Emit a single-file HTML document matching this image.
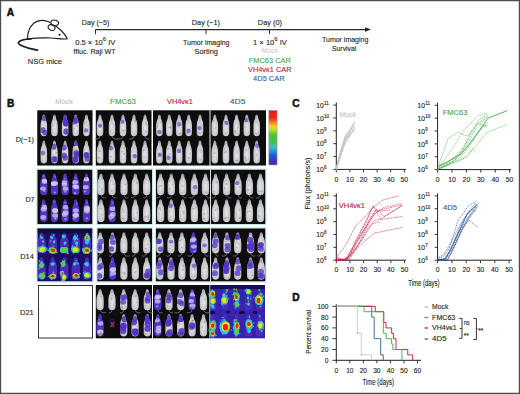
<!DOCTYPE html>
<html><head><meta charset="utf-8"><style>html,body{margin:0;padding:0;background:#fff;width:520px;height:394px;overflow:hidden}svg{display:block}</style></head>
<body><svg width="520" height="394" viewBox="0 0 520 394" font-family='"Liberation Sans", sans-serif'><path d="M0.55,0 V394 M0,0.55 H520 M519.4,0 V394 M0,393.4 H520" fill="none" stroke="#4c4c4c" stroke-width="1.2"/>
<text x="6.8" y="16.1" font-size="10.2" fill="#111" font-weight="bold" stroke="#111" stroke-width="0.5">A</text>
<g fill="none" stroke="#1e1e1e" stroke-width="1.1" stroke-linecap="round"><path d="M27.4,38.9 C27.5,33 30,26.5 34,23 C37.5,20.2 43,19.8 48,21.6 C52.5,23.3 56.5,26.5 60.5,30 C63.5,32.8 66,35.8 67.2,38.8 C64,39.6 58,38.4 51,38 C44,37.7 36,37.9 27.4,38.9 Z"/><ellipse cx="54.7" cy="22.8" rx="3.9" ry="2.6" transform="rotate(12 54.7 22.8)" fill="#fff"/><ellipse cx="51.6" cy="27.6" rx="3.6" ry="2.6" transform="rotate(25 51.6 27.6)" fill="#fff"/><path d="M31,38.8 C25,39 19.5,40.5 18.4,42.4 C18,44.8 24,47.4 37.4,50.2" stroke-width="1.8"/></g><circle cx="59.5" cy="34.7" r="1.05" fill="#111"/>
<text x="27.8" y="64.1" font-size="8" fill="#231f20" textLength="34.2" lengthAdjust="spacingAndGlyphs" stroke="#231f20" stroke-width="0.12">NSG mice</text>
<line x1="95.5" y1="29.6" x2="366" y2="29.6" stroke="#2a2a2a" stroke-width="1.25"/>
<path d="M365,27.3 L371,29.5 L365,31.7 Z" fill="#222"/>
<line x1="95.5" y1="29.5" x2="95.5" y2="34.2" stroke="#333" stroke-width="1"/>
<line x1="206" y1="29.5" x2="206" y2="34.2" stroke="#333" stroke-width="1"/>
<line x1="269.5" y1="29.5" x2="269.5" y2="34.2" stroke="#333" stroke-width="1"/>
<text x="81.8" y="24.7" font-size="7.7" fill="#231f20" textLength="27.6" lengthAdjust="spacingAndGlyphs" stroke="#231f20" stroke-width="0.12">Day (−5)</text>
<text x="191.8" y="24.7" font-size="7.7" fill="#231f20" textLength="28.2" lengthAdjust="spacingAndGlyphs" stroke="#231f20" stroke-width="0.12">Day (−1)</text>
<text x="257.8" y="24.7" font-size="7.7" fill="#231f20" textLength="24.2" lengthAdjust="spacingAndGlyphs" stroke="#231f20" stroke-width="0.12">Day (0)</text>
<text x="75.2" y="44.6" font-size="7.6" fill="#231f20" stroke="#231f20" stroke-width="0.12">0.5 × 10<tspan font-size="5.8" dy="-3.2">6</tspan><tspan dy="3.2"> IV</tspan></text>
<text x="73.6" y="53.6" font-size="7.6" fill="#231f20" textLength="42" lengthAdjust="spacingAndGlyphs" stroke="#231f20" stroke-width="0.12">ffluc. Raji WT</text>
<text x="253" y="44.6" font-size="7.6" fill="#231f20" stroke="#231f20" stroke-width="0.12">1 × 10<tspan font-size="5.8" dy="-3.2">6</tspan><tspan dy="3.2"> IV</tspan></text>
<text x="183" y="44.5" font-size="7.6" fill="#231f20" textLength="46.5" lengthAdjust="spacingAndGlyphs" stroke="#231f20" stroke-width="0.12">Tumor imaging</text>
<text x="194.5" y="53.8" font-size="7.6" fill="#231f20" textLength="23.5" lengthAdjust="spacingAndGlyphs" stroke="#231f20" stroke-width="0.12">Sorting</text>
<text x="261.6" y="53.4" font-size="7.4" fill="#d4ccd4" textLength="16.5" lengthAdjust="spacingAndGlyphs" stroke="#d4ccd4" stroke-width="0.12">Mock</text>
<text x="248.8" y="63.4" font-size="7.4" fill="#4aa84a" textLength="42" lengthAdjust="spacingAndGlyphs" stroke="#4aa84a" stroke-width="0.12">FMC63 CAR</text>
<text x="248" y="72.1" font-size="7.4" fill="#c0163c" textLength="43.5" lengthAdjust="spacingAndGlyphs" stroke="#c0163c" stroke-width="0.12">VH4vκ1 CAR</text>
<text x="253.1" y="80.7" font-size="7.4" fill="#2f5f9a" textLength="31.5" lengthAdjust="spacingAndGlyphs" stroke="#2f5f9a" stroke-width="0.12">4D5 CAR</text>
<text x="322" y="42.1" font-size="7.6" fill="#231f20" textLength="46.3" lengthAdjust="spacingAndGlyphs" stroke="#231f20" stroke-width="0.12">Tumor imaging</text>
<text x="332" y="50.7" font-size="7.6" fill="#231f20" textLength="24.3" lengthAdjust="spacingAndGlyphs" stroke="#231f20" stroke-width="0.12">Survival</text>
<text x="6.9" y="107" font-size="10.2" fill="#111" font-weight="bold" stroke="#111" stroke-width="0.5">B</text>
<text x="55.3" y="104.2" font-size="7" fill="#c4c4c4" textLength="17.6" lengthAdjust="spacingAndGlyphs" stroke="#c4c4c4" stroke-width="0.12">Mock</text>
<text x="110.1" y="104.2" font-size="7" fill="#4aa84a" textLength="25.8" lengthAdjust="spacingAndGlyphs" stroke="#4aa84a" stroke-width="0.12">FMC63</text>
<text x="167" y="104.2" font-size="7" fill="#c0163c" textLength="25.8" lengthAdjust="spacingAndGlyphs" stroke="#c0163c" stroke-width="0.12">VH4vκ1</text>
<text x="229.8" y="104.2" font-size="7" fill="#2f5f9a" textLength="15.6" lengthAdjust="spacingAndGlyphs" stroke="#2f5f9a" stroke-width="0.12">4D5</text>
<text x="15.7" y="141.5" font-size="7.3" fill="#231f20" textLength="18.1" lengthAdjust="spacingAndGlyphs" stroke="#231f20" stroke-width="0.12">D(−1)</text>
<text x="25.4" y="201.8" font-size="7.3" fill="#231f20" textLength="9.2" lengthAdjust="spacingAndGlyphs" stroke="#231f20" stroke-width="0.12">D7</text>
<text x="20.3" y="258.6" font-size="7.3" fill="#231f20" textLength="13.5" lengthAdjust="spacingAndGlyphs" stroke="#231f20" stroke-width="0.12">D14</text>
<text x="20" y="314.5" font-size="7.3" fill="#231f20" textLength="13.8" lengthAdjust="spacingAndGlyphs" stroke="#231f20" stroke-width="0.12">D21</text>
<defs><radialGradient id="mg" cx="0.5" cy="0.6" r="0.6"><stop offset="0" stop-color="#e6e6e8"/><stop offset="0.7" stop-color="#c6c6ca"/><stop offset="1" stop-color="#8a8a90"/></radialGradient><path id="ms" d="M0.5,0 C0.66,0 0.73,0.07 0.74,0.16 C0.75,0.22 0.84,0.25 0.9,0.3 C0.97,0.36 0.99,0.45 1,0.55 L1,0.84 C1,0.96 0.8,1 0.5,1 C0.2,1 0,0.96 0,0.84 L0,0.55 C0.01,0.45 0.03,0.36 0.1,0.3 C0.16,0.25 0.25,0.22 0.26,0.16 C0.27,0.07 0.34,0 0.5,0 Z"/><clipPath id="mc" clipPathUnits="userSpaceOnUse"><use href="#ms"/></clipPath><filter id="bl" x="-5%" y="-5%" width="110%" height="110%"><feGaussianBlur stdDeviation="0.55"/></filter><filter id="bl2" x="-5%" y="-5%" width="110%" height="110%"><feGaussianBlur stdDeviation="0.75"/></filter><linearGradient id="cbar" x1="0" y1="0" x2="0" y2="1"><stop offset="0" stop-color="#e01818"/><stop offset="0.15" stop-color="#e83020"/><stop offset="0.22" stop-color="#f08020"/><stop offset="0.3" stop-color="#f0d820"/><stop offset="0.36" stop-color="#b8e020"/><stop offset="0.45" stop-color="#50c030"/><stop offset="0.6" stop-color="#40c060"/><stop offset="0.66" stop-color="#40c0b8"/><stop offset="0.72" stop-color="#30a0e0"/><stop offset="0.82" stop-color="#2060d0"/><stop offset="0.92" stop-color="#4030c0"/><stop offset="1" stop-color="#502890"/></linearGradient></defs>
<g filter="url(#bl)"><rect x="37.3" y="110.3" width="55.20" height="55.20" fill="#070709"/><g transform="translate(40.46,114.44) scale(6.70,21.80)"><use href="#ms" fill="url(#mg)"/><g clip-path="url(#mc)"><ellipse cx="0.48" cy="0.59" rx="0.17" ry="0.03" fill="#707078" opacity="0.35"/><ellipse cx="0.50" cy="0.61" rx="0.10" ry="0.04" fill="#707078" opacity="0.35"/><ellipse cx="0.56" cy="0.76" rx="0.09" ry="0.03" fill="#707078" opacity="0.35"/><ellipse cx="0.34" cy="0.72" rx="0.40" ry="0.13" fill="#5232c4" opacity="0.75"/><ellipse cx="0.58" cy="0.18" rx="0.40" ry="0.13" fill="#5232c4" opacity="0.75"/><ellipse cx="0.69" cy="0.83" rx="0.40" ry="0.13" fill="#5232c4" opacity="0.75"/></g></g><g transform="translate(51.12,114.44) scale(6.70,21.80)"><use href="#ms" fill="url(#mg)"/><g clip-path="url(#mc)"><ellipse cx="0.58" cy="0.63" rx="0.10" ry="0.02" fill="#707078" opacity="0.35"/><ellipse cx="0.51" cy="0.24" rx="0.10" ry="0.03" fill="#707078" opacity="0.35"/><ellipse cx="0.27" cy="0.52" rx="0.12" ry="0.05" fill="#707078" opacity="0.35"/></g></g><g transform="translate(61.77,114.44) scale(6.70,21.80)"><use href="#ms" fill="url(#mg)"/><g clip-path="url(#mc)"><ellipse cx="0.51" cy="0.65" rx="0.13" ry="0.04" fill="#707078" opacity="0.35"/><ellipse cx="0.48" cy="0.39" rx="0.18" ry="0.05" fill="#707078" opacity="0.35"/><ellipse cx="0.67" cy="0.70" rx="0.11" ry="0.03" fill="#707078" opacity="0.35"/><ellipse cx="0.42" cy="0.14" rx="0.45" ry="0.14" fill="#5232c4" opacity="0.85"/><ellipse cx="0.61" cy="0.42" rx="0.45" ry="0.14" fill="#5232c4" opacity="0.85"/><ellipse cx="0.64" cy="0.40" rx="0.45" ry="0.14" fill="#5232c4" opacity="0.85"/><ellipse cx="0.68" cy="0.79" rx="0.45" ry="0.14" fill="#5232c4" opacity="0.85"/><ellipse cx="0.30" cy="0.26" rx="0.45" ry="0.14" fill="#5232c4" opacity="0.85"/></g></g><g transform="translate(72.42,114.44) scale(6.70,21.80)"><use href="#ms" fill="url(#mg)"/><g clip-path="url(#mc)"><ellipse cx="0.71" cy="0.53" rx="0.18" ry="0.03" fill="#707078" opacity="0.35"/><ellipse cx="0.29" cy="0.64" rx="0.16" ry="0.03" fill="#707078" opacity="0.35"/><ellipse cx="0.29" cy="0.43" rx="0.18" ry="0.04" fill="#707078" opacity="0.35"/><ellipse cx="0.35" cy="0.32" rx="0.40" ry="0.13" fill="#5232c4" opacity="0.75"/><ellipse cx="0.34" cy="0.19" rx="0.40" ry="0.13" fill="#5232c4" opacity="0.75"/><ellipse cx="0.62" cy="0.27" rx="0.40" ry="0.13" fill="#5232c4" opacity="0.75"/></g></g><g transform="translate(83.08,114.44) scale(6.70,21.80)"><use href="#ms" fill="url(#mg)"/><g clip-path="url(#mc)"><ellipse cx="0.53" cy="0.51" rx="0.10" ry="0.04" fill="#707078" opacity="0.35"/><ellipse cx="0.32" cy="0.65" rx="0.09" ry="0.03" fill="#707078" opacity="0.35"/><ellipse cx="0.36" cy="0.39" rx="0.18" ry="0.04" fill="#707078" opacity="0.35"/><ellipse cx="0.44" cy="0.73" rx="0.32" ry="0.10" fill="#5232c4" opacity="0.6"/></g></g><g transform="translate(40.46,140.38) scale(6.70,23.18)"><use href="#ms" fill="url(#mg)"/><g clip-path="url(#mc)"><ellipse cx="0.36" cy="0.48" rx="0.17" ry="0.04" fill="#707078" opacity="0.35"/><ellipse cx="0.30" cy="0.89" rx="0.10" ry="0.03" fill="#707078" opacity="0.35"/><ellipse cx="0.64" cy="0.43" rx="0.11" ry="0.02" fill="#707078" opacity="0.35"/><ellipse cx="0.38" cy="0.55" rx="0.32" ry="0.10" fill="#5232c4" opacity="0.6"/></g></g><g transform="translate(51.12,140.38) scale(6.70,23.18)"><use href="#ms" fill="url(#mg)"/><g clip-path="url(#mc)"><ellipse cx="0.37" cy="0.62" rx="0.12" ry="0.03" fill="#707078" opacity="0.35"/><ellipse cx="0.73" cy="0.54" rx="0.14" ry="0.05" fill="#707078" opacity="0.35"/><ellipse cx="0.34" cy="0.31" rx="0.17" ry="0.04" fill="#707078" opacity="0.35"/><ellipse cx="0.40" cy="0.28" rx="0.40" ry="0.13" fill="#5232c4" opacity="0.75"/><ellipse cx="0.60" cy="0.81" rx="0.40" ry="0.13" fill="#5232c4" opacity="0.75"/><ellipse cx="0.38" cy="0.82" rx="0.40" ry="0.13" fill="#5232c4" opacity="0.75"/></g></g><g transform="translate(61.77,140.38) scale(6.70,23.18)"><use href="#ms" fill="url(#mg)"/><g clip-path="url(#mc)"><ellipse cx="0.69" cy="0.62" rx="0.12" ry="0.02" fill="#707078" opacity="0.35"/><ellipse cx="0.27" cy="0.87" rx="0.10" ry="0.04" fill="#707078" opacity="0.35"/><ellipse cx="0.38" cy="0.78" rx="0.14" ry="0.03" fill="#707078" opacity="0.35"/><ellipse cx="0.37" cy="0.65" rx="0.40" ry="0.13" fill="#5232c4" opacity="0.75"/><ellipse cx="0.33" cy="0.31" rx="0.40" ry="0.13" fill="#5232c4" opacity="0.75"/><ellipse cx="0.52" cy="0.75" rx="0.40" ry="0.13" fill="#5232c4" opacity="0.75"/></g></g><g transform="translate(72.42,140.38) scale(6.70,23.18)"><use href="#ms" fill="url(#mg)"/><g clip-path="url(#mc)"><ellipse cx="0.56" cy="0.40" rx="0.17" ry="0.03" fill="#707078" opacity="0.35"/><ellipse cx="0.26" cy="0.39" rx="0.12" ry="0.02" fill="#707078" opacity="0.35"/><ellipse cx="0.34" cy="0.46" rx="0.14" ry="0.02" fill="#707078" opacity="0.35"/><ellipse cx="0.44" cy="0.83" rx="0.45" ry="0.14" fill="#5232c4" opacity="0.85"/><ellipse cx="0.69" cy="0.63" rx="0.45" ry="0.14" fill="#5232c4" opacity="0.85"/><ellipse cx="0.58" cy="0.57" rx="0.45" ry="0.14" fill="#5232c4" opacity="0.85"/><ellipse cx="0.36" cy="0.11" rx="0.45" ry="0.14" fill="#5232c4" opacity="0.85"/><ellipse cx="0.31" cy="0.84" rx="0.45" ry="0.14" fill="#5232c4" opacity="0.85"/></g></g><g transform="translate(83.08,140.38) scale(6.70,23.18)"><use href="#ms" fill="url(#mg)"/><g clip-path="url(#mc)"><ellipse cx="0.60" cy="0.87" rx="0.08" ry="0.04" fill="#707078" opacity="0.35"/><ellipse cx="0.49" cy="0.71" rx="0.11" ry="0.05" fill="#707078" opacity="0.35"/><ellipse cx="0.29" cy="0.58" rx="0.15" ry="0.05" fill="#707078" opacity="0.35"/><ellipse cx="0.59" cy="0.64" rx="0.40" ry="0.13" fill="#5232c4" opacity="0.75"/><ellipse cx="0.62" cy="0.79" rx="0.40" ry="0.13" fill="#5232c4" opacity="0.75"/><ellipse cx="0.44" cy="0.63" rx="0.40" ry="0.13" fill="#5232c4" opacity="0.75"/></g></g></g>
<g filter="url(#bl)"><rect x="95.8" y="110.3" width="55.70" height="55.20" fill="#070709"/><path d="M100.00,135.24 C100.00,138.24 97.19,139.74 94.39,138.74" fill="none" stroke="#8c8c90" stroke-width="0.8"/><path d="M112.00,135.24 C112.00,138.24 114.92,139.74 117.83,138.74" fill="none" stroke="#8c8c90" stroke-width="0.8"/><path d="M123.00,135.24 C123.00,138.24 120.20,139.74 117.41,138.74" fill="none" stroke="#8c8c90" stroke-width="0.8"/><path d="M134.00,135.24 C134.00,138.24 131.56,139.74 129.13,138.74" fill="none" stroke="#8c8c90" stroke-width="0.8"/><path d="M145.00,135.24 C145.00,138.24 147.07,139.74 149.14,138.74" fill="none" stroke="#8c8c90" stroke-width="0.8"/><g transform="translate(96.65,114.44) scale(6.70,21.80)"><use href="#ms" fill="url(#mg)"/><g clip-path="url(#mc)"><ellipse cx="0.26" cy="0.25" rx="0.09" ry="0.02" fill="#707078" opacity="0.35"/><ellipse cx="0.38" cy="0.49" rx="0.11" ry="0.05" fill="#707078" opacity="0.35"/><ellipse cx="0.60" cy="0.52" rx="0.13" ry="0.04" fill="#707078" opacity="0.35"/><ellipse cx="0.51" cy="0.51" rx="0.32" ry="0.10" fill="#5232c4" opacity="0.6"/></g></g><g transform="translate(108.65,114.44) scale(6.70,21.80)"><use href="#ms" fill="url(#mg)"/><g clip-path="url(#mc)"><ellipse cx="0.41" cy="0.26" rx="0.08" ry="0.05" fill="#707078" opacity="0.35"/><ellipse cx="0.31" cy="0.75" rx="0.15" ry="0.03" fill="#707078" opacity="0.35"/><ellipse cx="0.70" cy="0.46" rx="0.09" ry="0.04" fill="#707078" opacity="0.35"/></g></g><g transform="translate(119.65,114.44) scale(6.70,21.80)"><use href="#ms" fill="url(#mg)"/><g clip-path="url(#mc)"><ellipse cx="0.51" cy="0.73" rx="0.11" ry="0.05" fill="#707078" opacity="0.35"/><ellipse cx="0.50" cy="0.37" rx="0.12" ry="0.03" fill="#707078" opacity="0.35"/><ellipse cx="0.57" cy="0.76" rx="0.16" ry="0.03" fill="#707078" opacity="0.35"/><ellipse cx="0.41" cy="0.33" rx="0.32" ry="0.10" fill="#5232c4" opacity="0.6"/></g></g><g transform="translate(130.65,114.44) scale(6.70,21.80)"><use href="#ms" fill="url(#mg)"/><g clip-path="url(#mc)"><ellipse cx="0.71" cy="0.35" rx="0.09" ry="0.03" fill="#707078" opacity="0.35"/><ellipse cx="0.70" cy="0.23" rx="0.09" ry="0.05" fill="#707078" opacity="0.35"/><ellipse cx="0.66" cy="0.28" rx="0.13" ry="0.05" fill="#707078" opacity="0.35"/></g></g><g transform="translate(141.65,114.44) scale(6.70,21.80)"><use href="#ms" fill="url(#mg)"/><g clip-path="url(#mc)"><ellipse cx="0.67" cy="0.47" rx="0.13" ry="0.04" fill="#707078" opacity="0.35"/><ellipse cx="0.61" cy="0.79" rx="0.14" ry="0.03" fill="#707078" opacity="0.35"/><ellipse cx="0.66" cy="0.39" rx="0.14" ry="0.04" fill="#707078" opacity="0.35"/></g></g><g transform="translate(96.65,140.38) scale(6.70,23.18)"><use href="#ms" fill="url(#mg)"/><g clip-path="url(#mc)"><ellipse cx="0.39" cy="0.45" rx="0.14" ry="0.04" fill="#707078" opacity="0.35"/><ellipse cx="0.57" cy="0.48" rx="0.10" ry="0.04" fill="#707078" opacity="0.35"/><ellipse cx="0.38" cy="0.75" rx="0.16" ry="0.05" fill="#707078" opacity="0.35"/></g></g><g transform="translate(108.65,140.38) scale(6.70,23.18)"><use href="#ms" fill="url(#mg)"/><g clip-path="url(#mc)"><ellipse cx="0.31" cy="0.28" rx="0.13" ry="0.04" fill="#707078" opacity="0.35"/><ellipse cx="0.43" cy="0.25" rx="0.10" ry="0.04" fill="#707078" opacity="0.35"/><ellipse cx="0.38" cy="0.70" rx="0.16" ry="0.04" fill="#707078" opacity="0.35"/><ellipse cx="0.36" cy="0.34" rx="0.32" ry="0.10" fill="#5232c4" opacity="0.6"/></g></g><g transform="translate(119.65,140.38) scale(6.70,23.18)"><use href="#ms" fill="url(#mg)"/><g clip-path="url(#mc)"><ellipse cx="0.64" cy="0.58" rx="0.17" ry="0.04" fill="#707078" opacity="0.35"/><ellipse cx="0.75" cy="0.31" rx="0.16" ry="0.04" fill="#707078" opacity="0.35"/><ellipse cx="0.36" cy="0.49" rx="0.17" ry="0.03" fill="#707078" opacity="0.35"/></g></g><g transform="translate(130.65,140.38) scale(6.70,23.18)"><use href="#ms" fill="url(#mg)"/><g clip-path="url(#mc)"><ellipse cx="0.48" cy="0.34" rx="0.17" ry="0.02" fill="#707078" opacity="0.35"/><ellipse cx="0.53" cy="0.66" rx="0.13" ry="0.04" fill="#707078" opacity="0.35"/><ellipse cx="0.42" cy="0.43" rx="0.18" ry="0.02" fill="#707078" opacity="0.35"/><ellipse cx="0.61" cy="0.68" rx="0.32" ry="0.10" fill="#5232c4" opacity="0.6"/></g></g><g transform="translate(141.65,140.38) scale(6.70,23.18)"><use href="#ms" fill="url(#mg)"/><g clip-path="url(#mc)"><ellipse cx="0.71" cy="0.29" rx="0.10" ry="0.03" fill="#707078" opacity="0.35"/><ellipse cx="0.29" cy="0.42" rx="0.18" ry="0.05" fill="#707078" opacity="0.35"/><ellipse cx="0.38" cy="0.70" rx="0.08" ry="0.04" fill="#707078" opacity="0.35"/></g></g></g>
<g filter="url(#bl)"><rect x="153" y="110.3" width="56.50" height="55.20" fill="#070709"/><g transform="translate(156.05,114.44) scale(6.70,21.80)"><use href="#ms" fill="url(#mg)"/><g clip-path="url(#mc)"><ellipse cx="0.27" cy="0.44" rx="0.12" ry="0.03" fill="#707078" opacity="0.35"/><ellipse cx="0.71" cy="0.35" rx="0.17" ry="0.03" fill="#707078" opacity="0.35"/><ellipse cx="0.27" cy="0.57" rx="0.15" ry="0.05" fill="#707078" opacity="0.35"/><ellipse cx="0.49" cy="0.80" rx="0.32" ry="0.10" fill="#5232c4" opacity="0.6"/></g></g><g transform="translate(165.95,114.44) scale(6.70,21.80)"><use href="#ms" fill="url(#mg)"/><g clip-path="url(#mc)"><ellipse cx="0.70" cy="0.56" rx="0.15" ry="0.03" fill="#707078" opacity="0.35"/><ellipse cx="0.69" cy="0.61" rx="0.15" ry="0.04" fill="#707078" opacity="0.35"/><ellipse cx="0.47" cy="0.59" rx="0.16" ry="0.04" fill="#707078" opacity="0.35"/></g></g><g transform="translate(175.85,114.44) scale(6.70,21.80)"><use href="#ms" fill="url(#mg)"/><g clip-path="url(#mc)"><ellipse cx="0.33" cy="0.56" rx="0.17" ry="0.03" fill="#707078" opacity="0.35"/><ellipse cx="0.59" cy="0.87" rx="0.17" ry="0.04" fill="#707078" opacity="0.35"/><ellipse cx="0.40" cy="0.30" rx="0.13" ry="0.03" fill="#707078" opacity="0.35"/><ellipse cx="0.50" cy="0.45" rx="0.32" ry="0.10" fill="#5232c4" opacity="0.6"/></g></g><g transform="translate(185.35,114.44) scale(6.70,21.80)"><use href="#ms" fill="url(#mg)"/><g clip-path="url(#mc)"><ellipse cx="0.31" cy="0.20" rx="0.12" ry="0.04" fill="#707078" opacity="0.35"/><ellipse cx="0.27" cy="0.84" rx="0.13" ry="0.05" fill="#707078" opacity="0.35"/><ellipse cx="0.31" cy="0.27" rx="0.10" ry="0.05" fill="#707078" opacity="0.35"/><ellipse cx="0.49" cy="0.75" rx="0.32" ry="0.10" fill="#5232c4" opacity="0.6"/></g></g><g transform="translate(196.65,114.44) scale(6.70,21.80)"><use href="#ms" fill="url(#mg)"/><g clip-path="url(#mc)"><ellipse cx="0.65" cy="0.48" rx="0.10" ry="0.03" fill="#707078" opacity="0.35"/><ellipse cx="0.42" cy="0.83" rx="0.17" ry="0.05" fill="#707078" opacity="0.35"/><ellipse cx="0.51" cy="0.28" rx="0.12" ry="0.02" fill="#707078" opacity="0.35"/><ellipse cx="0.43" cy="0.62" rx="0.32" ry="0.10" fill="#5232c4" opacity="0.6"/></g></g><g transform="translate(156.05,140.38) scale(6.70,23.18)"><use href="#ms" fill="url(#mg)"/><g clip-path="url(#mc)"><ellipse cx="0.74" cy="0.22" rx="0.10" ry="0.02" fill="#707078" opacity="0.35"/><ellipse cx="0.39" cy="0.71" rx="0.10" ry="0.03" fill="#707078" opacity="0.35"/><ellipse cx="0.50" cy="0.61" rx="0.17" ry="0.04" fill="#707078" opacity="0.35"/><ellipse cx="0.57" cy="0.62" rx="0.32" ry="0.10" fill="#5232c4" opacity="0.6"/></g></g><g transform="translate(165.95,140.38) scale(6.70,23.18)"><use href="#ms" fill="url(#mg)"/><g clip-path="url(#mc)"><ellipse cx="0.69" cy="0.22" rx="0.14" ry="0.04" fill="#707078" opacity="0.35"/><ellipse cx="0.56" cy="0.58" rx="0.17" ry="0.04" fill="#707078" opacity="0.35"/><ellipse cx="0.36" cy="0.35" rx="0.13" ry="0.04" fill="#707078" opacity="0.35"/><ellipse cx="0.39" cy="0.75" rx="0.32" ry="0.10" fill="#5232c4" opacity="0.6"/></g></g><g transform="translate(175.85,140.38) scale(6.70,23.18)"><use href="#ms" fill="url(#mg)"/><g clip-path="url(#mc)"><ellipse cx="0.56" cy="0.44" rx="0.10" ry="0.04" fill="#707078" opacity="0.35"/><ellipse cx="0.70" cy="0.34" rx="0.16" ry="0.03" fill="#707078" opacity="0.35"/><ellipse cx="0.30" cy="0.82" rx="0.09" ry="0.02" fill="#707078" opacity="0.35"/><ellipse cx="0.47" cy="0.46" rx="0.32" ry="0.10" fill="#5232c4" opacity="0.6"/></g></g><g transform="translate(185.35,140.38) scale(6.70,23.18)"><use href="#ms" fill="url(#mg)"/><g clip-path="url(#mc)"><ellipse cx="0.72" cy="0.58" rx="0.15" ry="0.03" fill="#707078" opacity="0.35"/><ellipse cx="0.56" cy="0.76" rx="0.09" ry="0.04" fill="#707078" opacity="0.35"/><ellipse cx="0.43" cy="0.77" rx="0.12" ry="0.04" fill="#707078" opacity="0.35"/></g></g><g transform="translate(196.65,140.38) scale(6.70,23.18)"><use href="#ms" fill="url(#mg)"/><g clip-path="url(#mc)"><ellipse cx="0.57" cy="0.44" rx="0.18" ry="0.04" fill="#707078" opacity="0.35"/><ellipse cx="0.65" cy="0.54" rx="0.08" ry="0.04" fill="#707078" opacity="0.35"/><ellipse cx="0.56" cy="0.83" rx="0.13" ry="0.03" fill="#707078" opacity="0.35"/></g></g></g>
<g filter="url(#bl)"><rect x="210.5" y="110.3" width="55.50" height="55.20" fill="#070709"/><g transform="translate(211.45,114.44) scale(6.70,21.80)"><use href="#ms" fill="url(#mg)"/><g clip-path="url(#mc)"><ellipse cx="0.31" cy="0.32" rx="0.10" ry="0.03" fill="#707078" opacity="0.35"/><ellipse cx="0.59" cy="0.61" rx="0.09" ry="0.04" fill="#707078" opacity="0.35"/><ellipse cx="0.29" cy="0.27" rx="0.12" ry="0.03" fill="#707078" opacity="0.35"/></g></g><g transform="translate(222.65,114.44) scale(6.70,21.80)"><use href="#ms" fill="url(#mg)"/><g clip-path="url(#mc)"><ellipse cx="0.43" cy="0.35" rx="0.12" ry="0.04" fill="#707078" opacity="0.35"/><ellipse cx="0.27" cy="0.34" rx="0.12" ry="0.03" fill="#707078" opacity="0.35"/><ellipse cx="0.44" cy="0.85" rx="0.14" ry="0.02" fill="#707078" opacity="0.35"/><ellipse cx="0.59" cy="0.39" rx="0.32" ry="0.10" fill="#5232c4" opacity="0.6"/></g></g><g transform="translate(233.25,114.44) scale(6.70,21.80)"><use href="#ms" fill="url(#mg)"/><g clip-path="url(#mc)"><ellipse cx="0.29" cy="0.79" rx="0.17" ry="0.05" fill="#707078" opacity="0.35"/><ellipse cx="0.72" cy="0.60" rx="0.10" ry="0.04" fill="#707078" opacity="0.35"/><ellipse cx="0.42" cy="0.73" rx="0.11" ry="0.02" fill="#707078" opacity="0.35"/></g></g><g transform="translate(243.45,114.44) scale(6.70,21.80)"><use href="#ms" fill="url(#mg)"/><g clip-path="url(#mc)"><ellipse cx="0.62" cy="0.31" rx="0.17" ry="0.02" fill="#707078" opacity="0.35"/><ellipse cx="0.41" cy="0.58" rx="0.12" ry="0.03" fill="#707078" opacity="0.35"/><ellipse cx="0.34" cy="0.34" rx="0.10" ry="0.04" fill="#707078" opacity="0.35"/><ellipse cx="0.44" cy="0.26" rx="0.32" ry="0.10" fill="#5232c4" opacity="0.6"/></g></g><g transform="translate(253.35,114.44) scale(6.70,21.80)"><use href="#ms" fill="url(#mg)"/><g clip-path="url(#mc)"><ellipse cx="0.69" cy="0.89" rx="0.17" ry="0.02" fill="#707078" opacity="0.35"/><ellipse cx="0.39" cy="0.87" rx="0.11" ry="0.03" fill="#707078" opacity="0.35"/><ellipse cx="0.45" cy="0.33" rx="0.09" ry="0.04" fill="#707078" opacity="0.35"/></g></g><g transform="translate(211.45,140.38) scale(6.70,23.18)"><use href="#ms" fill="url(#mg)"/><g clip-path="url(#mc)"><ellipse cx="0.50" cy="0.35" rx="0.09" ry="0.03" fill="#707078" opacity="0.35"/><ellipse cx="0.54" cy="0.28" rx="0.09" ry="0.03" fill="#707078" opacity="0.35"/><ellipse cx="0.47" cy="0.55" rx="0.16" ry="0.04" fill="#707078" opacity="0.35"/></g></g><g transform="translate(222.65,140.38) scale(6.70,23.18)"><use href="#ms" fill="url(#mg)"/><g clip-path="url(#mc)"><ellipse cx="0.26" cy="0.38" rx="0.11" ry="0.03" fill="#707078" opacity="0.35"/><ellipse cx="0.52" cy="0.49" rx="0.13" ry="0.05" fill="#707078" opacity="0.35"/><ellipse cx="0.30" cy="0.51" rx="0.14" ry="0.04" fill="#707078" opacity="0.35"/></g></g><g transform="translate(233.25,140.38) scale(6.70,23.18)"><use href="#ms" fill="url(#mg)"/><g clip-path="url(#mc)"><ellipse cx="0.58" cy="0.87" rx="0.12" ry="0.05" fill="#707078" opacity="0.35"/><ellipse cx="0.44" cy="0.88" rx="0.17" ry="0.04" fill="#707078" opacity="0.35"/><ellipse cx="0.55" cy="0.50" rx="0.13" ry="0.03" fill="#707078" opacity="0.35"/></g></g><g transform="translate(243.45,140.38) scale(6.70,23.18)"><use href="#ms" fill="url(#mg)"/><g clip-path="url(#mc)"><ellipse cx="0.45" cy="0.42" rx="0.13" ry="0.03" fill="#707078" opacity="0.35"/><ellipse cx="0.38" cy="0.85" rx="0.15" ry="0.04" fill="#707078" opacity="0.35"/><ellipse cx="0.26" cy="0.74" rx="0.14" ry="0.04" fill="#707078" opacity="0.35"/></g></g><g transform="translate(253.35,140.38) scale(6.70,23.18)"><use href="#ms" fill="url(#mg)"/><g clip-path="url(#mc)"><ellipse cx="0.45" cy="0.68" rx="0.09" ry="0.03" fill="#707078" opacity="0.35"/><ellipse cx="0.45" cy="0.61" rx="0.15" ry="0.03" fill="#707078" opacity="0.35"/><ellipse cx="0.65" cy="0.36" rx="0.15" ry="0.03" fill="#707078" opacity="0.35"/><ellipse cx="0.58" cy="0.23" rx="0.32" ry="0.10" fill="#5232c4" opacity="0.6"/></g></g></g>
<g filter="url(#bl)"><rect x="37.3" y="169.5" width="55.20" height="54.50" fill="#070709"/><g transform="translate(40.11,173.59) scale(7.40,21.53)"><use href="#ms" fill="#5232c4"/><g clip-path="url(#mc)"><ellipse cx="0.38" cy="0.70" rx="0.40" ry="0.10" fill="#d4ccee" opacity="0.75"/><ellipse cx="0.62" cy="0.33" rx="0.40" ry="0.10" fill="#d4ccee" opacity="0.75"/><ellipse cx="0.64" cy="0.38" rx="0.40" ry="0.10" fill="#d4ccee" opacity="0.75"/><ellipse cx="0.58" cy="0.81" rx="0.20" ry="0.05" fill="#90a8f4" opacity="0.8"/><ellipse cx="0.47" cy="0.12" rx="0.18" ry="0.05" fill="#8870e0" opacity="0.7"/></g></g><g transform="translate(50.77,173.59) scale(7.40,21.53)"><use href="#ms" fill="#5232c4"/><g clip-path="url(#mc)"><ellipse cx="0.61" cy="0.45" rx="0.40" ry="0.10" fill="#d4ccee" opacity="0.75"/><ellipse cx="0.40" cy="0.45" rx="0.40" ry="0.10" fill="#d4ccee" opacity="0.75"/><ellipse cx="0.39" cy="0.48" rx="0.40" ry="0.10" fill="#d4ccee" opacity="0.75"/><ellipse cx="0.54" cy="0.88" rx="0.20" ry="0.05" fill="#90a8f4" opacity="0.8"/><ellipse cx="0.57" cy="0.15" rx="0.18" ry="0.05" fill="#8870e0" opacity="0.7"/></g></g><g transform="translate(61.42,173.59) scale(7.40,21.53)"><use href="#ms" fill="#5232c4"/><g clip-path="url(#mc)"><ellipse cx="0.57" cy="0.70" rx="0.40" ry="0.10" fill="#d4ccee" opacity="0.75"/><ellipse cx="0.39" cy="0.41" rx="0.40" ry="0.10" fill="#d4ccee" opacity="0.75"/><ellipse cx="0.39" cy="0.51" rx="0.40" ry="0.10" fill="#d4ccee" opacity="0.75"/><ellipse cx="0.50" cy="0.84" rx="0.20" ry="0.05" fill="#90a8f4" opacity="0.8"/><ellipse cx="0.50" cy="0.23" rx="0.18" ry="0.05" fill="#8870e0" opacity="0.7"/></g></g><g transform="translate(72.07,173.59) scale(7.40,21.53)"><use href="#ms" fill="#5232c4"/><g clip-path="url(#mc)"><ellipse cx="0.43" cy="0.59" rx="0.40" ry="0.10" fill="#d4ccee" opacity="0.75"/><ellipse cx="0.57" cy="0.63" rx="0.40" ry="0.10" fill="#d4ccee" opacity="0.75"/><ellipse cx="0.41" cy="0.40" rx="0.40" ry="0.10" fill="#d4ccee" opacity="0.75"/><ellipse cx="0.40" cy="0.91" rx="0.20" ry="0.05" fill="#90a8f4" opacity="0.8"/><ellipse cx="0.50" cy="0.20" rx="0.18" ry="0.05" fill="#8870e0" opacity="0.7"/></g></g><g transform="translate(82.73,173.59) scale(7.40,21.53)"><use href="#ms" fill="#5232c4"/><g clip-path="url(#mc)"><ellipse cx="0.41" cy="0.63" rx="0.40" ry="0.10" fill="#d4ccee" opacity="0.75"/><ellipse cx="0.54" cy="0.26" rx="0.40" ry="0.10" fill="#d4ccee" opacity="0.75"/><ellipse cx="0.43" cy="0.26" rx="0.40" ry="0.10" fill="#d4ccee" opacity="0.75"/><ellipse cx="0.32" cy="0.83" rx="0.20" ry="0.05" fill="#90a8f4" opacity="0.8"/><ellipse cx="0.41" cy="0.21" rx="0.18" ry="0.05" fill="#8870e0" opacity="0.7"/></g></g><g transform="translate(40.11,199.20) scale(7.40,22.89)"><use href="#ms" fill="#5232c4"/><g clip-path="url(#mc)"><ellipse cx="0.62" cy="0.34" rx="0.40" ry="0.10" fill="#d4ccee" opacity="0.75"/><ellipse cx="0.42" cy="0.79" rx="0.40" ry="0.10" fill="#d4ccee" opacity="0.75"/><ellipse cx="0.50" cy="0.44" rx="0.40" ry="0.10" fill="#d4ccee" opacity="0.75"/><ellipse cx="0.44" cy="0.86" rx="0.20" ry="0.05" fill="#90a8f4" opacity="0.8"/><ellipse cx="0.35" cy="0.23" rx="0.18" ry="0.05" fill="#8870e0" opacity="0.7"/></g></g><g transform="translate(50.77,199.20) scale(7.40,22.89)"><use href="#ms" fill="#5232c4"/><g clip-path="url(#mc)"><ellipse cx="0.59" cy="0.50" rx="0.40" ry="0.10" fill="#d4ccee" opacity="0.75"/><ellipse cx="0.60" cy="0.71" rx="0.40" ry="0.10" fill="#d4ccee" opacity="0.75"/><ellipse cx="0.58" cy="0.49" rx="0.40" ry="0.10" fill="#d4ccee" opacity="0.75"/><ellipse cx="0.60" cy="0.85" rx="0.20" ry="0.05" fill="#90a8f4" opacity="0.8"/><ellipse cx="0.36" cy="0.12" rx="0.18" ry="0.05" fill="#8870e0" opacity="0.7"/></g></g><g transform="translate(61.42,199.20) scale(7.40,22.89)"><use href="#ms" fill="#5232c4"/><g clip-path="url(#mc)"><ellipse cx="0.60" cy="0.58" rx="0.40" ry="0.10" fill="#d4ccee" opacity="0.75"/><ellipse cx="0.44" cy="0.67" rx="0.40" ry="0.10" fill="#d4ccee" opacity="0.75"/><ellipse cx="0.60" cy="0.35" rx="0.40" ry="0.10" fill="#d4ccee" opacity="0.75"/><ellipse cx="0.56" cy="0.87" rx="0.20" ry="0.05" fill="#90a8f4" opacity="0.8"/><ellipse cx="0.48" cy="0.15" rx="0.18" ry="0.05" fill="#8870e0" opacity="0.7"/></g></g><g transform="translate(72.07,199.20) scale(7.40,22.89)"><use href="#ms" fill="#5232c4"/><g clip-path="url(#mc)"><ellipse cx="0.51" cy="0.49" rx="0.40" ry="0.10" fill="#d4ccee" opacity="0.75"/><ellipse cx="0.52" cy="0.70" rx="0.40" ry="0.10" fill="#d4ccee" opacity="0.75"/><ellipse cx="0.49" cy="0.70" rx="0.40" ry="0.10" fill="#d4ccee" opacity="0.75"/><ellipse cx="0.30" cy="0.84" rx="0.20" ry="0.05" fill="#90a8f4" opacity="0.8"/><ellipse cx="0.66" cy="0.19" rx="0.18" ry="0.05" fill="#8870e0" opacity="0.7"/></g></g><g transform="translate(82.73,199.20) scale(7.40,22.89)"><use href="#ms" fill="#5232c4"/><g clip-path="url(#mc)"><ellipse cx="0.56" cy="0.52" rx="0.40" ry="0.10" fill="#d4ccee" opacity="0.75"/><ellipse cx="0.58" cy="0.43" rx="0.40" ry="0.10" fill="#d4ccee" opacity="0.75"/><ellipse cx="0.61" cy="0.37" rx="0.40" ry="0.10" fill="#d4ccee" opacity="0.75"/><ellipse cx="0.56" cy="0.84" rx="0.20" ry="0.05" fill="#90a8f4" opacity="0.8"/><ellipse cx="0.66" cy="0.15" rx="0.18" ry="0.05" fill="#8870e0" opacity="0.7"/></g></g></g><rect x="36.8" y="169.0" width="56.20" height="55.50" fill="none" stroke="#c8e6e6" stroke-width="1"/>
<g filter="url(#bl)"><rect x="97.3" y="169.5" width="54.70" height="54.50" fill="#070709"/><path d="M101.00,194.12 C101.00,197.12 103.35,198.62 105.71,197.62" fill="none" stroke="#8c8c90" stroke-width="0.8"/><path d="M112.00,194.12 C112.00,197.12 114.16,198.62 116.31,197.62" fill="none" stroke="#8c8c90" stroke-width="0.8"/><path d="M124.00,194.12 C124.00,197.12 126.19,198.62 128.37,197.62" fill="none" stroke="#8c8c90" stroke-width="0.8"/><path d="M135.30,194.12 C135.30,197.12 133.20,198.62 131.10,197.62" fill="none" stroke="#8c8c90" stroke-width="0.8"/><path d="M146.70,194.12 C146.70,197.12 145.07,198.62 143.45,197.62" fill="none" stroke="#8c8c90" stroke-width="0.8"/><g transform="translate(97.30,173.59) scale(7.40,21.53)"><use href="#ms" fill="url(#mg)"/><g clip-path="url(#mc)"><ellipse cx="0.66" cy="0.22" rx="0.15" ry="0.04" fill="#707078" opacity="0.35"/><ellipse cx="0.65" cy="0.72" rx="0.12" ry="0.03" fill="#707078" opacity="0.35"/><ellipse cx="0.33" cy="0.61" rx="0.10" ry="0.02" fill="#707078" opacity="0.35"/></g></g><g transform="translate(108.30,173.59) scale(7.40,21.53)"><use href="#ms" fill="url(#mg)"/><g clip-path="url(#mc)"><ellipse cx="0.48" cy="0.80" rx="0.16" ry="0.03" fill="#707078" opacity="0.35"/><ellipse cx="0.28" cy="0.31" rx="0.11" ry="0.02" fill="#707078" opacity="0.35"/><ellipse cx="0.67" cy="0.50" rx="0.14" ry="0.03" fill="#707078" opacity="0.35"/></g></g><g transform="translate(120.30,173.59) scale(7.40,21.53)"><use href="#ms" fill="url(#mg)"/><g clip-path="url(#mc)"><ellipse cx="0.52" cy="0.43" rx="0.11" ry="0.02" fill="#707078" opacity="0.35"/><ellipse cx="0.41" cy="0.22" rx="0.15" ry="0.02" fill="#707078" opacity="0.35"/><ellipse cx="0.66" cy="0.50" rx="0.15" ry="0.03" fill="#707078" opacity="0.35"/></g></g><g transform="translate(131.60,173.59) scale(7.40,21.53)"><use href="#ms" fill="url(#mg)"/><g clip-path="url(#mc)"><ellipse cx="0.70" cy="0.44" rx="0.13" ry="0.03" fill="#707078" opacity="0.35"/><ellipse cx="0.65" cy="0.43" rx="0.09" ry="0.03" fill="#707078" opacity="0.35"/><ellipse cx="0.65" cy="0.25" rx="0.14" ry="0.02" fill="#707078" opacity="0.35"/></g></g><g transform="translate(143.00,173.59) scale(7.40,21.53)"><use href="#ms" fill="url(#mg)"/><g clip-path="url(#mc)"><ellipse cx="0.63" cy="0.89" rx="0.11" ry="0.02" fill="#707078" opacity="0.35"/><ellipse cx="0.44" cy="0.26" rx="0.13" ry="0.04" fill="#707078" opacity="0.35"/><ellipse cx="0.26" cy="0.45" rx="0.08" ry="0.02" fill="#707078" opacity="0.35"/></g></g><g transform="translate(97.30,199.20) scale(7.40,22.89)"><use href="#ms" fill="url(#mg)"/><g clip-path="url(#mc)"><ellipse cx="0.71" cy="0.84" rx="0.10" ry="0.02" fill="#707078" opacity="0.35"/><ellipse cx="0.57" cy="0.68" rx="0.11" ry="0.03" fill="#707078" opacity="0.35"/><ellipse cx="0.51" cy="0.39" rx="0.17" ry="0.03" fill="#707078" opacity="0.35"/></g></g><g transform="translate(108.30,199.20) scale(7.40,22.89)"><use href="#ms" fill="#5232c4"/><g clip-path="url(#mc)"><ellipse cx="0.57" cy="0.42" rx="0.40" ry="0.10" fill="#d4ccee" opacity="0.75"/><ellipse cx="0.40" cy="0.76" rx="0.40" ry="0.10" fill="#d4ccee" opacity="0.75"/><ellipse cx="0.62" cy="0.66" rx="0.40" ry="0.10" fill="#d4ccee" opacity="0.75"/><ellipse cx="0.31" cy="0.86" rx="0.20" ry="0.05" fill="#90a8f4" opacity="0.8"/><ellipse cx="0.62" cy="0.15" rx="0.18" ry="0.05" fill="#8870e0" opacity="0.7"/></g></g><g transform="translate(120.30,199.20) scale(7.40,22.89)"><use href="#ms" fill="url(#mg)"/><g clip-path="url(#mc)"><ellipse cx="0.35" cy="0.45" rx="0.14" ry="0.04" fill="#707078" opacity="0.35"/><ellipse cx="0.49" cy="0.56" rx="0.12" ry="0.05" fill="#707078" opacity="0.35"/><ellipse cx="0.45" cy="0.84" rx="0.17" ry="0.04" fill="#707078" opacity="0.35"/></g></g><g transform="translate(131.60,199.20) scale(7.40,22.89)"><use href="#ms" fill="url(#mg)"/><g clip-path="url(#mc)"><ellipse cx="0.72" cy="0.59" rx="0.17" ry="0.03" fill="#707078" opacity="0.35"/><ellipse cx="0.45" cy="0.87" rx="0.15" ry="0.04" fill="#707078" opacity="0.35"/><ellipse cx="0.30" cy="0.80" rx="0.12" ry="0.03" fill="#707078" opacity="0.35"/></g></g><g transform="translate(143.00,199.20) scale(7.40,22.89)"><use href="#ms" fill="url(#mg)"/><g clip-path="url(#mc)"><ellipse cx="0.32" cy="0.76" rx="0.18" ry="0.04" fill="#707078" opacity="0.35"/><ellipse cx="0.64" cy="0.75" rx="0.09" ry="0.05" fill="#707078" opacity="0.35"/><ellipse cx="0.70" cy="0.81" rx="0.17" ry="0.03" fill="#707078" opacity="0.35"/></g></g></g><rect x="96.8" y="169.0" width="55.70" height="55.50" fill="none" stroke="#c8e6e6" stroke-width="1"/>
<g filter="url(#bl)"><rect x="156" y="169.5" width="54.50" height="54.50" fill="#070709"/><path d="M160.60,194.12 C160.60,197.12 158.03,198.62 155.46,197.62" fill="none" stroke="#8c8c90" stroke-width="0.8"/><path d="M171.30,194.12 C171.30,197.12 169.18,198.62 167.05,197.62" fill="none" stroke="#8c8c90" stroke-width="0.8"/><path d="M182.70,194.12 C182.70,197.12 184.42,198.62 186.13,197.62" fill="none" stroke="#8c8c90" stroke-width="0.8"/><path d="M194.40,194.12 C194.40,197.12 191.94,198.62 189.49,197.62" fill="none" stroke="#8c8c90" stroke-width="0.8"/><path d="M205.50,194.12 C205.50,197.12 207.77,198.62 210.05,197.62" fill="none" stroke="#8c8c90" stroke-width="0.8"/><g transform="translate(156.90,173.59) scale(7.40,21.53)"><use href="#ms" fill="url(#mg)"/><g clip-path="url(#mc)"><ellipse cx="0.28" cy="0.60" rx="0.10" ry="0.03" fill="#707078" opacity="0.35"/><ellipse cx="0.71" cy="0.30" rx="0.09" ry="0.03" fill="#707078" opacity="0.35"/><ellipse cx="0.56" cy="0.57" rx="0.17" ry="0.04" fill="#707078" opacity="0.35"/></g></g><g transform="translate(167.60,173.59) scale(7.40,21.53)"><use href="#ms" fill="url(#mg)"/><g clip-path="url(#mc)"><ellipse cx="0.29" cy="0.72" rx="0.13" ry="0.04" fill="#707078" opacity="0.35"/><ellipse cx="0.26" cy="0.33" rx="0.10" ry="0.04" fill="#707078" opacity="0.35"/><ellipse cx="0.64" cy="0.51" rx="0.08" ry="0.03" fill="#707078" opacity="0.35"/></g></g><g transform="translate(179.00,173.59) scale(7.40,21.53)"><use href="#ms" fill="url(#mg)"/><g clip-path="url(#mc)"><ellipse cx="0.50" cy="0.86" rx="0.18" ry="0.03" fill="#707078" opacity="0.35"/><ellipse cx="0.45" cy="0.59" rx="0.18" ry="0.04" fill="#707078" opacity="0.35"/><ellipse cx="0.28" cy="0.25" rx="0.09" ry="0.04" fill="#707078" opacity="0.35"/></g></g><g transform="translate(190.70,173.59) scale(7.40,21.53)"><use href="#ms" fill="url(#mg)"/><g clip-path="url(#mc)"><ellipse cx="0.59" cy="0.72" rx="0.16" ry="0.02" fill="#707078" opacity="0.35"/><ellipse cx="0.47" cy="0.80" rx="0.15" ry="0.03" fill="#707078" opacity="0.35"/><ellipse cx="0.40" cy="0.28" rx="0.16" ry="0.05" fill="#707078" opacity="0.35"/><ellipse cx="0.60" cy="0.63" rx="0.32" ry="0.10" fill="#5232c4" opacity="0.6"/></g></g><g transform="translate(201.80,173.59) scale(7.40,21.53)"><use href="#ms" fill="url(#mg)"/><g clip-path="url(#mc)"><ellipse cx="0.70" cy="0.31" rx="0.14" ry="0.05" fill="#707078" opacity="0.35"/><ellipse cx="0.62" cy="0.87" rx="0.16" ry="0.04" fill="#707078" opacity="0.35"/><ellipse cx="0.29" cy="0.33" rx="0.12" ry="0.02" fill="#707078" opacity="0.35"/></g></g><g transform="translate(156.90,199.20) scale(7.40,22.89)"><use href="#ms" fill="url(#mg)"/><g clip-path="url(#mc)"><ellipse cx="0.40" cy="0.39" rx="0.13" ry="0.04" fill="#707078" opacity="0.35"/><ellipse cx="0.47" cy="0.47" rx="0.09" ry="0.04" fill="#707078" opacity="0.35"/><ellipse cx="0.32" cy="0.64" rx="0.10" ry="0.03" fill="#707078" opacity="0.35"/></g></g><g transform="translate(167.60,199.20) scale(7.40,22.89)"><use href="#ms" fill="url(#mg)"/><g clip-path="url(#mc)"><ellipse cx="0.27" cy="0.52" rx="0.15" ry="0.02" fill="#707078" opacity="0.35"/><ellipse cx="0.27" cy="0.89" rx="0.12" ry="0.04" fill="#707078" opacity="0.35"/><ellipse cx="0.42" cy="0.78" rx="0.17" ry="0.02" fill="#707078" opacity="0.35"/><ellipse cx="0.41" cy="0.29" rx="0.32" ry="0.10" fill="#5232c4" opacity="0.6"/></g></g><g transform="translate(179.00,199.20) scale(7.40,22.89)"><use href="#ms" fill="url(#mg)"/><g clip-path="url(#mc)"><ellipse cx="0.60" cy="0.54" rx="0.17" ry="0.04" fill="#707078" opacity="0.35"/><ellipse cx="0.61" cy="0.63" rx="0.11" ry="0.04" fill="#707078" opacity="0.35"/><ellipse cx="0.37" cy="0.89" rx="0.13" ry="0.03" fill="#707078" opacity="0.35"/></g></g><g transform="translate(190.70,199.20) scale(7.40,22.89)"><use href="#ms" fill="url(#mg)"/><g clip-path="url(#mc)"><ellipse cx="0.34" cy="0.41" rx="0.12" ry="0.04" fill="#707078" opacity="0.35"/><ellipse cx="0.35" cy="0.43" rx="0.11" ry="0.02" fill="#707078" opacity="0.35"/><ellipse cx="0.61" cy="0.38" rx="0.13" ry="0.03" fill="#707078" opacity="0.35"/></g></g><g transform="translate(201.80,199.20) scale(7.40,22.89)"><use href="#ms" fill="url(#mg)"/><g clip-path="url(#mc)"><ellipse cx="0.37" cy="0.63" rx="0.13" ry="0.04" fill="#707078" opacity="0.35"/><ellipse cx="0.35" cy="0.85" rx="0.18" ry="0.04" fill="#707078" opacity="0.35"/><ellipse cx="0.72" cy="0.60" rx="0.08" ry="0.04" fill="#707078" opacity="0.35"/></g></g></g><rect x="155.5" y="169.0" width="55.50" height="55.50" fill="none" stroke="#c8e6e6" stroke-width="1"/>
<g filter="url(#bl)"><rect x="211" y="169.5" width="54.50" height="54.50" fill="#070709"/><path d="M215.60,194.12 C215.60,197.12 213.90,198.62 212.19,197.62" fill="none" stroke="#8c8c90" stroke-width="0.8"/><path d="M226.60,194.12 C226.60,197.12 228.96,198.62 231.33,197.62" fill="none" stroke="#8c8c90" stroke-width="0.8"/><path d="M238.10,194.12 C238.10,197.12 240.09,198.62 242.09,197.62" fill="none" stroke="#8c8c90" stroke-width="0.8"/><path d="M249.40,194.12 C249.40,197.12 251.30,198.62 253.20,197.62" fill="none" stroke="#8c8c90" stroke-width="0.8"/><path d="M260.50,194.12 C260.50,197.12 258.32,198.62 256.14,197.62" fill="none" stroke="#8c8c90" stroke-width="0.8"/><g transform="translate(211.90,173.59) scale(7.40,21.53)"><use href="#ms" fill="url(#mg)"/><g clip-path="url(#mc)"><ellipse cx="0.61" cy="0.37" rx="0.14" ry="0.04" fill="#707078" opacity="0.35"/><ellipse cx="0.28" cy="0.84" rx="0.10" ry="0.04" fill="#707078" opacity="0.35"/><ellipse cx="0.70" cy="0.43" rx="0.09" ry="0.05" fill="#707078" opacity="0.35"/></g></g><g transform="translate(222.90,173.59) scale(7.40,21.53)"><use href="#ms" fill="url(#mg)"/><g clip-path="url(#mc)"><ellipse cx="0.25" cy="0.68" rx="0.12" ry="0.04" fill="#707078" opacity="0.35"/><ellipse cx="0.43" cy="0.32" rx="0.14" ry="0.04" fill="#707078" opacity="0.35"/><ellipse cx="0.48" cy="0.48" rx="0.16" ry="0.05" fill="#707078" opacity="0.35"/></g></g><g transform="translate(234.40,173.59) scale(7.40,21.53)"><use href="#ms" fill="url(#mg)"/><g clip-path="url(#mc)"><ellipse cx="0.75" cy="0.30" rx="0.16" ry="0.05" fill="#707078" opacity="0.35"/><ellipse cx="0.70" cy="0.63" rx="0.14" ry="0.04" fill="#707078" opacity="0.35"/><ellipse cx="0.33" cy="0.49" rx="0.08" ry="0.04" fill="#707078" opacity="0.35"/><ellipse cx="0.39" cy="0.44" rx="0.32" ry="0.10" fill="#5232c4" opacity="0.6"/></g></g><g transform="translate(245.70,173.59) scale(7.40,21.53)"><use href="#ms" fill="url(#mg)"/><g clip-path="url(#mc)"><ellipse cx="0.42" cy="0.29" rx="0.10" ry="0.05" fill="#707078" opacity="0.35"/><ellipse cx="0.28" cy="0.75" rx="0.15" ry="0.04" fill="#707078" opacity="0.35"/><ellipse cx="0.45" cy="0.55" rx="0.09" ry="0.03" fill="#707078" opacity="0.35"/></g></g><g transform="translate(256.80,173.59) scale(7.40,21.53)"><use href="#ms" fill="url(#mg)"/><g clip-path="url(#mc)"><ellipse cx="0.70" cy="0.84" rx="0.14" ry="0.03" fill="#707078" opacity="0.35"/><ellipse cx="0.39" cy="0.82" rx="0.13" ry="0.05" fill="#707078" opacity="0.35"/><ellipse cx="0.60" cy="0.78" rx="0.09" ry="0.02" fill="#707078" opacity="0.35"/></g></g><g transform="translate(211.90,199.20) scale(7.40,22.89)"><use href="#ms" fill="url(#mg)"/><g clip-path="url(#mc)"><ellipse cx="0.72" cy="0.43" rx="0.13" ry="0.03" fill="#707078" opacity="0.35"/><ellipse cx="0.26" cy="0.84" rx="0.11" ry="0.04" fill="#707078" opacity="0.35"/><ellipse cx="0.47" cy="0.46" rx="0.11" ry="0.04" fill="#707078" opacity="0.35"/></g></g><g transform="translate(222.90,199.20) scale(7.40,22.89)"><use href="#ms" fill="url(#mg)"/><g clip-path="url(#mc)"><ellipse cx="0.69" cy="0.81" rx="0.10" ry="0.05" fill="#707078" opacity="0.35"/><ellipse cx="0.37" cy="0.81" rx="0.18" ry="0.03" fill="#707078" opacity="0.35"/><ellipse cx="0.30" cy="0.84" rx="0.13" ry="0.04" fill="#707078" opacity="0.35"/></g></g><g transform="translate(234.40,199.20) scale(7.40,22.89)"><use href="#ms" fill="url(#mg)"/><g clip-path="url(#mc)"><ellipse cx="0.72" cy="0.82" rx="0.18" ry="0.04" fill="#707078" opacity="0.35"/><ellipse cx="0.69" cy="0.46" rx="0.13" ry="0.04" fill="#707078" opacity="0.35"/><ellipse cx="0.33" cy="0.65" rx="0.12" ry="0.02" fill="#707078" opacity="0.35"/></g></g><g transform="translate(245.70,199.20) scale(7.40,22.89)"><use href="#ms" fill="url(#mg)"/><g clip-path="url(#mc)"><ellipse cx="0.29" cy="0.56" rx="0.09" ry="0.05" fill="#707078" opacity="0.35"/><ellipse cx="0.54" cy="0.52" rx="0.11" ry="0.04" fill="#707078" opacity="0.35"/><ellipse cx="0.26" cy="0.32" rx="0.12" ry="0.03" fill="#707078" opacity="0.35"/></g></g><g transform="translate(256.80,199.20) scale(7.40,22.89)"><use href="#ms" fill="url(#mg)"/><g clip-path="url(#mc)"><ellipse cx="0.52" cy="0.30" rx="0.15" ry="0.03" fill="#707078" opacity="0.35"/><ellipse cx="0.40" cy="0.52" rx="0.11" ry="0.03" fill="#707078" opacity="0.35"/><ellipse cx="0.32" cy="0.74" rx="0.16" ry="0.05" fill="#707078" opacity="0.35"/></g></g></g><rect x="210.5" y="169.0" width="55.50" height="55.50" fill="none" stroke="#c8e6e6" stroke-width="1"/>
<g filter="url(#bl2)"><rect x="37.3" y="228.3" width="55.20" height="53.20" fill="#1a0e62"/><g transform="translate(37.20,232.29) scale(8.60,21.01)"><use href="#ms" fill="#4a2cbc"/><g clip-path="url(#mc)"></g></g><g transform="translate(48.50,232.29) scale(8.60,21.01)"><use href="#ms" fill="#4a2cbc"/><g clip-path="url(#mc)"></g></g><g transform="translate(60.00,232.29) scale(8.60,21.01)"><use href="#ms" fill="#4a2cbc"/><g clip-path="url(#mc)"></g></g><g transform="translate(71.50,232.29) scale(8.60,21.01)"><use href="#ms" fill="#4a2cbc"/><g clip-path="url(#mc)"></g></g><g transform="translate(82.70,232.29) scale(8.60,21.01)"><use href="#ms" fill="#4a2cbc"/><g clip-path="url(#mc)"></g></g><g transform="translate(37.20,257.29) scale(8.60,22.34)"><use href="#ms" fill="#4a2cbc"/><g clip-path="url(#mc)"></g></g><g transform="translate(48.50,257.29) scale(8.60,22.34)"><use href="#ms" fill="#4a2cbc"/><g clip-path="url(#mc)"></g></g><g transform="translate(60.00,257.29) scale(8.60,22.34)"><use href="#ms" fill="#4a2cbc"/><g clip-path="url(#mc)"></g></g><g transform="translate(71.50,257.29) scale(8.60,22.34)"><use href="#ms" fill="#4a2cbc"/><g clip-path="url(#mc)"></g></g><g transform="translate(82.70,257.29) scale(8.60,22.34)"><use href="#ms" fill="#4a2cbc"/><g clip-path="url(#mc)"></g></g><rect x="37.3" y="228.3" width="55.2" height="5" fill="#0a0830" opacity="0.8"/><ellipse cx="41.08" cy="237.19" rx="1.00" ry="1.25" fill="#38c0e8" opacity="0.95"/><ellipse cx="41.18" cy="237.35" rx="1.00" ry="1.25" fill="#38c0e8" opacity="0.95"/><ellipse cx="41.15" cy="237.33" rx="1.00" ry="1.25" fill="#38c0e8" opacity="0.95"/><ellipse cx="43.00" cy="241.50" rx="1.06" ry="1.32" fill="#38c0e8" opacity="0.95"/><ellipse cx="40.94" cy="249.44" rx="3.60" ry="2.88" fill="#38c0e8" opacity="0.95"/><ellipse cx="43.00" cy="249.77" rx="3.60" ry="2.88" fill="#38c0e8" opacity="0.95"/><ellipse cx="42.90" cy="248.80" rx="3.60" ry="2.88" fill="#38c0e8" opacity="0.95"/><ellipse cx="41.94" cy="249.12" rx="2.99" ry="2.39" fill="#58d040" opacity="0.95"/><ellipse cx="42.08" cy="249.61" rx="2.99" ry="2.39" fill="#58d040" opacity="0.95"/><ellipse cx="41.09" cy="249.08" rx="2.99" ry="2.39" fill="#58d040" opacity="0.95"/><ellipse cx="41.67" cy="249.99" rx="2.38" ry="1.90" fill="#f0e020" opacity="0.95"/><ellipse cx="42.39" cy="249.10" rx="2.38" ry="1.90" fill="#f0e020" opacity="0.95"/><ellipse cx="42.44" cy="249.07" rx="2.38" ry="1.90" fill="#f0e020" opacity="0.95"/><ellipse cx="38.83" cy="247.20" rx="1.08" ry="0.50" fill="#38c0e8" opacity="0.85"/><ellipse cx="42.84" cy="244.93" rx="1.02" ry="0.70" fill="#38c0e8" opacity="0.85"/><ellipse cx="46.87" cy="248.53" rx="0.61" ry="1.18" fill="#38c0e8" opacity="0.85"/><ellipse cx="51.81" cy="237.86" rx="1.00" ry="1.25" fill="#38c0e8" opacity="0.95"/><ellipse cx="51.93" cy="237.13" rx="1.00" ry="1.25" fill="#38c0e8" opacity="0.95"/><ellipse cx="51.95" cy="237.84" rx="1.00" ry="1.25" fill="#38c0e8" opacity="0.95"/><ellipse cx="53.85" cy="241.87" rx="1.00" ry="1.25" fill="#38c0e8" opacity="0.95"/><ellipse cx="54.20" cy="242.07" rx="1.00" ry="1.25" fill="#38c0e8" opacity="0.95"/><ellipse cx="54.06" cy="242.16" rx="1.00" ry="1.25" fill="#38c0e8" opacity="0.95"/><ellipse cx="52.02" cy="250.24" rx="3.60" ry="2.88" fill="#38c0e8" opacity="0.95"/><ellipse cx="52.56" cy="250.85" rx="3.60" ry="2.88" fill="#38c0e8" opacity="0.95"/><ellipse cx="52.29" cy="250.45" rx="3.60" ry="2.88" fill="#38c0e8" opacity="0.95"/><ellipse cx="52.40" cy="250.14" rx="2.99" ry="2.39" fill="#58d040" opacity="0.95"/><ellipse cx="53.82" cy="251.17" rx="2.99" ry="2.39" fill="#58d040" opacity="0.95"/><ellipse cx="52.73" cy="250.36" rx="2.99" ry="2.39" fill="#58d040" opacity="0.95"/><ellipse cx="53.07" cy="250.40" rx="2.38" ry="1.90" fill="#f0e020" opacity="0.95"/><ellipse cx="52.82" cy="250.91" rx="2.38" ry="1.90" fill="#f0e020" opacity="0.95"/><ellipse cx="52.93" cy="250.75" rx="2.38" ry="1.90" fill="#f0e020" opacity="0.95"/><ellipse cx="53.14" cy="250.90" rx="1.76" ry="1.41" fill="#e82818" opacity="0.95"/><ellipse cx="52.58" cy="250.28" rx="1.76" ry="1.41" fill="#e82818" opacity="0.95"/><ellipse cx="53.35" cy="250.47" rx="1.76" ry="1.41" fill="#e82818" opacity="0.95"/><ellipse cx="47.36" cy="250.15" rx="0.97" ry="0.58" fill="#58d040" opacity="0.85"/><ellipse cx="52.93" cy="246.11" rx="0.52" ry="1.16" fill="#58d040" opacity="0.85"/><ellipse cx="56.92" cy="252.52" rx="1.05" ry="0.74" fill="#58d040" opacity="0.85"/><ellipse cx="63.83" cy="237.04" rx="1.23" ry="1.54" fill="#38c0e8" opacity="0.95"/><ellipse cx="63.36" cy="236.82" rx="1.23" ry="1.54" fill="#38c0e8" opacity="0.95"/><ellipse cx="63.25" cy="236.60" rx="1.23" ry="1.54" fill="#38c0e8" opacity="0.95"/><ellipse cx="64.78" cy="243.15" rx="1.00" ry="1.25" fill="#38c0e8" opacity="0.95"/><ellipse cx="65.31" cy="242.74" rx="1.00" ry="1.25" fill="#38c0e8" opacity="0.95"/><ellipse cx="64.72" cy="243.38" rx="1.00" ry="1.25" fill="#38c0e8" opacity="0.95"/><ellipse cx="64.08" cy="249.83" rx="3.60" ry="2.88" fill="#38c0e8" opacity="0.95"/><ellipse cx="63.41" cy="250.17" rx="3.60" ry="2.88" fill="#38c0e8" opacity="0.95"/><ellipse cx="64.73" cy="249.92" rx="3.60" ry="2.88" fill="#38c0e8" opacity="0.95"/><ellipse cx="63.85" cy="249.34" rx="2.99" ry="2.39" fill="#58d040" opacity="0.95"/><ellipse cx="64.78" cy="249.30" rx="2.99" ry="2.39" fill="#58d040" opacity="0.95"/><ellipse cx="63.99" cy="250.51" rx="2.99" ry="2.39" fill="#58d040" opacity="0.95"/><ellipse cx="67.66" cy="253.14" rx="0.88" ry="1.05" fill="#38c0e8" opacity="0.85"/><ellipse cx="67.79" cy="252.40" rx="0.54" ry="0.79" fill="#38c0e8" opacity="0.85"/><ellipse cx="67.61" cy="253.54" rx="1.09" ry="0.82" fill="#38c0e8" opacity="0.85"/><ellipse cx="74.99" cy="238.30" rx="1.69" ry="2.11" fill="#38c0e8" opacity="0.95"/><ellipse cx="74.98" cy="237.72" rx="1.69" ry="2.11" fill="#38c0e8" opacity="0.95"/><ellipse cx="74.90" cy="237.53" rx="1.69" ry="2.11" fill="#38c0e8" opacity="0.95"/><ellipse cx="76.41" cy="243.47" rx="1.23" ry="1.54" fill="#38c0e8" opacity="0.95"/><ellipse cx="76.85" cy="243.12" rx="1.23" ry="1.54" fill="#38c0e8" opacity="0.95"/><ellipse cx="76.50" cy="242.84" rx="1.23" ry="1.54" fill="#38c0e8" opacity="0.95"/><ellipse cx="74.58" cy="249.09" rx="3.60" ry="2.88" fill="#38c0e8" opacity="0.95"/><ellipse cx="76.13" cy="250.16" rx="3.60" ry="2.88" fill="#38c0e8" opacity="0.95"/><ellipse cx="75.19" cy="250.01" rx="3.60" ry="2.88" fill="#38c0e8" opacity="0.95"/><ellipse cx="76.01" cy="249.79" rx="2.99" ry="2.39" fill="#58d040" opacity="0.95"/><ellipse cx="75.81" cy="249.89" rx="2.99" ry="2.39" fill="#58d040" opacity="0.95"/><ellipse cx="75.24" cy="249.81" rx="2.99" ry="2.39" fill="#58d040" opacity="0.95"/><ellipse cx="75.17" cy="249.48" rx="2.38" ry="1.90" fill="#f0e020" opacity="0.95"/><ellipse cx="75.90" cy="249.73" rx="2.38" ry="1.90" fill="#f0e020" opacity="0.95"/><ellipse cx="75.19" cy="250.03" rx="2.38" ry="1.90" fill="#f0e020" opacity="0.95"/><ellipse cx="72.49" cy="246.21" rx="0.78" ry="1.04" fill="#38c0e8" opacity="0.85"/><ellipse cx="73.42" cy="252.73" rx="0.99" ry="0.95" fill="#58d040" opacity="0.85"/><ellipse cx="76.87" cy="245.92" rx="0.94" ry="1.08" fill="#58d040" opacity="0.85"/><ellipse cx="86.78" cy="238.34" rx="2.38" ry="2.98" fill="#38c0e8" opacity="0.95"/><ellipse cx="87.55" cy="238.05" rx="2.38" ry="2.98" fill="#38c0e8" opacity="0.95"/><ellipse cx="87.71" cy="238.55" rx="2.38" ry="2.98" fill="#38c0e8" opacity="0.95"/><ellipse cx="87.02" cy="237.75" rx="1.98" ry="2.47" fill="#58d040" opacity="0.95"/><ellipse cx="86.59" cy="238.22" rx="1.98" ry="2.47" fill="#58d040" opacity="0.95"/><ellipse cx="87.54" cy="237.66" rx="1.98" ry="2.47" fill="#58d040" opacity="0.95"/><ellipse cx="87.19" cy="237.97" rx="1.57" ry="1.96" fill="#f0e020" opacity="0.95"/><ellipse cx="87.23" cy="237.30" rx="1.57" ry="1.96" fill="#f0e020" opacity="0.95"/><ellipse cx="87.28" cy="237.80" rx="1.57" ry="1.96" fill="#f0e020" opacity="0.95"/><ellipse cx="87.12" cy="237.63" rx="1.17" ry="1.46" fill="#e82818" opacity="0.95"/><ellipse cx="87.09" cy="237.95" rx="1.17" ry="1.46" fill="#e82818" opacity="0.95"/><ellipse cx="87.10" cy="237.90" rx="1.17" ry="1.46" fill="#e82818" opacity="0.95"/><ellipse cx="89.83" cy="238.32" rx="0.87" ry="0.63" fill="#58d040" opacity="0.85"/><ellipse cx="87.16" cy="234.09" rx="1.09" ry="1.19" fill="#38c0e8" opacity="0.85"/><ellipse cx="88.89" cy="241.73" rx="0.69" ry="0.63" fill="#38c0e8" opacity="0.85"/><ellipse cx="86.71" cy="241.94" rx="1.54" ry="1.92" fill="#38c0e8" opacity="0.95"/><ellipse cx="86.97" cy="242.36" rx="1.54" ry="1.92" fill="#38c0e8" opacity="0.95"/><ellipse cx="87.11" cy="242.61" rx="1.54" ry="1.92" fill="#38c0e8" opacity="0.95"/><ellipse cx="86.41" cy="251.23" rx="3.60" ry="2.88" fill="#38c0e8" opacity="0.95"/><ellipse cx="85.88" cy="250.33" rx="3.60" ry="2.88" fill="#38c0e8" opacity="0.95"/><ellipse cx="86.50" cy="250.34" rx="3.60" ry="2.88" fill="#38c0e8" opacity="0.95"/><ellipse cx="86.28" cy="251.00" rx="2.99" ry="2.39" fill="#58d040" opacity="0.95"/><ellipse cx="86.76" cy="249.81" rx="2.99" ry="2.39" fill="#58d040" opacity="0.95"/><ellipse cx="87.21" cy="249.89" rx="2.99" ry="2.39" fill="#58d040" opacity="0.95"/><ellipse cx="87.07" cy="250.31" rx="2.38" ry="1.90" fill="#f0e020" opacity="0.95"/><ellipse cx="87.12" cy="251.04" rx="2.38" ry="1.90" fill="#f0e020" opacity="0.95"/><ellipse cx="87.47" cy="250.40" rx="2.38" ry="1.90" fill="#f0e020" opacity="0.95"/><ellipse cx="87.35" cy="250.63" rx="1.76" ry="1.41" fill="#e82818" opacity="0.95"/><ellipse cx="86.86" cy="250.18" rx="1.76" ry="1.41" fill="#e82818" opacity="0.95"/><ellipse cx="87.11" cy="250.56" rx="1.76" ry="1.41" fill="#e82818" opacity="0.95"/><ellipse cx="92.58" cy="249.26" rx="0.71" ry="1.13" fill="#38c0e8" opacity="0.85"/><ellipse cx="91.24" cy="250.52" rx="0.70" ry="1.11" fill="#38c0e8" opacity="0.85"/><ellipse cx="82.56" cy="248.99" rx="0.80" ry="0.84" fill="#38c0e8" opacity="0.85"/><ellipse cx="42.42" cy="238.07" rx="1.10" ry="0.73" fill="#58d040" opacity="0.85"/><ellipse cx="42.56" cy="237.41" rx="0.68" ry="0.62" fill="#58d040" opacity="0.85"/><ellipse cx="41.46" cy="237.29" rx="0.83" ry="0.70" fill="#7a90f0" opacity="0.85"/><ellipse cx="40.38" cy="235.32" rx="0.60" ry="0.91" fill="#7a90f0" opacity="0.85"/><ellipse cx="41.64" cy="262.19" rx="1.15" ry="1.23" fill="#38c0e8" opacity="0.85"/><ellipse cx="41.46" cy="266.75" rx="1.01" ry="0.83" fill="#7a90f0" opacity="0.85"/><ellipse cx="41.98" cy="263.80" rx="0.95" ry="1.08" fill="#38c0e8" opacity="0.85"/><ellipse cx="39.37" cy="261.01" rx="0.70" ry="1.17" fill="#58d040" opacity="0.85"/><ellipse cx="53.82" cy="235.21" rx="0.74" ry="1.15" fill="#38c0e8" opacity="0.85"/><ellipse cx="50.76" cy="237.02" rx="0.82" ry="1.33" fill="#38c0e8" opacity="0.85"/><ellipse cx="50.66" cy="241.23" rx="0.80" ry="1.06" fill="#7a90f0" opacity="0.85"/><ellipse cx="54.38" cy="241.73" rx="0.83" ry="1.15" fill="#38c0e8" opacity="0.85"/><ellipse cx="54.56" cy="263.72" rx="1.03" ry="0.84" fill="#38c0e8" opacity="0.85"/><ellipse cx="53.66" cy="263.46" rx="0.70" ry="1.22" fill="#58d040" opacity="0.85"/><ellipse cx="51.23" cy="263.83" rx="0.88" ry="1.00" fill="#58d040" opacity="0.85"/><ellipse cx="52.97" cy="263.40" rx="0.88" ry="0.64" fill="#38c0e8" opacity="0.85"/><ellipse cx="63.28" cy="235.68" rx="0.54" ry="1.35" fill="#58d040" opacity="0.85"/><ellipse cx="65.28" cy="242.83" rx="1.20" ry="1.16" fill="#38c0e8" opacity="0.85"/><ellipse cx="62.64" cy="235.98" rx="0.93" ry="1.26" fill="#38c0e8" opacity="0.85"/><ellipse cx="65.23" cy="236.08" rx="0.70" ry="1.33" fill="#38c0e8" opacity="0.85"/><ellipse cx="62.91" cy="261.48" rx="1.06" ry="0.65" fill="#38c0e8" opacity="0.85"/><ellipse cx="62.29" cy="260.87" rx="0.77" ry="0.66" fill="#38c0e8" opacity="0.85"/><ellipse cx="64.61" cy="260.95" rx="0.78" ry="1.10" fill="#38c0e8" opacity="0.85"/><ellipse cx="64.00" cy="262.52" rx="0.92" ry="0.99" fill="#58d040" opacity="0.85"/><ellipse cx="77.63" cy="236.11" rx="0.71" ry="1.05" fill="#58d040" opacity="0.85"/><ellipse cx="77.61" cy="239.44" rx="0.93" ry="0.81" fill="#38c0e8" opacity="0.85"/><ellipse cx="74.72" cy="241.00" rx="0.86" ry="0.71" fill="#38c0e8" opacity="0.85"/><ellipse cx="77.40" cy="238.63" rx="0.77" ry="0.70" fill="#38c0e8" opacity="0.85"/><ellipse cx="76.48" cy="260.68" rx="0.97" ry="0.67" fill="#38c0e8" opacity="0.85"/><ellipse cx="75.83" cy="263.63" rx="0.77" ry="0.97" fill="#58d040" opacity="0.85"/><ellipse cx="74.07" cy="264.25" rx="0.88" ry="0.91" fill="#38c0e8" opacity="0.85"/><ellipse cx="77.76" cy="263.43" rx="1.06" ry="1.20" fill="#38c0e8" opacity="0.85"/><ellipse cx="89.08" cy="240.32" rx="1.07" ry="0.71" fill="#7a90f0" opacity="0.85"/><ellipse cx="86.36" cy="236.88" rx="0.73" ry="1.09" fill="#58d040" opacity="0.85"/><ellipse cx="88.30" cy="238.03" rx="1.01" ry="0.89" fill="#58d040" opacity="0.85"/><ellipse cx="88.34" cy="238.47" rx="1.10" ry="1.01" fill="#38c0e8" opacity="0.85"/><ellipse cx="88.06" cy="263.16" rx="0.57" ry="0.63" fill="#38c0e8" opacity="0.85"/><ellipse cx="85.66" cy="263.92" rx="1.16" ry="1.13" fill="#58d040" opacity="0.85"/><ellipse cx="84.80" cy="263.76" rx="1.12" ry="1.10" fill="#7a90f0" opacity="0.85"/><ellipse cx="86.22" cy="263.70" rx="0.63" ry="1.12" fill="#38c0e8" opacity="0.85"/><ellipse cx="41.34" cy="265.62" rx="2.00" ry="2.50" fill="#38c0e8" opacity="0.95"/><ellipse cx="41.97" cy="265.26" rx="2.00" ry="2.50" fill="#38c0e8" opacity="0.95"/><ellipse cx="41.19" cy="265.45" rx="2.00" ry="2.50" fill="#38c0e8" opacity="0.95"/><ellipse cx="41.15" cy="265.52" rx="1.66" ry="2.07" fill="#58d040" opacity="0.95"/><ellipse cx="41.23" cy="265.78" rx="1.66" ry="2.07" fill="#58d040" opacity="0.95"/><ellipse cx="41.02" cy="266.35" rx="1.66" ry="2.07" fill="#58d040" opacity="0.95"/><ellipse cx="39.34" cy="268.72" rx="0.90" ry="0.83" fill="#38c0e8" opacity="0.85"/><ellipse cx="43.72" cy="264.80" rx="0.67" ry="0.97" fill="#58d040" opacity="0.85"/><ellipse cx="41.18" cy="262.81" rx="0.93" ry="0.90" fill="#38c0e8" opacity="0.85"/><ellipse cx="41.79" cy="276.18" rx="2.94" ry="2.50" fill="#38c0e8" opacity="0.95"/><ellipse cx="42.26" cy="276.32" rx="2.94" ry="2.50" fill="#38c0e8" opacity="0.95"/><ellipse cx="41.83" cy="275.51" rx="2.94" ry="2.50" fill="#38c0e8" opacity="0.95"/><ellipse cx="41.29" cy="275.44" rx="2.44" ry="2.07" fill="#58d040" opacity="0.95"/><ellipse cx="42.25" cy="275.96" rx="2.44" ry="2.07" fill="#58d040" opacity="0.95"/><ellipse cx="41.92" cy="275.58" rx="2.44" ry="2.07" fill="#58d040" opacity="0.95"/><ellipse cx="42.36" cy="278.77" rx="0.94" ry="0.69" fill="#58d040" opacity="0.85"/><ellipse cx="37.65" cy="276.80" rx="0.60" ry="0.52" fill="#58d040" opacity="0.85"/><ellipse cx="43.81" cy="272.69" rx="1.06" ry="1.00" fill="#58d040" opacity="0.85"/><ellipse cx="52.30" cy="264.29" rx="1.23" ry="1.54" fill="#38c0e8" opacity="0.95"/><ellipse cx="52.19" cy="263.97" rx="1.23" ry="1.54" fill="#38c0e8" opacity="0.95"/><ellipse cx="52.64" cy="264.14" rx="1.23" ry="1.54" fill="#38c0e8" opacity="0.95"/><ellipse cx="53.00" cy="276.46" rx="3.05" ry="2.59" fill="#38c0e8" opacity="0.95"/><ellipse cx="52.14" cy="276.54" rx="3.05" ry="2.59" fill="#38c0e8" opacity="0.95"/><ellipse cx="52.90" cy="276.23" rx="3.05" ry="2.59" fill="#38c0e8" opacity="0.95"/><ellipse cx="53.59" cy="276.61" rx="2.53" ry="2.15" fill="#58d040" opacity="0.95"/><ellipse cx="52.52" cy="276.26" rx="2.53" ry="2.15" fill="#58d040" opacity="0.95"/><ellipse cx="53.22" cy="275.58" rx="2.53" ry="2.15" fill="#58d040" opacity="0.95"/><ellipse cx="52.67" cy="276.46" rx="2.01" ry="1.71" fill="#f0e020" opacity="0.95"/><ellipse cx="53.37" cy="275.56" rx="2.01" ry="1.71" fill="#f0e020" opacity="0.95"/><ellipse cx="53.61" cy="275.64" rx="2.01" ry="1.71" fill="#f0e020" opacity="0.95"/><ellipse cx="52.60" cy="276.18" rx="1.49" ry="1.27" fill="#e82818" opacity="0.95"/><ellipse cx="53.12" cy="275.95" rx="1.49" ry="1.27" fill="#e82818" opacity="0.95"/><ellipse cx="52.87" cy="275.94" rx="1.49" ry="1.27" fill="#e82818" opacity="0.95"/><ellipse cx="53.47" cy="272.43" rx="0.94" ry="1.14" fill="#38c0e8" opacity="0.85"/><ellipse cx="51.55" cy="279.27" rx="0.83" ry="0.60" fill="#38c0e8" opacity="0.85"/><ellipse cx="48.41" cy="276.42" rx="0.99" ry="0.72" fill="#58d040" opacity="0.85"/><ellipse cx="63.04" cy="263.85" rx="2.00" ry="2.50" fill="#38c0e8" opacity="0.95"/><ellipse cx="63.18" cy="263.85" rx="2.00" ry="2.50" fill="#38c0e8" opacity="0.95"/><ellipse cx="63.41" cy="264.62" rx="2.00" ry="2.50" fill="#38c0e8" opacity="0.95"/><ellipse cx="63.24" cy="263.93" rx="1.66" ry="2.07" fill="#58d040" opacity="0.95"/><ellipse cx="63.71" cy="263.91" rx="1.66" ry="2.07" fill="#58d040" opacity="0.95"/><ellipse cx="63.19" cy="264.22" rx="1.66" ry="2.07" fill="#58d040" opacity="0.95"/><ellipse cx="61.86" cy="266.59" rx="0.96" ry="0.77" fill="#58d040" opacity="0.85"/><ellipse cx="63.77" cy="261.71" rx="0.89" ry="1.03" fill="#58d040" opacity="0.85"/><ellipse cx="61.10" cy="262.99" rx="0.94" ry="0.99" fill="#38c0e8" opacity="0.85"/><ellipse cx="62.24" cy="273.83" rx="1.77" ry="2.21" fill="#38c0e8" opacity="0.95"/><ellipse cx="62.37" cy="272.89" rx="1.77" ry="2.21" fill="#38c0e8" opacity="0.95"/><ellipse cx="62.02" cy="272.94" rx="1.77" ry="2.21" fill="#38c0e8" opacity="0.95"/><ellipse cx="62.28" cy="273.60" rx="1.47" ry="1.83" fill="#58d040" opacity="0.95"/><ellipse cx="62.30" cy="272.90" rx="1.47" ry="1.83" fill="#58d040" opacity="0.95"/><ellipse cx="62.74" cy="273.47" rx="1.47" ry="1.83" fill="#58d040" opacity="0.95"/><ellipse cx="62.16" cy="272.99" rx="1.17" ry="1.46" fill="#f0e020" opacity="0.95"/><ellipse cx="62.23" cy="273.27" rx="1.17" ry="1.46" fill="#f0e020" opacity="0.95"/><ellipse cx="62.76" cy="273.81" rx="1.17" ry="1.46" fill="#f0e020" opacity="0.95"/><ellipse cx="62.50" cy="273.40" rx="1.08" ry="1.35" fill="#e82818" opacity="0.95"/><ellipse cx="60.83" cy="271.63" rx="0.58" ry="0.64" fill="#58d040" opacity="0.85"/><ellipse cx="61.16" cy="275.47" rx="0.94" ry="0.57" fill="#38c0e8" opacity="0.85"/><ellipse cx="60.40" cy="272.90" rx="0.77" ry="1.16" fill="#38c0e8" opacity="0.85"/><ellipse cx="64.40" cy="276.86" rx="2.15" ry="2.69" fill="#38c0e8" opacity="0.95"/><ellipse cx="63.75" cy="278.20" rx="2.15" ry="2.69" fill="#38c0e8" opacity="0.95"/><ellipse cx="63.95" cy="277.39" rx="2.15" ry="2.69" fill="#38c0e8" opacity="0.95"/><ellipse cx="63.93" cy="277.87" rx="1.78" ry="2.23" fill="#58d040" opacity="0.95"/><ellipse cx="64.49" cy="277.55" rx="1.78" ry="2.23" fill="#58d040" opacity="0.95"/><ellipse cx="64.52" cy="277.63" rx="1.78" ry="2.23" fill="#58d040" opacity="0.95"/><ellipse cx="63.65" cy="277.85" rx="1.42" ry="1.77" fill="#f0e020" opacity="0.95"/><ellipse cx="63.93" cy="277.00" rx="1.42" ry="1.77" fill="#f0e020" opacity="0.95"/><ellipse cx="64.42" cy="276.98" rx="1.42" ry="1.77" fill="#f0e020" opacity="0.95"/><ellipse cx="61.40" cy="275.80" rx="0.74" ry="0.65" fill="#58d040" opacity="0.85"/><ellipse cx="63.56" cy="280.75" rx="0.96" ry="1.05" fill="#58d040" opacity="0.85"/><ellipse cx="61.80" cy="280.56" rx="0.87" ry="0.78" fill="#38c0e8" opacity="0.85"/><ellipse cx="74.73" cy="264.32" rx="1.23" ry="1.54" fill="#38c0e8" opacity="0.95"/><ellipse cx="74.99" cy="263.56" rx="1.23" ry="1.54" fill="#38c0e8" opacity="0.95"/><ellipse cx="74.75" cy="263.61" rx="1.23" ry="1.54" fill="#38c0e8" opacity="0.95"/><ellipse cx="76.40" cy="276.12" rx="2.94" ry="2.50" fill="#38c0e8" opacity="0.95"/><ellipse cx="75.45" cy="275.96" rx="2.94" ry="2.50" fill="#38c0e8" opacity="0.95"/><ellipse cx="75.68" cy="275.79" rx="2.94" ry="2.50" fill="#38c0e8" opacity="0.95"/><ellipse cx="76.55" cy="275.66" rx="2.44" ry="2.07" fill="#58d040" opacity="0.95"/><ellipse cx="76.46" cy="275.34" rx="2.44" ry="2.07" fill="#58d040" opacity="0.95"/><ellipse cx="75.25" cy="275.52" rx="2.44" ry="2.07" fill="#58d040" opacity="0.95"/><ellipse cx="76.10" cy="275.18" rx="1.94" ry="1.65" fill="#f0e020" opacity="0.95"/><ellipse cx="75.87" cy="275.31" rx="1.94" ry="1.65" fill="#f0e020" opacity="0.95"/><ellipse cx="75.43" cy="275.31" rx="1.94" ry="1.65" fill="#f0e020" opacity="0.95"/><ellipse cx="75.89" cy="275.48" rx="1.44" ry="1.22" fill="#e82818" opacity="0.95"/><ellipse cx="76.18" cy="275.42" rx="1.44" ry="1.22" fill="#e82818" opacity="0.95"/><ellipse cx="76.43" cy="275.74" rx="1.44" ry="1.22" fill="#e82818" opacity="0.95"/><ellipse cx="79.83" cy="273.80" rx="0.82" ry="1.06" fill="#38c0e8" opacity="0.85"/><ellipse cx="73.29" cy="278.20" rx="0.67" ry="0.55" fill="#38c0e8" opacity="0.85"/><ellipse cx="79.27" cy="277.19" rx="0.68" ry="1.15" fill="#58d040" opacity="0.85"/><ellipse cx="86.77" cy="264.27" rx="1.61" ry="2.02" fill="#38c0e8" opacity="0.95"/><ellipse cx="86.57" cy="264.32" rx="1.61" ry="2.02" fill="#38c0e8" opacity="0.95"/><ellipse cx="87.17" cy="264.58" rx="1.61" ry="2.02" fill="#38c0e8" opacity="0.95"/><ellipse cx="87.76" cy="275.30" rx="3.05" ry="2.59" fill="#38c0e8" opacity="0.95"/><ellipse cx="87.64" cy="275.39" rx="3.05" ry="2.59" fill="#38c0e8" opacity="0.95"/><ellipse cx="87.21" cy="274.53" rx="3.05" ry="2.59" fill="#38c0e8" opacity="0.95"/><ellipse cx="87.03" cy="275.53" rx="2.53" ry="2.15" fill="#58d040" opacity="0.95"/><ellipse cx="86.59" cy="275.64" rx="2.53" ry="2.15" fill="#58d040" opacity="0.95"/><ellipse cx="87.07" cy="274.86" rx="2.53" ry="2.15" fill="#58d040" opacity="0.95"/><ellipse cx="86.37" cy="274.88" rx="2.01" ry="1.71" fill="#f0e020" opacity="0.95"/><ellipse cx="86.60" cy="275.16" rx="2.01" ry="1.71" fill="#f0e020" opacity="0.95"/><ellipse cx="87.50" cy="275.44" rx="2.01" ry="1.71" fill="#f0e020" opacity="0.95"/><ellipse cx="83.95" cy="272.77" rx="1.01" ry="1.12" fill="#38c0e8" opacity="0.85"/><ellipse cx="85.13" cy="271.12" rx="1.03" ry="0.65" fill="#38c0e8" opacity="0.85"/><ellipse cx="85.69" cy="278.07" rx="1.04" ry="0.62" fill="#38c0e8" opacity="0.85"/></g><rect x="36.8" y="227.8" width="56.20" height="54.20" fill="none" stroke="#c8e6e6" stroke-width="1"/>
<g filter="url(#bl)"><rect x="97.3" y="228.3" width="54.70" height="53.20" fill="#070709"/><path d="M100.30,252.30 C100.30,255.30 98.36,256.80 96.41,255.80" fill="none" stroke="#8c8c90" stroke-width="0.8"/><path d="M112.50,252.30 C112.50,255.30 110.71,256.80 108.91,255.80" fill="none" stroke="#8c8c90" stroke-width="0.8"/><path d="M123.90,252.30 C123.90,255.30 126.75,256.80 129.60,255.80" fill="none" stroke="#8c8c90" stroke-width="0.8"/><path d="M135.30,252.30 C135.30,255.30 133.54,256.80 131.78,255.80" fill="none" stroke="#8c8c90" stroke-width="0.8"/><path d="M146.70,252.30 C146.70,255.30 144.40,256.80 142.10,255.80" fill="none" stroke="#8c8c90" stroke-width="0.8"/><g transform="translate(96.60,232.29) scale(7.40,21.01)"><use href="#ms" fill="url(#mg)"/><g clip-path="url(#mc)"><ellipse cx="0.37" cy="0.86" rx="0.18" ry="0.04" fill="#707078" opacity="0.35"/><ellipse cx="0.40" cy="0.77" rx="0.18" ry="0.03" fill="#707078" opacity="0.35"/><ellipse cx="0.46" cy="0.82" rx="0.11" ry="0.05" fill="#707078" opacity="0.35"/><ellipse cx="0.61" cy="0.44" rx="0.40" ry="0.13" fill="#5232c4" opacity="0.75"/><ellipse cx="0.37" cy="0.75" rx="0.40" ry="0.13" fill="#5232c4" opacity="0.75"/><ellipse cx="0.35" cy="0.63" rx="0.40" ry="0.13" fill="#5232c4" opacity="0.75"/></g></g><g transform="translate(108.80,232.29) scale(7.40,21.01)"><use href="#ms" fill="url(#mg)"/><g clip-path="url(#mc)"><ellipse cx="0.38" cy="0.70" rx="0.13" ry="0.03" fill="#707078" opacity="0.35"/><ellipse cx="0.39" cy="0.76" rx="0.13" ry="0.02" fill="#707078" opacity="0.35"/><ellipse cx="0.51" cy="0.88" rx="0.17" ry="0.03" fill="#707078" opacity="0.35"/><ellipse cx="0.39" cy="0.24" rx="0.40" ry="0.13" fill="#5232c4" opacity="0.75"/><ellipse cx="0.57" cy="0.47" rx="0.40" ry="0.13" fill="#5232c4" opacity="0.75"/><ellipse cx="0.33" cy="0.79" rx="0.40" ry="0.13" fill="#5232c4" opacity="0.75"/></g></g><g transform="translate(120.20,232.29) scale(7.40,21.01)"><use href="#ms" fill="url(#mg)"/><g clip-path="url(#mc)"><ellipse cx="0.29" cy="0.84" rx="0.08" ry="0.04" fill="#707078" opacity="0.35"/><ellipse cx="0.52" cy="0.50" rx="0.14" ry="0.02" fill="#707078" opacity="0.35"/><ellipse cx="0.74" cy="0.33" rx="0.10" ry="0.04" fill="#707078" opacity="0.35"/></g></g><g transform="translate(131.60,232.29) scale(7.40,21.01)"><use href="#ms" fill="url(#mg)"/><g clip-path="url(#mc)"><ellipse cx="0.26" cy="0.75" rx="0.10" ry="0.05" fill="#707078" opacity="0.35"/><ellipse cx="0.56" cy="0.84" rx="0.14" ry="0.02" fill="#707078" opacity="0.35"/><ellipse cx="0.70" cy="0.24" rx="0.09" ry="0.04" fill="#707078" opacity="0.35"/></g></g><g transform="translate(143.00,232.29) scale(7.40,21.01)"><use href="#ms" fill="url(#mg)"/><g clip-path="url(#mc)"><ellipse cx="0.70" cy="0.42" rx="0.13" ry="0.02" fill="#707078" opacity="0.35"/><ellipse cx="0.40" cy="0.78" rx="0.14" ry="0.05" fill="#707078" opacity="0.35"/><ellipse cx="0.62" cy="0.57" rx="0.14" ry="0.04" fill="#707078" opacity="0.35"/></g></g><g transform="translate(96.60,257.29) scale(7.40,22.34)"><use href="#ms" fill="url(#mg)"/><g clip-path="url(#mc)"><ellipse cx="0.31" cy="0.50" rx="0.15" ry="0.04" fill="#707078" opacity="0.35"/><ellipse cx="0.38" cy="0.70" rx="0.15" ry="0.03" fill="#707078" opacity="0.35"/><ellipse cx="0.52" cy="0.80" rx="0.14" ry="0.03" fill="#707078" opacity="0.35"/><ellipse cx="0.38" cy="0.83" rx="0.40" ry="0.13" fill="#5232c4" opacity="0.75"/><ellipse cx="0.32" cy="0.46" rx="0.40" ry="0.13" fill="#5232c4" opacity="0.75"/><ellipse cx="0.65" cy="0.38" rx="0.40" ry="0.13" fill="#5232c4" opacity="0.75"/></g></g><g transform="translate(108.80,257.29) scale(7.40,22.34)"><use href="#ms" fill="#5232c4"/><g clip-path="url(#mc)"><ellipse cx="0.53" cy="0.58" rx="0.40" ry="0.10" fill="#d4ccee" opacity="0.75"/><ellipse cx="0.59" cy="0.53" rx="0.40" ry="0.10" fill="#d4ccee" opacity="0.75"/><ellipse cx="0.57" cy="0.72" rx="0.40" ry="0.10" fill="#d4ccee" opacity="0.75"/><ellipse cx="0.31" cy="0.81" rx="0.20" ry="0.05" fill="#90a8f4" opacity="0.8"/><ellipse cx="0.37" cy="0.20" rx="0.18" ry="0.05" fill="#8870e0" opacity="0.7"/></g></g><g transform="translate(120.20,257.29) scale(7.40,22.34)"><use href="#ms" fill="url(#mg)"/><g clip-path="url(#mc)"><ellipse cx="0.54" cy="0.71" rx="0.14" ry="0.02" fill="#707078" opacity="0.35"/><ellipse cx="0.46" cy="0.69" rx="0.16" ry="0.04" fill="#707078" opacity="0.35"/><ellipse cx="0.64" cy="0.74" rx="0.13" ry="0.04" fill="#707078" opacity="0.35"/></g></g><g transform="translate(131.60,257.29) scale(7.40,22.34)"><use href="#ms" fill="url(#mg)"/><g clip-path="url(#mc)"><ellipse cx="0.51" cy="0.47" rx="0.10" ry="0.03" fill="#707078" opacity="0.35"/><ellipse cx="0.58" cy="0.62" rx="0.13" ry="0.03" fill="#707078" opacity="0.35"/><ellipse cx="0.48" cy="0.69" rx="0.15" ry="0.05" fill="#707078" opacity="0.35"/></g></g><g transform="translate(143.00,257.29) scale(7.40,22.34)"><use href="#ms" fill="url(#mg)"/><g clip-path="url(#mc)"><ellipse cx="0.31" cy="0.73" rx="0.14" ry="0.02" fill="#707078" opacity="0.35"/><ellipse cx="0.62" cy="0.57" rx="0.18" ry="0.02" fill="#707078" opacity="0.35"/><ellipse cx="0.45" cy="0.57" rx="0.09" ry="0.04" fill="#707078" opacity="0.35"/><ellipse cx="0.49" cy="0.80" rx="0.40" ry="0.13" fill="#5232c4" opacity="0.75"/><ellipse cx="0.69" cy="0.63" rx="0.40" ry="0.13" fill="#5232c4" opacity="0.75"/><ellipse cx="0.59" cy="0.83" rx="0.40" ry="0.13" fill="#5232c4" opacity="0.75"/></g></g></g><rect x="96.8" y="227.8" width="55.70" height="54.20" fill="none" stroke="#c8e6e6" stroke-width="1"/>
<g filter="url(#bl)"><rect x="156" y="228.3" width="54.50" height="53.20" fill="#070709"/><path d="M159.80,252.30 C159.80,255.30 157.86,256.80 155.91,255.80" fill="none" stroke="#8c8c90" stroke-width="0.8"/><path d="M171.00,252.30 C171.00,255.30 168.67,256.80 166.34,255.80" fill="none" stroke="#8c8c90" stroke-width="0.8"/><path d="M181.90,252.30 C181.90,255.30 179.77,256.80 177.64,255.80" fill="none" stroke="#8c8c90" stroke-width="0.8"/><path d="M193.30,252.30 C193.30,255.30 190.40,256.80 187.50,255.80" fill="none" stroke="#8c8c90" stroke-width="0.8"/><path d="M204.70,252.30 C204.70,255.30 206.66,256.80 208.63,255.80" fill="none" stroke="#8c8c90" stroke-width="0.8"/><g transform="translate(156.10,232.29) scale(7.40,21.01)"><use href="#ms" fill="url(#mg)"/><g clip-path="url(#mc)"><ellipse cx="0.72" cy="0.85" rx="0.10" ry="0.02" fill="#707078" opacity="0.35"/><ellipse cx="0.54" cy="0.90" rx="0.15" ry="0.04" fill="#707078" opacity="0.35"/><ellipse cx="0.71" cy="0.82" rx="0.17" ry="0.03" fill="#707078" opacity="0.35"/><ellipse cx="0.64" cy="0.80" rx="0.40" ry="0.13" fill="#5232c4" opacity="0.75"/><ellipse cx="0.39" cy="0.42" rx="0.40" ry="0.13" fill="#5232c4" opacity="0.75"/><ellipse cx="0.32" cy="0.44" rx="0.40" ry="0.13" fill="#5232c4" opacity="0.75"/></g></g><g transform="translate(167.30,232.29) scale(7.40,21.01)"><use href="#ms" fill="url(#mg)"/><g clip-path="url(#mc)"><ellipse cx="0.37" cy="0.76" rx="0.16" ry="0.03" fill="#707078" opacity="0.35"/><ellipse cx="0.45" cy="0.62" rx="0.16" ry="0.03" fill="#707078" opacity="0.35"/><ellipse cx="0.50" cy="0.64" rx="0.10" ry="0.03" fill="#707078" opacity="0.35"/><ellipse cx="0.51" cy="0.45" rx="0.32" ry="0.10" fill="#5232c4" opacity="0.6"/></g></g><g transform="translate(178.20,232.29) scale(7.40,21.01)"><use href="#ms" fill="url(#mg)"/><g clip-path="url(#mc)"><ellipse cx="0.27" cy="0.39" rx="0.17" ry="0.04" fill="#707078" opacity="0.35"/><ellipse cx="0.51" cy="0.72" rx="0.13" ry="0.04" fill="#707078" opacity="0.35"/><ellipse cx="0.57" cy="0.35" rx="0.09" ry="0.02" fill="#707078" opacity="0.35"/></g></g><g transform="translate(189.60,232.29) scale(7.40,21.01)"><use href="#ms" fill="#5232c4"/><g clip-path="url(#mc)"><ellipse cx="0.57" cy="0.68" rx="0.40" ry="0.10" fill="#d4ccee" opacity="0.75"/><ellipse cx="0.39" cy="0.38" rx="0.40" ry="0.10" fill="#d4ccee" opacity="0.75"/><ellipse cx="0.60" cy="0.32" rx="0.40" ry="0.10" fill="#d4ccee" opacity="0.75"/><ellipse cx="0.70" cy="0.90" rx="0.20" ry="0.05" fill="#90a8f4" opacity="0.8"/><ellipse cx="0.48" cy="0.23" rx="0.18" ry="0.05" fill="#8870e0" opacity="0.7"/></g></g><g transform="translate(201.00,232.29) scale(7.40,21.01)"><use href="#ms" fill="url(#mg)"/><g clip-path="url(#mc)"><ellipse cx="0.44" cy="0.38" rx="0.17" ry="0.04" fill="#707078" opacity="0.35"/><ellipse cx="0.40" cy="0.63" rx="0.13" ry="0.03" fill="#707078" opacity="0.35"/><ellipse cx="0.51" cy="0.29" rx="0.10" ry="0.03" fill="#707078" opacity="0.35"/><ellipse cx="0.49" cy="0.62" rx="0.32" ry="0.10" fill="#5232c4" opacity="0.6"/></g></g><g transform="translate(156.10,257.29) scale(7.40,22.34)"><use href="#ms" fill="url(#mg)"/><g clip-path="url(#mc)"><ellipse cx="0.51" cy="0.58" rx="0.11" ry="0.03" fill="#707078" opacity="0.35"/><ellipse cx="0.44" cy="0.82" rx="0.16" ry="0.04" fill="#707078" opacity="0.35"/><ellipse cx="0.47" cy="0.30" rx="0.13" ry="0.03" fill="#707078" opacity="0.35"/><ellipse cx="0.34" cy="0.41" rx="0.40" ry="0.13" fill="#5232c4" opacity="0.75"/><ellipse cx="0.54" cy="0.25" rx="0.40" ry="0.13" fill="#5232c4" opacity="0.75"/><ellipse cx="0.64" cy="0.67" rx="0.40" ry="0.13" fill="#5232c4" opacity="0.75"/></g></g><g transform="translate(167.30,257.29) scale(7.40,22.34)"><use href="#ms" fill="url(#mg)"/><g clip-path="url(#mc)"><ellipse cx="0.49" cy="0.21" rx="0.16" ry="0.04" fill="#707078" opacity="0.35"/><ellipse cx="0.58" cy="0.25" rx="0.17" ry="0.04" fill="#707078" opacity="0.35"/><ellipse cx="0.43" cy="0.29" rx="0.16" ry="0.03" fill="#707078" opacity="0.35"/><ellipse cx="0.61" cy="0.33" rx="0.40" ry="0.13" fill="#5232c4" opacity="0.75"/><ellipse cx="0.62" cy="0.23" rx="0.40" ry="0.13" fill="#5232c4" opacity="0.75"/><ellipse cx="0.50" cy="0.49" rx="0.40" ry="0.13" fill="#5232c4" opacity="0.75"/></g></g><g transform="translate(178.20,257.29) scale(7.40,22.34)"><use href="#ms" fill="url(#mg)"/><g clip-path="url(#mc)"><ellipse cx="0.72" cy="0.40" rx="0.15" ry="0.03" fill="#707078" opacity="0.35"/><ellipse cx="0.71" cy="0.34" rx="0.16" ry="0.03" fill="#707078" opacity="0.35"/><ellipse cx="0.61" cy="0.56" rx="0.15" ry="0.05" fill="#707078" opacity="0.35"/></g></g><g transform="translate(189.60,257.29) scale(7.40,22.34)"><use href="#ms" fill="url(#mg)"/><g clip-path="url(#mc)"><ellipse cx="0.65" cy="0.53" rx="0.11" ry="0.05" fill="#707078" opacity="0.35"/><ellipse cx="0.40" cy="0.84" rx="0.17" ry="0.02" fill="#707078" opacity="0.35"/><ellipse cx="0.70" cy="0.84" rx="0.11" ry="0.03" fill="#707078" opacity="0.35"/><ellipse cx="0.60" cy="0.38" rx="0.32" ry="0.10" fill="#5232c4" opacity="0.6"/></g></g><g transform="translate(201.00,257.29) scale(7.40,22.34)"><use href="#ms" fill="url(#mg)"/><g clip-path="url(#mc)"><ellipse cx="0.61" cy="0.82" rx="0.09" ry="0.02" fill="#707078" opacity="0.35"/><ellipse cx="0.41" cy="0.46" rx="0.11" ry="0.04" fill="#707078" opacity="0.35"/><ellipse cx="0.69" cy="0.65" rx="0.12" ry="0.03" fill="#707078" opacity="0.35"/></g></g></g><rect x="155.5" y="227.8" width="55.50" height="54.20" fill="none" stroke="#c8e6e6" stroke-width="1"/>
<g filter="url(#bl)"><rect x="211" y="228.3" width="54.50" height="53.20" fill="#070709"/><path d="M215.60,252.30 C215.60,255.30 217.15,256.80 218.69,255.80" fill="none" stroke="#8c8c90" stroke-width="0.8"/><path d="M227.00,252.30 C227.00,255.30 224.34,256.80 221.69,255.80" fill="none" stroke="#8c8c90" stroke-width="0.8"/><path d="M237.70,252.30 C237.70,255.30 235.27,256.80 232.84,255.80" fill="none" stroke="#8c8c90" stroke-width="0.8"/><path d="M250.60,252.30 C250.60,255.30 253.02,256.80 255.44,255.80" fill="none" stroke="#8c8c90" stroke-width="0.8"/><path d="M261.30,252.30 C261.30,255.30 259.39,256.80 257.47,255.80" fill="none" stroke="#8c8c90" stroke-width="0.8"/><g transform="translate(211.90,232.29) scale(7.40,21.01)"><use href="#ms" fill="url(#mg)"/><g clip-path="url(#mc)"><ellipse cx="0.66" cy="0.82" rx="0.12" ry="0.05" fill="#707078" opacity="0.35"/><ellipse cx="0.27" cy="0.30" rx="0.13" ry="0.03" fill="#707078" opacity="0.35"/><ellipse cx="0.43" cy="0.88" rx="0.09" ry="0.03" fill="#707078" opacity="0.35"/><ellipse cx="0.39" cy="0.63" rx="0.40" ry="0.13" fill="#5232c4" opacity="0.75"/><ellipse cx="0.39" cy="0.15" rx="0.40" ry="0.13" fill="#5232c4" opacity="0.75"/><ellipse cx="0.52" cy="0.43" rx="0.40" ry="0.13" fill="#5232c4" opacity="0.75"/></g></g><g transform="translate(223.30,232.29) scale(7.40,21.01)"><use href="#ms" fill="url(#mg)"/><g clip-path="url(#mc)"><ellipse cx="0.37" cy="0.55" rx="0.15" ry="0.04" fill="#707078" opacity="0.35"/><ellipse cx="0.56" cy="0.59" rx="0.16" ry="0.05" fill="#707078" opacity="0.35"/><ellipse cx="0.42" cy="0.44" rx="0.17" ry="0.03" fill="#707078" opacity="0.35"/><ellipse cx="0.59" cy="0.64" rx="0.40" ry="0.13" fill="#5232c4" opacity="0.75"/><ellipse cx="0.57" cy="0.82" rx="0.40" ry="0.13" fill="#5232c4" opacity="0.75"/><ellipse cx="0.63" cy="0.26" rx="0.40" ry="0.13" fill="#5232c4" opacity="0.75"/></g></g><g transform="translate(234.00,232.29) scale(7.40,21.01)"><use href="#ms" fill="url(#mg)"/><g clip-path="url(#mc)"><ellipse cx="0.56" cy="0.54" rx="0.14" ry="0.03" fill="#707078" opacity="0.35"/><ellipse cx="0.39" cy="0.72" rx="0.13" ry="0.03" fill="#707078" opacity="0.35"/><ellipse cx="0.37" cy="0.43" rx="0.10" ry="0.04" fill="#707078" opacity="0.35"/><ellipse cx="0.35" cy="0.19" rx="0.40" ry="0.13" fill="#5232c4" opacity="0.75"/><ellipse cx="0.33" cy="0.22" rx="0.40" ry="0.13" fill="#5232c4" opacity="0.75"/><ellipse cx="0.58" cy="0.23" rx="0.40" ry="0.13" fill="#5232c4" opacity="0.75"/></g></g><g transform="translate(246.90,232.29) scale(7.40,21.01)"><use href="#ms" fill="url(#mg)"/><g clip-path="url(#mc)"><ellipse cx="0.48" cy="0.74" rx="0.13" ry="0.02" fill="#707078" opacity="0.35"/><ellipse cx="0.68" cy="0.81" rx="0.09" ry="0.03" fill="#707078" opacity="0.35"/><ellipse cx="0.50" cy="0.76" rx="0.12" ry="0.04" fill="#707078" opacity="0.35"/><ellipse cx="0.40" cy="0.68" rx="0.45" ry="0.14" fill="#5232c4" opacity="0.85"/><ellipse cx="0.43" cy="0.36" rx="0.45" ry="0.14" fill="#5232c4" opacity="0.85"/><ellipse cx="0.60" cy="0.79" rx="0.45" ry="0.14" fill="#5232c4" opacity="0.85"/><ellipse cx="0.63" cy="0.56" rx="0.45" ry="0.14" fill="#5232c4" opacity="0.85"/><ellipse cx="0.47" cy="0.67" rx="0.45" ry="0.14" fill="#5232c4" opacity="0.85"/></g></g><g transform="translate(257.60,232.29) scale(7.40,21.01)"><use href="#ms" fill="url(#mg)"/><g clip-path="url(#mc)"><ellipse cx="0.56" cy="0.78" rx="0.16" ry="0.02" fill="#707078" opacity="0.35"/><ellipse cx="0.44" cy="0.67" rx="0.10" ry="0.03" fill="#707078" opacity="0.35"/><ellipse cx="0.26" cy="0.61" rx="0.17" ry="0.05" fill="#707078" opacity="0.35"/><ellipse cx="0.35" cy="0.63" rx="0.40" ry="0.13" fill="#5232c4" opacity="0.75"/><ellipse cx="0.47" cy="0.59" rx="0.40" ry="0.13" fill="#5232c4" opacity="0.75"/><ellipse cx="0.46" cy="0.80" rx="0.40" ry="0.13" fill="#5232c4" opacity="0.75"/></g></g><g transform="translate(211.90,257.29) scale(7.40,22.34)"><use href="#ms" fill="url(#mg)"/><g clip-path="url(#mc)"><ellipse cx="0.74" cy="0.23" rx="0.15" ry="0.02" fill="#707078" opacity="0.35"/><ellipse cx="0.27" cy="0.40" rx="0.15" ry="0.05" fill="#707078" opacity="0.35"/><ellipse cx="0.31" cy="0.43" rx="0.08" ry="0.04" fill="#707078" opacity="0.35"/><ellipse cx="0.49" cy="0.41" rx="0.40" ry="0.13" fill="#5232c4" opacity="0.75"/><ellipse cx="0.42" cy="0.71" rx="0.40" ry="0.13" fill="#5232c4" opacity="0.75"/><ellipse cx="0.64" cy="0.35" rx="0.40" ry="0.13" fill="#5232c4" opacity="0.75"/></g></g><g transform="translate(223.30,257.29) scale(7.40,22.34)"><use href="#ms" fill="url(#mg)"/><g clip-path="url(#mc)"><ellipse cx="0.45" cy="0.63" rx="0.16" ry="0.05" fill="#707078" opacity="0.35"/><ellipse cx="0.44" cy="0.69" rx="0.13" ry="0.04" fill="#707078" opacity="0.35"/><ellipse cx="0.32" cy="0.32" rx="0.09" ry="0.05" fill="#707078" opacity="0.35"/><ellipse cx="0.40" cy="0.49" rx="0.45" ry="0.14" fill="#5232c4" opacity="0.85"/><ellipse cx="0.35" cy="0.35" rx="0.45" ry="0.14" fill="#5232c4" opacity="0.85"/><ellipse cx="0.31" cy="0.56" rx="0.45" ry="0.14" fill="#5232c4" opacity="0.85"/><ellipse cx="0.36" cy="0.61" rx="0.45" ry="0.14" fill="#5232c4" opacity="0.85"/><ellipse cx="0.41" cy="0.27" rx="0.45" ry="0.14" fill="#5232c4" opacity="0.85"/></g></g><g transform="translate(234.00,257.29) scale(7.40,22.34)"><use href="#ms" fill="url(#mg)"/><g clip-path="url(#mc)"><ellipse cx="0.49" cy="0.46" rx="0.11" ry="0.02" fill="#707078" opacity="0.35"/><ellipse cx="0.28" cy="0.82" rx="0.11" ry="0.02" fill="#707078" opacity="0.35"/><ellipse cx="0.34" cy="0.54" rx="0.18" ry="0.03" fill="#707078" opacity="0.35"/><ellipse cx="0.65" cy="0.49" rx="0.40" ry="0.13" fill="#5232c4" opacity="0.75"/><ellipse cx="0.47" cy="0.71" rx="0.40" ry="0.13" fill="#5232c4" opacity="0.75"/><ellipse cx="0.46" cy="0.19" rx="0.40" ry="0.13" fill="#5232c4" opacity="0.75"/></g></g><g transform="translate(246.90,257.29) scale(7.40,22.34)"><use href="#ms" fill="url(#mg)"/><g clip-path="url(#mc)"><ellipse cx="0.53" cy="0.66" rx="0.14" ry="0.03" fill="#707078" opacity="0.35"/><ellipse cx="0.72" cy="0.81" rx="0.18" ry="0.03" fill="#707078" opacity="0.35"/><ellipse cx="0.67" cy="0.71" rx="0.10" ry="0.02" fill="#707078" opacity="0.35"/><ellipse cx="0.37" cy="0.23" rx="0.40" ry="0.13" fill="#5232c4" opacity="0.75"/><ellipse cx="0.33" cy="0.40" rx="0.40" ry="0.13" fill="#5232c4" opacity="0.75"/><ellipse cx="0.60" cy="0.37" rx="0.40" ry="0.13" fill="#5232c4" opacity="0.75"/></g></g><g transform="translate(257.60,257.29) scale(7.40,22.34)"><use href="#ms" fill="url(#mg)"/><g clip-path="url(#mc)"><ellipse cx="0.51" cy="0.21" rx="0.10" ry="0.05" fill="#707078" opacity="0.35"/><ellipse cx="0.26" cy="0.57" rx="0.16" ry="0.04" fill="#707078" opacity="0.35"/><ellipse cx="0.62" cy="0.48" rx="0.16" ry="0.04" fill="#707078" opacity="0.35"/><ellipse cx="0.61" cy="0.84" rx="0.40" ry="0.13" fill="#5232c4" opacity="0.75"/><ellipse cx="0.34" cy="0.82" rx="0.40" ry="0.13" fill="#5232c4" opacity="0.75"/><ellipse cx="0.46" cy="0.64" rx="0.40" ry="0.13" fill="#5232c4" opacity="0.75"/></g></g></g><rect x="210.5" y="227.8" width="55.50" height="54.20" fill="none" stroke="#c8e6e6" stroke-width="1"/>
<g filter="url(#bl)"><rect x="95.8" y="285" width="56.20" height="53.30" fill="#070709"/><path d="M100.10,309.05 C100.10,312.05 102.95,313.55 105.80,312.55" fill="none" stroke="#8c8c90" stroke-width="0.8"/><path d="M112.00,309.05 C112.00,312.05 110.49,313.55 108.97,312.55" fill="none" stroke="#8c8c90" stroke-width="0.8"/><path d="M123.70,309.05 C123.70,312.05 121.86,313.55 120.02,312.55" fill="none" stroke="#8c8c90" stroke-width="0.8"/><path d="M135.10,309.05 C135.10,312.05 137.69,313.55 140.27,312.55" fill="none" stroke="#8c8c90" stroke-width="0.8"/><path d="M147.30,309.05 C147.30,312.05 150.02,313.55 152.73,312.55" fill="none" stroke="#8c8c90" stroke-width="0.8"/><g transform="translate(96.40,289.00) scale(7.40,21.05)"><use href="#ms" fill="url(#mg)"/><g clip-path="url(#mc)"><ellipse cx="0.43" cy="0.65" rx="0.12" ry="0.03" fill="#707078" opacity="0.35"/><ellipse cx="0.70" cy="0.43" rx="0.09" ry="0.03" fill="#707078" opacity="0.35"/><ellipse cx="0.62" cy="0.35" rx="0.15" ry="0.04" fill="#707078" opacity="0.35"/></g></g><g transform="translate(108.30,289.00) scale(7.40,21.05)"><use href="#ms" fill="url(#mg)"/><g clip-path="url(#mc)"><ellipse cx="0.59" cy="0.32" rx="0.09" ry="0.02" fill="#707078" opacity="0.35"/><ellipse cx="0.43" cy="0.50" rx="0.08" ry="0.04" fill="#707078" opacity="0.35"/><ellipse cx="0.45" cy="0.43" rx="0.13" ry="0.05" fill="#707078" opacity="0.35"/></g></g><g transform="translate(120.00,289.00) scale(7.40,21.05)"><use href="#ms" fill="url(#mg)"/><g clip-path="url(#mc)"><ellipse cx="0.35" cy="0.82" rx="0.11" ry="0.04" fill="#707078" opacity="0.35"/><ellipse cx="0.30" cy="0.89" rx="0.12" ry="0.05" fill="#707078" opacity="0.35"/><ellipse cx="0.36" cy="0.49" rx="0.15" ry="0.03" fill="#707078" opacity="0.35"/><ellipse cx="0.41" cy="0.62" rx="0.40" ry="0.13" fill="#5232c4" opacity="0.75"/><ellipse cx="0.68" cy="0.38" rx="0.40" ry="0.13" fill="#5232c4" opacity="0.75"/><ellipse cx="0.37" cy="0.40" rx="0.40" ry="0.13" fill="#5232c4" opacity="0.75"/></g></g><g transform="translate(131.40,289.00) scale(7.40,21.05)"><use href="#ms" fill="url(#mg)"/><g clip-path="url(#mc)"><ellipse cx="0.74" cy="0.30" rx="0.14" ry="0.03" fill="#707078" opacity="0.35"/><ellipse cx="0.57" cy="0.35" rx="0.14" ry="0.05" fill="#707078" opacity="0.35"/><ellipse cx="0.68" cy="0.64" rx="0.13" ry="0.04" fill="#707078" opacity="0.35"/></g></g><g transform="translate(143.60,289.00) scale(7.40,21.05)"><use href="#ms" fill="url(#mg)"/><g clip-path="url(#mc)"><ellipse cx="0.31" cy="0.79" rx="0.15" ry="0.03" fill="#707078" opacity="0.35"/><ellipse cx="0.58" cy="0.49" rx="0.12" ry="0.03" fill="#707078" opacity="0.35"/><ellipse cx="0.55" cy="0.60" rx="0.13" ry="0.02" fill="#707078" opacity="0.35"/><ellipse cx="0.55" cy="0.46" rx="0.40" ry="0.13" fill="#5232c4" opacity="0.75"/><ellipse cx="0.54" cy="0.57" rx="0.40" ry="0.13" fill="#5232c4" opacity="0.75"/><ellipse cx="0.67" cy="0.26" rx="0.40" ry="0.13" fill="#5232c4" opacity="0.75"/></g></g><g transform="translate(96.40,314.05) scale(7.40,22.39)"><use href="#ms" fill="#5232c4"/><g clip-path="url(#mc)"><ellipse cx="0.49" cy="0.80" rx="0.40" ry="0.10" fill="#d4ccee" opacity="0.75"/><ellipse cx="0.57" cy="0.42" rx="0.40" ry="0.10" fill="#d4ccee" opacity="0.75"/><ellipse cx="0.57" cy="0.79" rx="0.40" ry="0.10" fill="#d4ccee" opacity="0.75"/><ellipse cx="0.46" cy="0.90" rx="0.20" ry="0.05" fill="#90a8f4" opacity="0.8"/><ellipse cx="0.35" cy="0.25" rx="0.18" ry="0.05" fill="#8870e0" opacity="0.7"/></g></g><g transform="translate(120.00,314.05) scale(7.40,22.39)"><use href="#ms" fill="url(#mg)"/><g clip-path="url(#mc)"><ellipse cx="0.50" cy="0.36" rx="0.16" ry="0.04" fill="#707078" opacity="0.35"/><ellipse cx="0.72" cy="0.78" rx="0.16" ry="0.04" fill="#707078" opacity="0.35"/><ellipse cx="0.75" cy="0.25" rx="0.17" ry="0.04" fill="#707078" opacity="0.35"/><ellipse cx="0.40" cy="0.76" rx="0.45" ry="0.14" fill="#5232c4" opacity="0.85"/><ellipse cx="0.48" cy="0.53" rx="0.45" ry="0.14" fill="#5232c4" opacity="0.85"/><ellipse cx="0.65" cy="0.24" rx="0.45" ry="0.14" fill="#5232c4" opacity="0.85"/><ellipse cx="0.41" cy="0.62" rx="0.45" ry="0.14" fill="#5232c4" opacity="0.85"/><ellipse cx="0.33" cy="0.55" rx="0.45" ry="0.14" fill="#5232c4" opacity="0.85"/></g></g><g transform="translate(131.40,314.05) scale(7.40,22.39)"><use href="#ms" fill="url(#mg)"/><g clip-path="url(#mc)"><ellipse cx="0.64" cy="0.54" rx="0.10" ry="0.04" fill="#707078" opacity="0.35"/><ellipse cx="0.68" cy="0.74" rx="0.13" ry="0.05" fill="#707078" opacity="0.35"/><ellipse cx="0.65" cy="0.31" rx="0.12" ry="0.02" fill="#707078" opacity="0.35"/><ellipse cx="0.31" cy="0.37" rx="0.45" ry="0.14" fill="#5232c4" opacity="0.85"/><ellipse cx="0.65" cy="0.78" rx="0.45" ry="0.14" fill="#5232c4" opacity="0.85"/><ellipse cx="0.35" cy="0.23" rx="0.45" ry="0.14" fill="#5232c4" opacity="0.85"/><ellipse cx="0.46" cy="0.79" rx="0.45" ry="0.14" fill="#5232c4" opacity="0.85"/><ellipse cx="0.55" cy="0.84" rx="0.45" ry="0.14" fill="#5232c4" opacity="0.85"/></g></g><g transform="translate(143.60,314.05) scale(7.40,22.39)"><use href="#ms" fill="url(#mg)"/><g clip-path="url(#mc)"><ellipse cx="0.29" cy="0.89" rx="0.10" ry="0.04" fill="#707078" opacity="0.35"/><ellipse cx="0.69" cy="0.71" rx="0.10" ry="0.04" fill="#707078" opacity="0.35"/><ellipse cx="0.47" cy="0.21" rx="0.11" ry="0.03" fill="#707078" opacity="0.35"/><ellipse cx="0.55" cy="0.31" rx="0.45" ry="0.14" fill="#5232c4" opacity="0.85"/><ellipse cx="0.54" cy="0.66" rx="0.45" ry="0.14" fill="#5232c4" opacity="0.85"/><ellipse cx="0.37" cy="0.19" rx="0.45" ry="0.14" fill="#5232c4" opacity="0.85"/><ellipse cx="0.58" cy="0.47" rx="0.45" ry="0.14" fill="#5232c4" opacity="0.85"/><ellipse cx="0.35" cy="0.18" rx="0.45" ry="0.14" fill="#5232c4" opacity="0.85"/></g></g></g>
<g filter="url(#bl)"><rect x="153" y="285" width="56.50" height="53.30" fill="#070709"/><path d="M157.80,309.05 C157.80,312.05 160.22,313.55 162.63,312.55" fill="none" stroke="#8c8c90" stroke-width="0.8"/><path d="M169.00,309.05 C169.00,312.05 170.96,313.55 172.92,312.55" fill="none" stroke="#8c8c90" stroke-width="0.8"/><path d="M180.70,309.05 C180.70,312.05 177.71,313.55 174.72,312.55" fill="none" stroke="#8c8c90" stroke-width="0.8"/><path d="M192.10,309.05 C192.10,312.05 189.50,313.55 186.89,312.55" fill="none" stroke="#8c8c90" stroke-width="0.8"/><path d="M203.50,309.05 C203.50,312.05 206.31,313.55 209.11,312.55" fill="none" stroke="#8c8c90" stroke-width="0.8"/><g transform="translate(154.10,289.00) scale(7.40,21.05)"><use href="#ms" fill="#5232c4"/><g clip-path="url(#mc)"><ellipse cx="0.58" cy="0.36" rx="0.40" ry="0.10" fill="#d4ccee" opacity="0.75"/><ellipse cx="0.37" cy="0.40" rx="0.40" ry="0.10" fill="#d4ccee" opacity="0.75"/><ellipse cx="0.46" cy="0.59" rx="0.40" ry="0.10" fill="#d4ccee" opacity="0.75"/><ellipse cx="0.41" cy="0.82" rx="0.20" ry="0.05" fill="#90a8f4" opacity="0.8"/><ellipse cx="0.35" cy="0.11" rx="0.18" ry="0.05" fill="#8870e0" opacity="0.7"/></g></g><g transform="translate(165.30,289.00) scale(7.40,21.05)"><use href="#ms" fill="url(#mg)"/><g clip-path="url(#mc)"><ellipse cx="0.51" cy="0.49" rx="0.13" ry="0.02" fill="#707078" opacity="0.35"/><ellipse cx="0.31" cy="0.81" rx="0.18" ry="0.02" fill="#707078" opacity="0.35"/><ellipse cx="0.57" cy="0.36" rx="0.13" ry="0.03" fill="#707078" opacity="0.35"/><ellipse cx="0.47" cy="0.30" rx="0.40" ry="0.13" fill="#5232c4" opacity="0.75"/><ellipse cx="0.56" cy="0.41" rx="0.40" ry="0.13" fill="#5232c4" opacity="0.75"/><ellipse cx="0.43" cy="0.56" rx="0.40" ry="0.13" fill="#5232c4" opacity="0.75"/></g></g><g transform="translate(177.00,289.00) scale(7.40,21.05)"><use href="#ms" fill="url(#mg)"/><g clip-path="url(#mc)"><ellipse cx="0.58" cy="0.39" rx="0.15" ry="0.02" fill="#707078" opacity="0.35"/><ellipse cx="0.56" cy="0.21" rx="0.12" ry="0.04" fill="#707078" opacity="0.35"/><ellipse cx="0.68" cy="0.47" rx="0.11" ry="0.02" fill="#707078" opacity="0.35"/><ellipse cx="0.65" cy="0.69" rx="0.40" ry="0.13" fill="#5232c4" opacity="0.75"/><ellipse cx="0.34" cy="0.61" rx="0.40" ry="0.13" fill="#5232c4" opacity="0.75"/><ellipse cx="0.48" cy="0.30" rx="0.40" ry="0.13" fill="#5232c4" opacity="0.75"/></g></g><g transform="translate(188.40,289.00) scale(7.40,21.05)"><use href="#ms" fill="#5232c4"/><g clip-path="url(#mc)"><ellipse cx="0.59" cy="0.26" rx="0.40" ry="0.10" fill="#d4ccee" opacity="0.75"/><ellipse cx="0.36" cy="0.57" rx="0.40" ry="0.10" fill="#d4ccee" opacity="0.75"/><ellipse cx="0.56" cy="0.79" rx="0.40" ry="0.10" fill="#d4ccee" opacity="0.75"/><ellipse cx="0.63" cy="0.90" rx="0.20" ry="0.05" fill="#90a8f4" opacity="0.8"/><ellipse cx="0.57" cy="0.12" rx="0.18" ry="0.05" fill="#8870e0" opacity="0.7"/></g></g><g transform="translate(199.80,289.00) scale(7.40,21.05)"><use href="#ms" fill="url(#mg)"/><g clip-path="url(#mc)"><ellipse cx="0.29" cy="0.32" rx="0.13" ry="0.03" fill="#707078" opacity="0.35"/><ellipse cx="0.58" cy="0.24" rx="0.10" ry="0.02" fill="#707078" opacity="0.35"/><ellipse cx="0.64" cy="0.50" rx="0.10" ry="0.04" fill="#707078" opacity="0.35"/></g></g><g transform="translate(154.10,314.05) scale(7.40,22.39)"><use href="#ms" fill="#5232c4"/><g clip-path="url(#mc)"><ellipse cx="0.38" cy="0.28" rx="0.40" ry="0.10" fill="#d4ccee" opacity="0.75"/><ellipse cx="0.65" cy="0.61" rx="0.40" ry="0.10" fill="#d4ccee" opacity="0.75"/><ellipse cx="0.59" cy="0.76" rx="0.40" ry="0.10" fill="#d4ccee" opacity="0.75"/><ellipse cx="0.51" cy="0.87" rx="0.20" ry="0.05" fill="#90a8f4" opacity="0.8"/><ellipse cx="0.50" cy="0.22" rx="0.18" ry="0.05" fill="#8870e0" opacity="0.7"/></g></g><g transform="translate(165.30,314.05) scale(7.40,22.39)"><use href="#ms" fill="url(#mg)"/><g clip-path="url(#mc)"><ellipse cx="0.51" cy="0.27" rx="0.16" ry="0.02" fill="#707078" opacity="0.35"/><ellipse cx="0.73" cy="0.69" rx="0.16" ry="0.05" fill="#707078" opacity="0.35"/><ellipse cx="0.58" cy="0.88" rx="0.13" ry="0.05" fill="#707078" opacity="0.35"/><ellipse cx="0.47" cy="0.21" rx="0.45" ry="0.14" fill="#5232c4" opacity="0.85"/><ellipse cx="0.45" cy="0.39" rx="0.45" ry="0.14" fill="#5232c4" opacity="0.85"/><ellipse cx="0.63" cy="0.82" rx="0.45" ry="0.14" fill="#5232c4" opacity="0.85"/><ellipse cx="0.34" cy="0.43" rx="0.45" ry="0.14" fill="#5232c4" opacity="0.85"/><ellipse cx="0.52" cy="0.90" rx="0.45" ry="0.14" fill="#5232c4" opacity="0.85"/></g></g><g transform="translate(177.00,314.05) scale(7.40,22.39)"><use href="#ms" fill="url(#mg)"/><g clip-path="url(#mc)"><ellipse cx="0.64" cy="0.27" rx="0.18" ry="0.04" fill="#707078" opacity="0.35"/><ellipse cx="0.28" cy="0.37" rx="0.15" ry="0.04" fill="#707078" opacity="0.35"/><ellipse cx="0.40" cy="0.45" rx="0.10" ry="0.04" fill="#707078" opacity="0.35"/><ellipse cx="0.49" cy="0.91" rx="0.45" ry="0.14" fill="#5232c4" opacity="0.85"/><ellipse cx="0.54" cy="0.22" rx="0.45" ry="0.14" fill="#5232c4" opacity="0.85"/><ellipse cx="0.34" cy="0.20" rx="0.45" ry="0.14" fill="#5232c4" opacity="0.85"/><ellipse cx="0.66" cy="0.76" rx="0.45" ry="0.14" fill="#5232c4" opacity="0.85"/><ellipse cx="0.50" cy="0.20" rx="0.45" ry="0.14" fill="#5232c4" opacity="0.85"/></g></g><g transform="translate(188.40,314.05) scale(7.40,22.39)"><use href="#ms" fill="url(#mg)"/><g clip-path="url(#mc)"><ellipse cx="0.53" cy="0.32" rx="0.14" ry="0.05" fill="#707078" opacity="0.35"/><ellipse cx="0.61" cy="0.28" rx="0.16" ry="0.03" fill="#707078" opacity="0.35"/><ellipse cx="0.65" cy="0.28" rx="0.15" ry="0.03" fill="#707078" opacity="0.35"/><ellipse cx="0.42" cy="0.58" rx="0.40" ry="0.13" fill="#5232c4" opacity="0.75"/><ellipse cx="0.46" cy="0.50" rx="0.40" ry="0.13" fill="#5232c4" opacity="0.75"/><ellipse cx="0.66" cy="0.53" rx="0.40" ry="0.13" fill="#5232c4" opacity="0.75"/></g></g><g transform="translate(199.80,314.05) scale(7.40,22.39)"><use href="#ms" fill="url(#mg)"/><g clip-path="url(#mc)"><ellipse cx="0.63" cy="0.74" rx="0.12" ry="0.03" fill="#707078" opacity="0.35"/><ellipse cx="0.36" cy="0.58" rx="0.15" ry="0.03" fill="#707078" opacity="0.35"/><ellipse cx="0.70" cy="0.34" rx="0.18" ry="0.04" fill="#707078" opacity="0.35"/></g></g></g>
<g filter="url(#bl2)"><rect x="209.5" y="285" width="55.50" height="53.30" fill="#3622b0"/><g transform="translate(209.10,289.00) scale(7.40,21.05)"><use href="#ms" fill="#4a2cbc"/><g clip-path="url(#mc)"></g></g><g transform="translate(220.90,289.00) scale(7.40,21.05)"><use href="#ms" fill="#4a2cbc"/><g clip-path="url(#mc)"></g></g><g transform="translate(232.90,289.00) scale(7.40,21.05)"><use href="#ms" fill="#4a2cbc"/><g clip-path="url(#mc)"></g></g><g transform="translate(244.90,289.00) scale(7.40,21.05)"><use href="#ms" fill="#4a2cbc"/><g clip-path="url(#mc)"></g></g><g transform="translate(255.80,289.00) scale(7.40,21.05)"><use href="#ms" fill="#4a2cbc"/><g clip-path="url(#mc)"></g></g><g transform="translate(209.10,314.05) scale(7.40,22.39)"><use href="#ms" fill="#4a2cbc"/><g clip-path="url(#mc)"></g></g><g transform="translate(220.90,314.05) scale(7.40,22.39)"><use href="#ms" fill="#4a2cbc"/><g clip-path="url(#mc)"></g></g><g transform="translate(232.90,314.05) scale(7.40,22.39)"><use href="#ms" fill="#4a2cbc"/><g clip-path="url(#mc)"></g></g><g transform="translate(244.90,314.05) scale(7.40,22.39)"><use href="#ms" fill="#4a2cbc"/><g clip-path="url(#mc)"></g></g><g transform="translate(255.80,314.05) scale(7.40,22.39)"><use href="#ms" fill="#4a2cbc"/><g clip-path="url(#mc)"></g></g><rect x="209.5" y="285" width="55.5" height="4" fill="#120a48" opacity="0.85"/><ellipse cx="212" cy="312.5" rx="3" ry="1.6" fill="#0c0830"/><ellipse cx="242" cy="312.5" rx="3" ry="1.6" fill="#0c0830"/><ellipse cx="255" cy="312.5" rx="2.5" ry="1.4" fill="#0c0830"/><ellipse cx="228" cy="312" rx="2" ry="1.2" fill="#140c40"/><ellipse cx="213.49" cy="302.80" rx="0.76" ry="0.76" fill="#6a70e8" opacity="0.85"/><ellipse cx="213.46" cy="300.52" rx="0.98" ry="1.07" fill="#38c0e8" opacity="0.85"/><ellipse cx="212.41" cy="298.52" rx="1.23" ry="0.97" fill="#58d040" opacity="0.85"/><ellipse cx="210.64" cy="305.01" rx="0.83" ry="1.08" fill="#38c0e8" opacity="0.85"/><ellipse cx="210.80" cy="299.13" rx="1.02" ry="0.87" fill="#38c0e8" opacity="0.85"/><ellipse cx="211.90" cy="290.84" rx="1.15" ry="1.00" fill="#38c0e8" opacity="0.85"/><ellipse cx="210.52" cy="324.72" rx="1.18" ry="1.56" fill="#58d040" opacity="0.85"/><ellipse cx="211.18" cy="324.42" rx="0.87" ry="1.51" fill="#6a70e8" opacity="0.85"/><ellipse cx="214.57" cy="324.58" rx="0.67" ry="0.87" fill="#38c0e8" opacity="0.85"/><ellipse cx="210.78" cy="322.04" rx="0.86" ry="1.38" fill="#6a70e8" opacity="0.85"/><ellipse cx="214.14" cy="329.25" rx="1.17" ry="1.42" fill="#6a70e8" opacity="0.85"/><ellipse cx="215.18" cy="327.25" rx="1.28" ry="0.79" fill="#38c0e8" opacity="0.85"/><ellipse cx="226.23" cy="292.52" rx="0.83" ry="0.86" fill="#38c0e8" opacity="0.85"/><ellipse cx="223.28" cy="305.95" rx="0.93" ry="0.71" fill="#6a70e8" opacity="0.85"/><ellipse cx="227.00" cy="291.39" rx="0.60" ry="1.04" fill="#58d040" opacity="0.85"/><ellipse cx="226.91" cy="290.30" rx="1.13" ry="1.35" fill="#58d040" opacity="0.85"/><ellipse cx="222.08" cy="303.57" rx="1.30" ry="1.38" fill="#38c0e8" opacity="0.85"/><ellipse cx="226.78" cy="295.88" rx="0.80" ry="1.15" fill="#38c0e8" opacity="0.85"/><ellipse cx="224.99" cy="321.33" rx="0.84" ry="1.46" fill="#6a70e8" opacity="0.85"/><ellipse cx="224.25" cy="319.97" rx="1.29" ry="0.94" fill="#38c0e8" opacity="0.85"/><ellipse cx="222.76" cy="333.41" rx="0.99" ry="1.09" fill="#38c0e8" opacity="0.85"/><ellipse cx="224.82" cy="322.95" rx="1.25" ry="0.78" fill="#58d040" opacity="0.85"/><ellipse cx="222.67" cy="317.51" rx="1.17" ry="0.83" fill="#38c0e8" opacity="0.85"/><ellipse cx="222.11" cy="326.12" rx="1.27" ry="1.48" fill="#38c0e8" opacity="0.85"/><ellipse cx="234.28" cy="292.93" rx="1.28" ry="1.10" fill="#58d040" opacity="0.85"/><ellipse cx="236.70" cy="306.21" rx="1.02" ry="1.46" fill="#58d040" opacity="0.85"/><ellipse cx="236.64" cy="289.95" rx="0.87" ry="1.40" fill="#58d040" opacity="0.85"/><ellipse cx="238.47" cy="305.92" rx="1.06" ry="1.26" fill="#6a70e8" opacity="0.85"/><ellipse cx="234.19" cy="289.43" rx="1.14" ry="1.07" fill="#58d040" opacity="0.85"/><ellipse cx="238.76" cy="295.81" rx="1.30" ry="1.38" fill="#58d040" opacity="0.85"/><ellipse cx="234.77" cy="330.06" rx="0.90" ry="1.57" fill="#58d040" opacity="0.85"/><ellipse cx="235.13" cy="323.59" rx="0.79" ry="1.12" fill="#58d040" opacity="0.85"/><ellipse cx="234.01" cy="327.40" rx="1.14" ry="1.38" fill="#38c0e8" opacity="0.85"/><ellipse cx="234.38" cy="322.86" rx="1.23" ry="1.50" fill="#38c0e8" opacity="0.85"/><ellipse cx="237.37" cy="329.45" rx="0.95" ry="0.99" fill="#58d040" opacity="0.85"/><ellipse cx="234.71" cy="320.26" rx="1.24" ry="1.54" fill="#38c0e8" opacity="0.85"/><ellipse cx="246.07" cy="303.62" rx="0.66" ry="0.82" fill="#58d040" opacity="0.85"/><ellipse cx="247.74" cy="292.86" rx="0.81" ry="1.51" fill="#6a70e8" opacity="0.85"/><ellipse cx="246.47" cy="291.00" rx="1.05" ry="1.04" fill="#58d040" opacity="0.85"/><ellipse cx="250.71" cy="298.86" rx="0.91" ry="1.48" fill="#6a70e8" opacity="0.85"/><ellipse cx="246.73" cy="289.32" rx="0.61" ry="1.05" fill="#38c0e8" opacity="0.85"/><ellipse cx="248.50" cy="301.70" rx="0.61" ry="1.39" fill="#58d040" opacity="0.85"/><ellipse cx="247.21" cy="328.89" rx="0.77" ry="0.98" fill="#6a70e8" opacity="0.85"/><ellipse cx="247.24" cy="328.46" rx="1.22" ry="1.40" fill="#6a70e8" opacity="0.85"/><ellipse cx="247.55" cy="324.10" rx="1.06" ry="1.53" fill="#58d040" opacity="0.85"/><ellipse cx="248.96" cy="320.96" rx="1.01" ry="1.23" fill="#58d040" opacity="0.85"/><ellipse cx="251.14" cy="321.43" rx="0.72" ry="1.54" fill="#38c0e8" opacity="0.85"/><ellipse cx="249.35" cy="316.99" rx="0.75" ry="1.26" fill="#38c0e8" opacity="0.85"/><ellipse cx="261.71" cy="294.39" rx="0.99" ry="1.45" fill="#38c0e8" opacity="0.85"/><ellipse cx="259.27" cy="290.14" rx="0.60" ry="1.21" fill="#6a70e8" opacity="0.85"/><ellipse cx="259.26" cy="290.08" rx="0.66" ry="1.01" fill="#38c0e8" opacity="0.85"/><ellipse cx="258.85" cy="295.13" rx="1.17" ry="1.14" fill="#38c0e8" opacity="0.85"/><ellipse cx="260.75" cy="293.72" rx="1.18" ry="1.26" fill="#58d040" opacity="0.85"/><ellipse cx="257.76" cy="303.21" rx="1.09" ry="1.23" fill="#58d040" opacity="0.85"/><ellipse cx="261.66" cy="331.05" rx="1.02" ry="1.21" fill="#58d040" opacity="0.85"/><ellipse cx="259.82" cy="316.17" rx="0.63" ry="1.44" fill="#58d040" opacity="0.85"/><ellipse cx="260.40" cy="327.69" rx="0.62" ry="1.07" fill="#58d040" opacity="0.85"/><ellipse cx="260.65" cy="327.00" rx="1.03" ry="0.90" fill="#38c0e8" opacity="0.85"/><ellipse cx="260.57" cy="328.95" rx="1.01" ry="0.74" fill="#58d040" opacity="0.85"/><ellipse cx="258.48" cy="325.44" rx="0.98" ry="1.46" fill="#58d040" opacity="0.85"/><ellipse cx="212.16" cy="294.54" rx="2.69" ry="3.36" fill="#38c0e8" opacity="0.95"/><ellipse cx="212.39" cy="293.58" rx="2.69" ry="3.36" fill="#38c0e8" opacity="0.95"/><ellipse cx="211.96" cy="294.54" rx="2.69" ry="3.36" fill="#38c0e8" opacity="0.95"/><ellipse cx="212.82" cy="294.70" rx="2.23" ry="2.79" fill="#58d040" opacity="0.95"/><ellipse cx="212.75" cy="293.40" rx="2.23" ry="2.79" fill="#58d040" opacity="0.95"/><ellipse cx="212.40" cy="293.59" rx="2.23" ry="2.79" fill="#58d040" opacity="0.95"/><ellipse cx="213.30" cy="293.59" rx="1.78" ry="2.22" fill="#f0e020" opacity="0.95"/><ellipse cx="212.34" cy="293.80" rx="1.78" ry="2.22" fill="#f0e020" opacity="0.95"/><ellipse cx="212.33" cy="293.90" rx="1.78" ry="2.22" fill="#f0e020" opacity="0.95"/><ellipse cx="212.90" cy="294.16" rx="1.32" ry="1.65" fill="#e82818" opacity="0.95"/><ellipse cx="212.53" cy="293.63" rx="1.32" ry="1.65" fill="#e82818" opacity="0.95"/><ellipse cx="212.79" cy="294.19" rx="1.32" ry="1.65" fill="#e82818" opacity="0.95"/><ellipse cx="209.21" cy="295.55" rx="0.59" ry="0.69" fill="#38c0e8" opacity="0.85"/><ellipse cx="209.05" cy="294.19" rx="0.83" ry="0.96" fill="#38c0e8" opacity="0.85"/><ellipse cx="209.23" cy="296.48" rx="0.68" ry="0.58" fill="#58d040" opacity="0.85"/><ellipse cx="212.42" cy="300.72" rx="2.51" ry="3.13" fill="#38c0e8" opacity="0.95"/><ellipse cx="213.41" cy="300.54" rx="2.51" ry="3.13" fill="#38c0e8" opacity="0.95"/><ellipse cx="213.00" cy="301.28" rx="2.51" ry="3.13" fill="#38c0e8" opacity="0.95"/><ellipse cx="213.39" cy="300.38" rx="2.08" ry="2.60" fill="#58d040" opacity="0.95"/><ellipse cx="213.15" cy="300.73" rx="2.08" ry="2.60" fill="#58d040" opacity="0.95"/><ellipse cx="212.28" cy="301.21" rx="2.08" ry="2.60" fill="#58d040" opacity="0.95"/><ellipse cx="213.16" cy="301.11" rx="1.65" ry="2.07" fill="#f0e020" opacity="0.95"/><ellipse cx="212.33" cy="301.61" rx="1.65" ry="2.07" fill="#f0e020" opacity="0.95"/><ellipse cx="212.68" cy="301.18" rx="1.65" ry="2.07" fill="#f0e020" opacity="0.95"/><ellipse cx="212.28" cy="297.12" rx="1.01" ry="1.12" fill="#58d040" opacity="0.85"/><ellipse cx="211.59" cy="304.69" rx="0.75" ry="1.11" fill="#58d040" opacity="0.85"/><ellipse cx="215.75" cy="302.53" rx="0.52" ry="0.57" fill="#38c0e8" opacity="0.85"/><ellipse cx="213.21" cy="307.00" rx="1.39" ry="1.74" fill="#38c0e8" opacity="0.95"/><ellipse cx="212.92" cy="306.46" rx="1.39" ry="1.74" fill="#38c0e8" opacity="0.95"/><ellipse cx="212.63" cy="306.41" rx="1.39" ry="1.74" fill="#38c0e8" opacity="0.95"/><ellipse cx="225.19" cy="300.59" rx="2.88" ry="3.60" fill="#38c0e8" opacity="0.95"/><ellipse cx="224.67" cy="300.91" rx="2.88" ry="3.60" fill="#38c0e8" opacity="0.95"/><ellipse cx="224.08" cy="300.19" rx="2.88" ry="3.60" fill="#38c0e8" opacity="0.95"/><ellipse cx="223.77" cy="300.28" rx="2.39" ry="2.98" fill="#58d040" opacity="0.95"/><ellipse cx="223.91" cy="300.03" rx="2.39" ry="2.98" fill="#58d040" opacity="0.95"/><ellipse cx="224.57" cy="299.74" rx="2.39" ry="2.98" fill="#58d040" opacity="0.95"/><ellipse cx="224.58" cy="300.74" rx="1.90" ry="2.37" fill="#f0e020" opacity="0.95"/><ellipse cx="224.26" cy="299.93" rx="1.90" ry="2.37" fill="#f0e020" opacity="0.95"/><ellipse cx="224.17" cy="300.43" rx="1.90" ry="2.37" fill="#f0e020" opacity="0.95"/><ellipse cx="225.81" cy="296.78" rx="0.73" ry="0.94" fill="#38c0e8" opacity="0.85"/><ellipse cx="227.63" cy="298.22" rx="0.58" ry="0.54" fill="#38c0e8" opacity="0.85"/><ellipse cx="228.02" cy="298.66" rx="0.83" ry="1.06" fill="#58d040" opacity="0.85"/><ellipse cx="224.13" cy="295.22" rx="1.48" ry="1.86" fill="#38c0e8" opacity="0.95"/><ellipse cx="223.69" cy="295.65" rx="1.48" ry="1.86" fill="#38c0e8" opacity="0.95"/><ellipse cx="223.96" cy="295.39" rx="1.48" ry="1.86" fill="#38c0e8" opacity="0.95"/><ellipse cx="236.72" cy="296.02" rx="2.43" ry="3.89" fill="#38c0e8" opacity="0.95"/><ellipse cx="236.55" cy="296.90" rx="2.43" ry="3.89" fill="#38c0e8" opacity="0.95"/><ellipse cx="237.08" cy="297.65" rx="2.43" ry="3.89" fill="#38c0e8" opacity="0.95"/><ellipse cx="236.33" cy="296.46" rx="2.02" ry="3.23" fill="#58d040" opacity="0.95"/><ellipse cx="236.08" cy="297.29" rx="2.02" ry="3.23" fill="#58d040" opacity="0.95"/><ellipse cx="236.68" cy="296.51" rx="2.02" ry="3.23" fill="#58d040" opacity="0.95"/><ellipse cx="236.36" cy="297.28" rx="1.60" ry="2.57" fill="#f0e020" opacity="0.95"/><ellipse cx="236.70" cy="296.97" rx="1.60" ry="2.57" fill="#f0e020" opacity="0.95"/><ellipse cx="236.20" cy="297.62" rx="1.60" ry="2.57" fill="#f0e020" opacity="0.95"/><ellipse cx="236.50" cy="297.24" rx="1.19" ry="1.91" fill="#e82818" opacity="0.95"/><ellipse cx="236.43" cy="297.07" rx="1.19" ry="1.91" fill="#e82818" opacity="0.95"/><ellipse cx="236.18" cy="296.43" rx="1.19" ry="1.91" fill="#e82818" opacity="0.95"/><ellipse cx="233.47" cy="294.52" rx="1.02" ry="0.86" fill="#58d040" opacity="0.85"/><ellipse cx="233.64" cy="293.64" rx="1.03" ry="0.59" fill="#38c0e8" opacity="0.85"/><ellipse cx="233.56" cy="299.50" rx="0.67" ry="0.64" fill="#38c0e8" opacity="0.85"/><ellipse cx="237.05" cy="303.79" rx="1.95" ry="2.44" fill="#38c0e8" opacity="0.95"/><ellipse cx="236.48" cy="303.98" rx="1.95" ry="2.44" fill="#38c0e8" opacity="0.95"/><ellipse cx="237.06" cy="304.37" rx="1.95" ry="2.44" fill="#38c0e8" opacity="0.95"/><ellipse cx="236.28" cy="304.91" rx="1.62" ry="2.02" fill="#58d040" opacity="0.95"/><ellipse cx="236.59" cy="304.45" rx="1.62" ry="2.02" fill="#58d040" opacity="0.95"/><ellipse cx="236.92" cy="304.53" rx="1.62" ry="2.02" fill="#58d040" opacity="0.95"/><ellipse cx="235.16" cy="307.66" rx="0.60" ry="0.85" fill="#38c0e8" opacity="0.85"/><ellipse cx="239.46" cy="304.53" rx="1.00" ry="0.53" fill="#58d040" opacity="0.85"/><ellipse cx="233.91" cy="303.78" rx="0.94" ry="0.62" fill="#38c0e8" opacity="0.85"/><ellipse cx="248.06" cy="291.71" rx="2.13" ry="2.67" fill="#38c0e8" opacity="0.95"/><ellipse cx="248.72" cy="291.53" rx="2.13" ry="2.67" fill="#38c0e8" opacity="0.95"/><ellipse cx="247.97" cy="291.56" rx="2.13" ry="2.67" fill="#38c0e8" opacity="0.95"/><ellipse cx="248.90" cy="291.90" rx="1.77" ry="2.21" fill="#58d040" opacity="0.95"/><ellipse cx="248.97" cy="291.29" rx="1.77" ry="2.21" fill="#58d040" opacity="0.95"/><ellipse cx="248.21" cy="291.10" rx="1.77" ry="2.21" fill="#58d040" opacity="0.95"/><ellipse cx="248.88" cy="291.56" rx="1.41" ry="1.76" fill="#f0e020" opacity="0.95"/><ellipse cx="248.57" cy="291.40" rx="1.41" ry="1.76" fill="#f0e020" opacity="0.95"/><ellipse cx="248.14" cy="291.76" rx="1.41" ry="1.76" fill="#f0e020" opacity="0.95"/><ellipse cx="245.40" cy="290.42" rx="1.04" ry="0.87" fill="#38c0e8" opacity="0.85"/><ellipse cx="251.36" cy="291.76" rx="0.51" ry="1.04" fill="#58d040" opacity="0.85"/><ellipse cx="250.77" cy="293.94" rx="1.04" ry="0.83" fill="#58d040" opacity="0.85"/><ellipse cx="247.87" cy="297.66" rx="1.02" ry="1.28" fill="#38c0e8" opacity="0.95"/><ellipse cx="248.17" cy="298.16" rx="1.02" ry="1.28" fill="#38c0e8" opacity="0.95"/><ellipse cx="248.07" cy="297.97" rx="1.02" ry="1.28" fill="#38c0e8" opacity="0.95"/><ellipse cx="248.58" cy="304.08" rx="1.02" ry="1.28" fill="#38c0e8" opacity="0.95"/><ellipse cx="248.76" cy="304.28" rx="1.02" ry="1.28" fill="#38c0e8" opacity="0.95"/><ellipse cx="248.31" cy="304.12" rx="1.02" ry="1.28" fill="#38c0e8" opacity="0.95"/><ellipse cx="258.77" cy="300.01" rx="3.57" ry="4.64" fill="#38c0e8" opacity="0.95"/><ellipse cx="259.94" cy="300.57" rx="3.57" ry="4.64" fill="#38c0e8" opacity="0.95"/><ellipse cx="258.23" cy="300.10" rx="3.57" ry="4.64" fill="#38c0e8" opacity="0.95"/><ellipse cx="259.62" cy="299.21" rx="2.96" ry="3.85" fill="#58d040" opacity="0.95"/><ellipse cx="258.71" cy="298.88" rx="2.96" ry="3.85" fill="#58d040" opacity="0.95"/><ellipse cx="258.08" cy="299.25" rx="2.96" ry="3.85" fill="#58d040" opacity="0.95"/><ellipse cx="259.45" cy="299.79" rx="2.36" ry="3.06" fill="#f0e020" opacity="0.95"/><ellipse cx="259.30" cy="299.26" rx="2.36" ry="3.06" fill="#f0e020" opacity="0.95"/><ellipse cx="258.73" cy="299.40" rx="2.36" ry="3.06" fill="#f0e020" opacity="0.95"/><ellipse cx="258.50" cy="300.57" rx="1.75" ry="2.27" fill="#e82818" opacity="0.95"/><ellipse cx="258.51" cy="300.65" rx="1.75" ry="2.27" fill="#e82818" opacity="0.95"/><ellipse cx="258.65" cy="300.04" rx="1.75" ry="2.27" fill="#e82818" opacity="0.95"/><ellipse cx="260.48" cy="306.50" rx="0.96" ry="1.11" fill="#58d040" opacity="0.85"/><ellipse cx="263.60" cy="296.47" rx="0.99" ry="1.13" fill="#58d040" opacity="0.85"/><ellipse cx="253.80" cy="297.36" rx="0.94" ry="0.64" fill="#58d040" opacity="0.85"/><ellipse cx="212.66" cy="325.92" rx="3.06" ry="3.83" fill="#38c0e8" opacity="0.95"/><ellipse cx="213.20" cy="324.31" rx="3.06" ry="3.83" fill="#38c0e8" opacity="0.95"/><ellipse cx="213.11" cy="326.52" rx="3.06" ry="3.83" fill="#38c0e8" opacity="0.95"/><ellipse cx="211.96" cy="325.66" rx="2.54" ry="3.18" fill="#58d040" opacity="0.95"/><ellipse cx="212.83" cy="325.27" rx="2.54" ry="3.18" fill="#58d040" opacity="0.95"/><ellipse cx="213.00" cy="325.65" rx="2.54" ry="3.18" fill="#58d040" opacity="0.95"/><ellipse cx="212.10" cy="325.47" rx="2.02" ry="2.53" fill="#f0e020" opacity="0.95"/><ellipse cx="212.76" cy="326.11" rx="2.02" ry="2.53" fill="#f0e020" opacity="0.95"/><ellipse cx="212.81" cy="325.72" rx="2.02" ry="2.53" fill="#f0e020" opacity="0.95"/><ellipse cx="212.47" cy="325.79" rx="1.50" ry="1.88" fill="#e82818" opacity="0.95"/><ellipse cx="212.87" cy="325.67" rx="1.50" ry="1.88" fill="#e82818" opacity="0.95"/><ellipse cx="212.86" cy="325.39" rx="1.50" ry="1.88" fill="#e82818" opacity="0.95"/><ellipse cx="209.17" cy="329.99" rx="0.95" ry="0.83" fill="#58d040" opacity="0.85"/><ellipse cx="213.85" cy="320.51" rx="0.86" ry="0.88" fill="#58d040" opacity="0.85"/><ellipse cx="214.46" cy="329.90" rx="1.09" ry="0.51" fill="#58d040" opacity="0.85"/><ellipse cx="212.47" cy="332.76" rx="2.41" ry="3.02" fill="#38c0e8" opacity="0.95"/><ellipse cx="212.52" cy="334.02" rx="2.41" ry="3.02" fill="#38c0e8" opacity="0.95"/><ellipse cx="212.48" cy="332.71" rx="2.41" ry="3.02" fill="#38c0e8" opacity="0.95"/><ellipse cx="212.69" cy="333.21" rx="2.00" ry="2.50" fill="#58d040" opacity="0.95"/><ellipse cx="211.98" cy="333.23" rx="2.00" ry="2.50" fill="#58d040" opacity="0.95"/><ellipse cx="212.09" cy="333.27" rx="2.00" ry="2.50" fill="#58d040" opacity="0.95"/><ellipse cx="212.77" cy="332.93" rx="1.59" ry="1.99" fill="#f0e020" opacity="0.95"/><ellipse cx="212.63" cy="333.85" rx="1.59" ry="1.99" fill="#f0e020" opacity="0.95"/><ellipse cx="212.92" cy="333.99" rx="1.59" ry="1.99" fill="#f0e020" opacity="0.95"/><ellipse cx="212.70" cy="333.84" rx="1.18" ry="1.48" fill="#e82818" opacity="0.95"/><ellipse cx="212.63" cy="333.12" rx="1.18" ry="1.48" fill="#e82818" opacity="0.95"/><ellipse cx="212.49" cy="333.85" rx="1.18" ry="1.48" fill="#e82818" opacity="0.95"/><ellipse cx="213.15" cy="337.27" rx="0.67" ry="0.81" fill="#58d040" opacity="0.85"/><ellipse cx="215.68" cy="335.40" rx="1.03" ry="1.08" fill="#38c0e8" opacity="0.85"/><ellipse cx="210.13" cy="331.63" rx="0.68" ry="0.57" fill="#58d040" opacity="0.85"/><ellipse cx="224.93" cy="328.61" rx="4.83" ry="5.80" fill="#38c0e8" opacity="0.95"/><ellipse cx="224.16" cy="326.43" rx="4.83" ry="5.80" fill="#38c0e8" opacity="0.95"/><ellipse cx="224.52" cy="327.66" rx="4.83" ry="5.80" fill="#38c0e8" opacity="0.95"/><ellipse cx="225.30" cy="325.79" rx="4.01" ry="4.81" fill="#58d040" opacity="0.95"/><ellipse cx="226.31" cy="326.48" rx="4.01" ry="4.81" fill="#58d040" opacity="0.95"/><ellipse cx="225.87" cy="326.86" rx="4.01" ry="4.81" fill="#58d040" opacity="0.95"/><ellipse cx="226.14" cy="325.94" rx="3.19" ry="3.83" fill="#f0e020" opacity="0.95"/><ellipse cx="224.86" cy="326.49" rx="3.19" ry="3.83" fill="#f0e020" opacity="0.95"/><ellipse cx="224.93" cy="327.77" rx="3.19" ry="3.83" fill="#f0e020" opacity="0.95"/><ellipse cx="225.40" cy="326.73" rx="2.37" ry="2.84" fill="#e82818" opacity="0.95"/><ellipse cx="225.41" cy="327.61" rx="2.37" ry="2.84" fill="#e82818" opacity="0.95"/><ellipse cx="225.50" cy="326.91" rx="2.37" ry="2.84" fill="#e82818" opacity="0.95"/><ellipse cx="221.56" cy="320.08" rx="1.06" ry="0.59" fill="#58d040" opacity="0.85"/><ellipse cx="231.13" cy="329.89" rx="0.68" ry="0.76" fill="#38c0e8" opacity="0.85"/><ellipse cx="219.92" cy="322.03" rx="0.51" ry="0.60" fill="#38c0e8" opacity="0.85"/><ellipse cx="236.68" cy="326.19" rx="2.59" ry="4.41" fill="#38c0e8" opacity="0.95"/><ellipse cx="237.15" cy="326.55" rx="2.59" ry="4.41" fill="#38c0e8" opacity="0.95"/><ellipse cx="236.27" cy="327.16" rx="2.59" ry="4.41" fill="#38c0e8" opacity="0.95"/><ellipse cx="236.72" cy="325.52" rx="2.15" ry="3.66" fill="#58d040" opacity="0.95"/><ellipse cx="236.91" cy="325.39" rx="2.15" ry="3.66" fill="#58d040" opacity="0.95"/><ellipse cx="236.91" cy="325.53" rx="2.15" ry="3.66" fill="#58d040" opacity="0.95"/><ellipse cx="237.21" cy="326.05" rx="1.71" ry="2.91" fill="#f0e020" opacity="0.95"/><ellipse cx="237.53" cy="326.12" rx="1.71" ry="2.91" fill="#f0e020" opacity="0.95"/><ellipse cx="236.89" cy="325.94" rx="1.71" ry="2.91" fill="#f0e020" opacity="0.95"/><ellipse cx="236.97" cy="325.38" rx="1.27" ry="2.16" fill="#e82818" opacity="0.95"/><ellipse cx="236.89" cy="326.67" rx="1.27" ry="2.16" fill="#e82818" opacity="0.95"/><ellipse cx="237.28" cy="325.44" rx="1.27" ry="2.16" fill="#e82818" opacity="0.95"/><ellipse cx="233.98" cy="328.13" rx="1.07" ry="1.16" fill="#58d040" opacity="0.85"/><ellipse cx="233.90" cy="330.36" rx="0.58" ry="1.02" fill="#58d040" opacity="0.85"/><ellipse cx="236.49" cy="320.10" rx="0.61" ry="1.19" fill="#58d040" opacity="0.85"/><ellipse cx="236.35" cy="332.81" rx="2.13" ry="2.67" fill="#38c0e8" opacity="0.95"/><ellipse cx="236.75" cy="331.99" rx="2.13" ry="2.67" fill="#38c0e8" opacity="0.95"/><ellipse cx="236.54" cy="333.19" rx="2.13" ry="2.67" fill="#38c0e8" opacity="0.95"/><ellipse cx="237.02" cy="331.97" rx="1.77" ry="2.21" fill="#58d040" opacity="0.95"/><ellipse cx="236.87" cy="332.08" rx="1.77" ry="2.21" fill="#58d040" opacity="0.95"/><ellipse cx="236.66" cy="332.37" rx="1.77" ry="2.21" fill="#58d040" opacity="0.95"/><ellipse cx="235.79" cy="328.62" rx="1.04" ry="1.05" fill="#38c0e8" opacity="0.85"/><ellipse cx="236.04" cy="335.74" rx="0.60" ry="1.15" fill="#58d040" opacity="0.85"/><ellipse cx="239.82" cy="333.53" rx="0.79" ry="0.64" fill="#58d040" opacity="0.85"/><ellipse cx="249.83" cy="325.51" rx="3.16" ry="3.94" fill="#38c0e8" opacity="0.95"/><ellipse cx="248.66" cy="323.84" rx="3.16" ry="3.94" fill="#38c0e8" opacity="0.95"/><ellipse cx="248.74" cy="323.11" rx="3.16" ry="3.94" fill="#38c0e8" opacity="0.95"/><ellipse cx="249.33" cy="324.83" rx="2.62" ry="3.27" fill="#58d040" opacity="0.95"/><ellipse cx="248.36" cy="324.70" rx="2.62" ry="3.27" fill="#58d040" opacity="0.95"/><ellipse cx="248.38" cy="325.12" rx="2.62" ry="3.27" fill="#58d040" opacity="0.95"/><ellipse cx="249.17" cy="324.74" rx="2.08" ry="2.60" fill="#f0e020" opacity="0.95"/><ellipse cx="249.51" cy="324.44" rx="2.08" ry="2.60" fill="#f0e020" opacity="0.95"/><ellipse cx="249.55" cy="324.06" rx="2.08" ry="2.60" fill="#f0e020" opacity="0.95"/><ellipse cx="248.84" cy="324.19" rx="1.55" ry="1.93" fill="#e82818" opacity="0.95"/><ellipse cx="249.27" cy="324.07" rx="1.55" ry="1.93" fill="#e82818" opacity="0.95"/><ellipse cx="248.89" cy="323.99" rx="1.55" ry="1.93" fill="#e82818" opacity="0.95"/><ellipse cx="253.74" cy="322.88" rx="0.78" ry="0.66" fill="#58d040" opacity="0.85"/><ellipse cx="253.45" cy="326.31" rx="0.73" ry="0.90" fill="#38c0e8" opacity="0.85"/><ellipse cx="248.27" cy="328.72" rx="0.50" ry="0.60" fill="#58d040" opacity="0.85"/><ellipse cx="249.22" cy="331.49" rx="1.48" ry="1.86" fill="#38c0e8" opacity="0.95"/><ellipse cx="248.83" cy="330.70" rx="1.48" ry="1.86" fill="#38c0e8" opacity="0.95"/><ellipse cx="249.11" cy="330.43" rx="1.48" ry="1.86" fill="#38c0e8" opacity="0.95"/><ellipse cx="260.83" cy="324.35" rx="2.69" ry="3.36" fill="#38c0e8" opacity="0.95"/><ellipse cx="261.25" cy="325.45" rx="2.69" ry="3.36" fill="#38c0e8" opacity="0.95"/><ellipse cx="260.25" cy="324.91" rx="2.69" ry="3.36" fill="#38c0e8" opacity="0.95"/><ellipse cx="260.10" cy="325.99" rx="2.23" ry="2.79" fill="#58d040" opacity="0.95"/><ellipse cx="260.62" cy="325.32" rx="2.23" ry="2.79" fill="#58d040" opacity="0.95"/><ellipse cx="260.76" cy="325.56" rx="2.23" ry="2.79" fill="#58d040" opacity="0.95"/><ellipse cx="260.17" cy="325.97" rx="1.78" ry="2.22" fill="#f0e020" opacity="0.95"/><ellipse cx="260.57" cy="324.83" rx="1.78" ry="2.22" fill="#f0e020" opacity="0.95"/><ellipse cx="260.21" cy="325.24" rx="1.78" ry="2.22" fill="#f0e020" opacity="0.95"/><ellipse cx="258.48" cy="322.10" rx="0.62" ry="1.14" fill="#38c0e8" opacity="0.85"/><ellipse cx="263.31" cy="328.65" rx="0.63" ry="0.81" fill="#58d040" opacity="0.85"/><ellipse cx="259.34" cy="329.35" rx="0.85" ry="1.06" fill="#38c0e8" opacity="0.85"/></g>
<line x1="209.8" y1="285" x2="209.8" y2="338.3" stroke="#a8b4c4" stroke-width="0.9"/>
<rect x="38.5" y="285.5" width="54" height="52.5" fill="#fff" stroke="#333" stroke-width="1"/>
<g filter="url(#bl2)"><ellipse cx="112" cy="323" rx="3.6" ry="5.5" fill="#20147a" opacity="0.45"/><ellipse cx="100.80" cy="333.95" rx="1.08" ry="1.34" fill="#38c0e8" opacity="0.95"/><ellipse cx="100.79" cy="333.86" rx="1.08" ry="1.34" fill="#38c0e8" opacity="0.95"/><ellipse cx="101.00" cy="334.21" rx="1.08" ry="1.34" fill="#38c0e8" opacity="0.95"/><ellipse cx="100.70" cy="333.80" rx="1.12" ry="1.39" fill="#58d040" opacity="0.95"/><ellipse cx="100.70" cy="333.80" rx="0.89" ry="1.11" fill="#f0e020" opacity="0.95"/><ellipse cx="100.70" cy="333.80" rx="0.66" ry="0.82" fill="#e82818" opacity="0.95"/><ellipse cx="101.91" cy="333.94" rx="0.86" ry="0.96" fill="#38c0e8" opacity="0.85"/><ellipse cx="100.18" cy="335.37" rx="1.01" ry="0.92" fill="#58d040" opacity="0.85"/><ellipse cx="100.02" cy="335.20" rx="0.94" ry="0.93" fill="#38c0e8" opacity="0.85"/></g>
<text x="112.1" y="327.4" font-size="6.3" fill="#e85030" text-anchor="middle" font-family="'Liberation Sans', sans-serif" stroke="#e85030" stroke-width="0.12">X</text>
<rect x="268.8" y="110.3" width="8.3" height="54.7" fill="url(#cbar)" stroke="#aaa" stroke-width="0.6"/>
<text x="292.3" y="107" font-size="10.2" fill="#111" font-weight="bold" stroke="#111" stroke-width="0.5">C</text>
<line x1="336.3" y1="102.60000000000001" x2="336.3" y2="169.9" stroke="#222" stroke-width="1"/>
<line x1="335.8" y1="169.4" x2="406.2" y2="169.4" stroke="#222" stroke-width="1"/>
<line x1="333.3" y1="169.4" x2="336.3" y2="169.4" stroke="#222" stroke-width="0.9"/>
<text x="323.70" y="172.10" font-size="6.8" fill="#231f20" text-anchor="end" stroke="#231f20" stroke-width="0.12">10</text>
<text x="324.00" y="169.20" font-size="4.5" fill="#231f20" stroke="#231f20" stroke-width="0.12">6</text>
<line x1="333.3" y1="156.54000000000002" x2="336.3" y2="156.54000000000002" stroke="#222" stroke-width="0.9"/>
<text x="323.70" y="159.24" font-size="6.8" fill="#231f20" text-anchor="end" stroke="#231f20" stroke-width="0.12">10</text>
<text x="324.00" y="156.34" font-size="4.5" fill="#231f20" stroke="#231f20" stroke-width="0.12">7</text>
<line x1="333.3" y1="143.68" x2="336.3" y2="143.68" stroke="#222" stroke-width="0.9"/>
<text x="323.70" y="146.38" font-size="6.8" fill="#231f20" text-anchor="end" stroke="#231f20" stroke-width="0.12">10</text>
<text x="324.00" y="143.48" font-size="4.5" fill="#231f20" stroke="#231f20" stroke-width="0.12">8</text>
<line x1="333.3" y1="130.82" x2="336.3" y2="130.82" stroke="#222" stroke-width="0.9"/>
<text x="323.70" y="133.52" font-size="6.8" fill="#231f20" text-anchor="end" stroke="#231f20" stroke-width="0.12">10</text>
<text x="324.00" y="130.62" font-size="4.5" fill="#231f20" stroke="#231f20" stroke-width="0.12">9</text>
<line x1="333.3" y1="117.96000000000001" x2="336.3" y2="117.96000000000001" stroke="#222" stroke-width="0.9"/>
<text x="323.70" y="120.66" font-size="6.8" fill="#231f20" text-anchor="end" stroke="#231f20" stroke-width="0.12">10</text>
<text x="324.00" y="117.76" font-size="4.5" fill="#231f20" stroke="#231f20" stroke-width="0.12">10</text>
<line x1="333.3" y1="105.10000000000001" x2="336.3" y2="105.10000000000001" stroke="#222" stroke-width="0.9"/>
<text x="323.70" y="107.80" font-size="6.8" fill="#231f20" text-anchor="end" stroke="#231f20" stroke-width="0.12">10</text>
<text x="324.00" y="104.90" font-size="4.5" fill="#231f20" stroke="#231f20" stroke-width="0.12">11</text>
<line x1="336.3" y1="169.4" x2="336.3" y2="172.4" stroke="#222" stroke-width="0.9"/>
<text x="336.30" y="181.60" font-size="6.8" fill="#231f20" text-anchor="middle" stroke="#231f20" stroke-width="0.12">0</text>
<line x1="349.90000000000003" y1="169.4" x2="349.90000000000003" y2="172.4" stroke="#222" stroke-width="0.9"/>
<text x="349.90" y="181.60" font-size="6.8" fill="#231f20" text-anchor="middle" stroke="#231f20" stroke-width="0.12">10</text>
<line x1="363.5" y1="169.4" x2="363.5" y2="172.4" stroke="#222" stroke-width="0.9"/>
<text x="363.50" y="181.60" font-size="6.8" fill="#231f20" text-anchor="middle" stroke="#231f20" stroke-width="0.12">20</text>
<line x1="377.1" y1="169.4" x2="377.1" y2="172.4" stroke="#222" stroke-width="0.9"/>
<text x="377.10" y="181.60" font-size="6.8" fill="#231f20" text-anchor="middle" stroke="#231f20" stroke-width="0.12">30</text>
<line x1="390.70000000000005" y1="169.4" x2="390.70000000000005" y2="172.4" stroke="#222" stroke-width="0.9"/>
<text x="390.70" y="181.60" font-size="6.8" fill="#231f20" text-anchor="middle" stroke="#231f20" stroke-width="0.12">40</text>
<line x1="404.3" y1="169.4" x2="404.3" y2="172.4" stroke="#222" stroke-width="0.9"/>
<text x="404.30" y="181.60" font-size="6.8" fill="#231f20" text-anchor="middle" stroke="#231f20" stroke-width="0.12">50</text>
<polyline points="336.30,168.11 340.38,153.97 345.14,138.54 349.90,132.11 354.66,123.10" fill="none" stroke="#c4c4c4" stroke-width="0.9" stroke-linejoin="round"/>
<polyline points="336.30,169.40 340.38,156.54 345.14,141.11 349.90,134.68 354.66,128.25" fill="none" stroke="#c4c4c4" stroke-width="0.9" stroke-linejoin="round"/>
<polyline points="336.30,168.11 340.38,151.40 345.14,137.25 349.90,130.82 354.66,125.68" fill="none" stroke="#c4c4c4" stroke-width="0.9" stroke-linejoin="round"/>
<polyline points="336.30,169.40 340.38,155.25 345.14,143.68 349.90,135.96 354.66,126.96" fill="none" stroke="#c4c4c4" stroke-width="0.9" stroke-linejoin="round"/>
<polyline points="336.30,169.40 340.38,152.68 345.14,135.96 349.90,129.53 354.66,121.82" fill="none" stroke="#c4c4c4" stroke-width="0.9" stroke-linejoin="round"/>
<polyline points="336.30,169.40 340.38,156.54 345.14,139.82 349.90,133.39 354.66,130.82" fill="none" stroke="#c4c4c4" stroke-width="0.9" stroke-linejoin="round"/>
<text x="339.6" y="116.6" font-size="7" fill="#c4c4c4" textLength="16.6" lengthAdjust="spacingAndGlyphs" stroke="#c4c4c4" stroke-width="0.12">Mock</text>
<line x1="437.6" y1="102.8" x2="437.6" y2="170.1" stroke="#222" stroke-width="1"/>
<line x1="437.1" y1="169.6" x2="511" y2="169.6" stroke="#222" stroke-width="1"/>
<line x1="434.6" y1="169.6" x2="437.6" y2="169.6" stroke="#222" stroke-width="0.9"/>
<text x="425.00" y="172.30" font-size="6.8" fill="#231f20" text-anchor="end" stroke="#231f20" stroke-width="0.12">10</text>
<text x="425.30" y="169.40" font-size="4.5" fill="#231f20" stroke="#231f20" stroke-width="0.12">6</text>
<line x1="434.6" y1="156.74" x2="437.6" y2="156.74" stroke="#222" stroke-width="0.9"/>
<text x="425.00" y="159.44" font-size="6.8" fill="#231f20" text-anchor="end" stroke="#231f20" stroke-width="0.12">10</text>
<text x="425.30" y="156.54" font-size="4.5" fill="#231f20" stroke="#231f20" stroke-width="0.12">7</text>
<line x1="434.6" y1="143.88" x2="437.6" y2="143.88" stroke="#222" stroke-width="0.9"/>
<text x="425.00" y="146.58" font-size="6.8" fill="#231f20" text-anchor="end" stroke="#231f20" stroke-width="0.12">10</text>
<text x="425.30" y="143.68" font-size="4.5" fill="#231f20" stroke="#231f20" stroke-width="0.12">8</text>
<line x1="434.6" y1="131.01999999999998" x2="437.6" y2="131.01999999999998" stroke="#222" stroke-width="0.9"/>
<text x="425.00" y="133.72" font-size="6.8" fill="#231f20" text-anchor="end" stroke="#231f20" stroke-width="0.12">10</text>
<text x="425.30" y="130.82" font-size="4.5" fill="#231f20" stroke="#231f20" stroke-width="0.12">9</text>
<line x1="434.6" y1="118.16" x2="437.6" y2="118.16" stroke="#222" stroke-width="0.9"/>
<text x="425.00" y="120.86" font-size="6.8" fill="#231f20" text-anchor="end" stroke="#231f20" stroke-width="0.12">10</text>
<text x="425.30" y="117.96" font-size="4.5" fill="#231f20" stroke="#231f20" stroke-width="0.12">10</text>
<line x1="434.6" y1="105.3" x2="437.6" y2="105.3" stroke="#222" stroke-width="0.9"/>
<text x="425.00" y="108.00" font-size="6.8" fill="#231f20" text-anchor="end" stroke="#231f20" stroke-width="0.12">10</text>
<text x="425.30" y="105.10" font-size="4.5" fill="#231f20" stroke="#231f20" stroke-width="0.12">11</text>
<line x1="437.6" y1="169.6" x2="437.6" y2="172.6" stroke="#222" stroke-width="0.9"/>
<text x="437.60" y="181.80" font-size="6.8" fill="#231f20" text-anchor="middle" stroke="#231f20" stroke-width="0.12">0</text>
<line x1="452.0" y1="169.6" x2="452.0" y2="172.6" stroke="#222" stroke-width="0.9"/>
<text x="452.00" y="181.80" font-size="6.8" fill="#231f20" text-anchor="middle" stroke="#231f20" stroke-width="0.12">10</text>
<line x1="466.40000000000003" y1="169.6" x2="466.40000000000003" y2="172.6" stroke="#222" stroke-width="0.9"/>
<text x="466.40" y="181.80" font-size="6.8" fill="#231f20" text-anchor="middle" stroke="#231f20" stroke-width="0.12">20</text>
<line x1="480.8" y1="169.6" x2="480.8" y2="172.6" stroke="#222" stroke-width="0.9"/>
<text x="480.80" y="181.80" font-size="6.8" fill="#231f20" text-anchor="middle" stroke="#231f20" stroke-width="0.12">30</text>
<line x1="495.20000000000005" y1="169.6" x2="495.20000000000005" y2="172.6" stroke="#222" stroke-width="0.9"/>
<text x="495.20" y="181.80" font-size="6.8" fill="#231f20" text-anchor="middle" stroke="#231f20" stroke-width="0.12">40</text>
<line x1="509.6" y1="169.6" x2="509.6" y2="172.6" stroke="#222" stroke-width="0.9"/>
<text x="509.60" y="181.80" font-size="6.8" fill="#231f20" text-anchor="middle" stroke="#231f20" stroke-width="0.12">50</text>
<polyline points="438.75,165.74 446.96,162.01 461.65,153.78 472.45,140.02 488.00,118.16 507.15,110.70" fill="none" stroke="#4aa84a" stroke-width="0.9" stroke-linejoin="round"/>
<polyline points="437.60,168.31 447.97,138.74 457.76,132.31 467.84,136.16 477.92,123.30 488.00,127.16" fill="none" stroke="#4aa84a" stroke-width="0.7" stroke-dasharray="1.1 0.7" stroke-linejoin="round" opacity="0.9"/>
<polyline points="437.60,169.60 454.30,145.55 463.38,131.02 477.92,115.59 487.14,113.02" fill="none" stroke="#4aa84a" stroke-width="0.7" stroke-dasharray="1.1 0.7" stroke-linejoin="round" opacity="0.9"/>
<polyline points="437.60,169.60 457.90,154.68 466.98,141.82 477.92,123.30 487.14,116.87" fill="none" stroke="#4aa84a" stroke-width="0.7" stroke-dasharray="1.1 0.7" stroke-linejoin="round" opacity="0.9"/>
<polyline points="437.60,169.60 463.38,158.03 474.32,147.74 487.14,132.31 507.15,124.59" fill="none" stroke="#4aa84a" stroke-width="0.7" stroke-dasharray="1.1 0.7" stroke-linejoin="round" opacity="0.9"/>
<polyline points="437.60,168.31 459.63,160.60 467.98,156.74 472.45,149.02 476.48,152.88" fill="none" stroke="#4aa84a" stroke-width="0.7" stroke-dasharray="1.1 0.7" stroke-linejoin="round" opacity="0.9"/>
<polyline points="437.60,169.60 454.30,160.60 465.25,149.02 476.19,134.88 488.00,122.02" fill="none" stroke="#4aa84a" stroke-width="0.7" stroke-dasharray="1.1 0.7" stroke-linejoin="round" opacity="0.9"/>
<polyline points="437.60,169.60 461.65,156.74 472.45,141.82 481.66,127.16 488.00,124.59" fill="none" stroke="#4aa84a" stroke-width="0.7" stroke-dasharray="1.1 0.7" stroke-linejoin="round" opacity="0.9"/>
<polyline points="437.60,167.03 447.68,163.17 457.76,155.45 466.40,145.17 476.48,128.45 488.00,115.59" fill="none" stroke="#4aa84a" stroke-width="0.7" stroke-dasharray="1.1 0.7" stroke-linejoin="round" opacity="0.9"/>
<polyline points="437.60,169.60 450.56,164.46 462.08,151.60 470.72,132.31 479.36,119.45 488.00,114.30" fill="none" stroke="#4aa84a" stroke-width="0.7" stroke-dasharray="1.1 0.7" stroke-linejoin="round" opacity="0.9"/>
<text x="442.7" y="115.2" font-size="7" fill="#4aa84a" textLength="24.8" lengthAdjust="spacingAndGlyphs" stroke="#4aa84a" stroke-width="0.12">FMC63</text>
<line x1="336.3" y1="193.39999999999998" x2="336.3" y2="260.7" stroke="#222" stroke-width="1"/>
<line x1="335.8" y1="260.2" x2="405.9" y2="260.2" stroke="#222" stroke-width="1"/>
<line x1="333.3" y1="260.2" x2="336.3" y2="260.2" stroke="#222" stroke-width="0.9"/>
<text x="323.70" y="262.90" font-size="6.8" fill="#231f20" text-anchor="end" stroke="#231f20" stroke-width="0.12">10</text>
<text x="324.00" y="260.00" font-size="4.5" fill="#231f20" stroke="#231f20" stroke-width="0.12">6</text>
<line x1="333.3" y1="247.33999999999997" x2="336.3" y2="247.33999999999997" stroke="#222" stroke-width="0.9"/>
<text x="323.70" y="250.04" font-size="6.8" fill="#231f20" text-anchor="end" stroke="#231f20" stroke-width="0.12">10</text>
<text x="324.00" y="247.14" font-size="4.5" fill="#231f20" stroke="#231f20" stroke-width="0.12">7</text>
<line x1="333.3" y1="234.48" x2="336.3" y2="234.48" stroke="#222" stroke-width="0.9"/>
<text x="323.70" y="237.18" font-size="6.8" fill="#231f20" text-anchor="end" stroke="#231f20" stroke-width="0.12">10</text>
<text x="324.00" y="234.28" font-size="4.5" fill="#231f20" stroke="#231f20" stroke-width="0.12">8</text>
<line x1="333.3" y1="221.62" x2="336.3" y2="221.62" stroke="#222" stroke-width="0.9"/>
<text x="323.70" y="224.32" font-size="6.8" fill="#231f20" text-anchor="end" stroke="#231f20" stroke-width="0.12">10</text>
<text x="324.00" y="221.42" font-size="4.5" fill="#231f20" stroke="#231f20" stroke-width="0.12">9</text>
<line x1="333.3" y1="208.76" x2="336.3" y2="208.76" stroke="#222" stroke-width="0.9"/>
<text x="323.70" y="211.46" font-size="6.8" fill="#231f20" text-anchor="end" stroke="#231f20" stroke-width="0.12">10</text>
<text x="324.00" y="208.56" font-size="4.5" fill="#231f20" stroke="#231f20" stroke-width="0.12">10</text>
<line x1="333.3" y1="195.89999999999998" x2="336.3" y2="195.89999999999998" stroke="#222" stroke-width="0.9"/>
<text x="323.70" y="198.60" font-size="6.8" fill="#231f20" text-anchor="end" stroke="#231f20" stroke-width="0.12">10</text>
<text x="324.00" y="195.70" font-size="4.5" fill="#231f20" stroke="#231f20" stroke-width="0.12">11</text>
<line x1="336.3" y1="260.2" x2="336.3" y2="263.2" stroke="#222" stroke-width="0.9"/>
<text x="336.30" y="272.40" font-size="6.8" fill="#231f20" text-anchor="middle" stroke="#231f20" stroke-width="0.12">0</text>
<line x1="349.94" y1="260.2" x2="349.94" y2="263.2" stroke="#222" stroke-width="0.9"/>
<text x="349.94" y="272.40" font-size="6.8" fill="#231f20" text-anchor="middle" stroke="#231f20" stroke-width="0.12">10</text>
<line x1="363.58000000000004" y1="260.2" x2="363.58000000000004" y2="263.2" stroke="#222" stroke-width="0.9"/>
<text x="363.58" y="272.40" font-size="6.8" fill="#231f20" text-anchor="middle" stroke="#231f20" stroke-width="0.12">20</text>
<line x1="377.22" y1="260.2" x2="377.22" y2="263.2" stroke="#222" stroke-width="0.9"/>
<text x="377.22" y="272.40" font-size="6.8" fill="#231f20" text-anchor="middle" stroke="#231f20" stroke-width="0.12">30</text>
<line x1="390.86" y1="260.2" x2="390.86" y2="263.2" stroke="#222" stroke-width="0.9"/>
<text x="390.86" y="272.40" font-size="6.8" fill="#231f20" text-anchor="middle" stroke="#231f20" stroke-width="0.12">40</text>
<line x1="404.5" y1="260.2" x2="404.5" y2="263.2" stroke="#222" stroke-width="0.9"/>
<text x="404.50" y="272.40" font-size="6.8" fill="#231f20" text-anchor="middle" stroke="#231f20" stroke-width="0.12">50</text>
<polyline points="336.30,257.63 345.85,244.77 355.94,225.48 364.13,217.76 373.13,207.47 383.36,199.76 399.04,195.90" fill="none" stroke="#c0163c" stroke-width="0.7" stroke-dasharray="1.1 0.7" stroke-linejoin="round" opacity="0.9"/>
<polyline points="336.30,256.34 341.76,260.20 347.21,258.91 355.40,242.20 364.94,224.19 373.13,206.19 380.63,219.05 402.45,205.54" fill="none" stroke="#c0163c" stroke-width="0.7" stroke-dasharray="1.1 0.7" stroke-linejoin="round" opacity="0.9"/>
<polyline points="336.30,258.91 341.76,260.20 347.21,258.91 355.40,240.91 364.94,222.91 373.13,206.19 384.04,216.48 402.45,205.54" fill="none" stroke="#c0163c" stroke-width="0.7" stroke-dasharray="1.1 0.7" stroke-linejoin="round" opacity="0.9"/>
<polyline points="336.30,260.20 341.76,260.20 348.58,257.63 356.76,243.48 366.31,226.76 374.49,211.33 402.45,204.90" fill="none" stroke="#c0163c" stroke-width="0.7" stroke-dasharray="1.1 0.7" stroke-linejoin="round" opacity="0.9"/>
<polyline points="336.30,258.91 343.12,260.20 348.58,258.91 358.12,246.05 366.31,230.62 374.49,220.33 402.45,216.48" fill="none" stroke="#c0163c" stroke-width="0.7" stroke-dasharray="1.1 0.7" stroke-linejoin="round" opacity="0.9"/>
<polyline points="336.30,260.20 343.12,260.20 348.58,260.20 358.12,247.34 366.31,239.62 374.22,233.19 402.45,227.41" fill="none" stroke="#c0163c" stroke-width="0.7" stroke-dasharray="1.1 0.7" stroke-linejoin="round" opacity="0.9"/>
<polyline points="336.30,257.63 343.12,258.91 349.94,256.34 359.49,242.20 367.67,225.48 374.49,213.90 384.04,207.47 401.77,203.62" fill="none" stroke="#c0163c" stroke-width="0.7" stroke-dasharray="1.1 0.7" stroke-linejoin="round" opacity="0.9"/>
<polyline points="336.30,260.20 344.48,260.20 349.94,255.06 359.49,237.05 369.04,221.62 377.22,211.33 390.86,210.05" fill="none" stroke="#c0163c" stroke-width="0.7" stroke-dasharray="1.1 0.7" stroke-linejoin="round" opacity="0.9"/>
<polyline points="336.30,258.91 344.48,260.20 351.30,249.91 360.85,234.48 370.40,217.76 377.22,208.76" fill="none" stroke="#c0163c" stroke-width="0.7" stroke-dasharray="1.1 0.7" stroke-linejoin="round" opacity="0.9"/>
<polyline points="336.30,260.20 345.85,260.20 352.67,252.48 362.22,239.62 371.76,224.19 379.95,221.62" fill="none" stroke="#c0163c" stroke-width="0.7" stroke-dasharray="1.1 0.7" stroke-linejoin="round" opacity="0.9"/>
<text x="338.8" y="208.3" font-size="7" fill="#c0163c" textLength="26.2" lengthAdjust="spacingAndGlyphs" stroke="#c0163c" stroke-width="0.12">VH4vκ1</text>
<line x1="437.6" y1="193.39999999999998" x2="437.6" y2="260.7" stroke="#222" stroke-width="1"/>
<line x1="437.1" y1="260.2" x2="512" y2="260.2" stroke="#222" stroke-width="1"/>
<line x1="434.6" y1="260.2" x2="437.6" y2="260.2" stroke="#222" stroke-width="0.9"/>
<text x="425.00" y="262.90" font-size="6.8" fill="#231f20" text-anchor="end" stroke="#231f20" stroke-width="0.12">10</text>
<text x="425.30" y="260.00" font-size="4.5" fill="#231f20" stroke="#231f20" stroke-width="0.12">6</text>
<line x1="434.6" y1="247.33999999999997" x2="437.6" y2="247.33999999999997" stroke="#222" stroke-width="0.9"/>
<text x="425.00" y="250.04" font-size="6.8" fill="#231f20" text-anchor="end" stroke="#231f20" stroke-width="0.12">10</text>
<text x="425.30" y="247.14" font-size="4.5" fill="#231f20" stroke="#231f20" stroke-width="0.12">7</text>
<line x1="434.6" y1="234.48" x2="437.6" y2="234.48" stroke="#222" stroke-width="0.9"/>
<text x="425.00" y="237.18" font-size="6.8" fill="#231f20" text-anchor="end" stroke="#231f20" stroke-width="0.12">10</text>
<text x="425.30" y="234.28" font-size="4.5" fill="#231f20" stroke="#231f20" stroke-width="0.12">8</text>
<line x1="434.6" y1="221.62" x2="437.6" y2="221.62" stroke="#222" stroke-width="0.9"/>
<text x="425.00" y="224.32" font-size="6.8" fill="#231f20" text-anchor="end" stroke="#231f20" stroke-width="0.12">10</text>
<text x="425.30" y="221.42" font-size="4.5" fill="#231f20" stroke="#231f20" stroke-width="0.12">9</text>
<line x1="434.6" y1="208.76" x2="437.6" y2="208.76" stroke="#222" stroke-width="0.9"/>
<text x="425.00" y="211.46" font-size="6.8" fill="#231f20" text-anchor="end" stroke="#231f20" stroke-width="0.12">10</text>
<text x="425.30" y="208.56" font-size="4.5" fill="#231f20" stroke="#231f20" stroke-width="0.12">10</text>
<line x1="434.6" y1="195.89999999999998" x2="437.6" y2="195.89999999999998" stroke="#222" stroke-width="0.9"/>
<text x="425.00" y="198.60" font-size="6.8" fill="#231f20" text-anchor="end" stroke="#231f20" stroke-width="0.12">10</text>
<text x="425.30" y="195.70" font-size="4.5" fill="#231f20" stroke="#231f20" stroke-width="0.12">11</text>
<line x1="437.6" y1="260.2" x2="437.6" y2="263.2" stroke="#222" stroke-width="0.9"/>
<text x="437.60" y="272.40" font-size="6.8" fill="#231f20" text-anchor="middle" stroke="#231f20" stroke-width="0.12">0</text>
<line x1="451.90000000000003" y1="260.2" x2="451.90000000000003" y2="263.2" stroke="#222" stroke-width="0.9"/>
<text x="451.90" y="272.40" font-size="6.8" fill="#231f20" text-anchor="middle" stroke="#231f20" stroke-width="0.12">10</text>
<line x1="466.20000000000005" y1="260.2" x2="466.20000000000005" y2="263.2" stroke="#222" stroke-width="0.9"/>
<text x="466.20" y="272.40" font-size="6.8" fill="#231f20" text-anchor="middle" stroke="#231f20" stroke-width="0.12">20</text>
<line x1="480.5" y1="260.2" x2="480.5" y2="263.2" stroke="#222" stroke-width="0.9"/>
<text x="480.50" y="272.40" font-size="6.8" fill="#231f20" text-anchor="middle" stroke="#231f20" stroke-width="0.12">30</text>
<line x1="494.8" y1="260.2" x2="494.8" y2="263.2" stroke="#222" stroke-width="0.9"/>
<text x="494.80" y="272.40" font-size="6.8" fill="#231f20" text-anchor="middle" stroke="#231f20" stroke-width="0.12">40</text>
<line x1="509.1" y1="260.2" x2="509.1" y2="263.2" stroke="#222" stroke-width="0.9"/>
<text x="509.10" y="272.40" font-size="6.8" fill="#231f20" text-anchor="middle" stroke="#231f20" stroke-width="0.12">50</text>
<polyline points="437.60,258.91 443.32,256.34 449.04,248.63 457.91,220.98 468.06,206.19 476.50,201.04" fill="none" stroke="#2a5590" stroke-width="0.7" stroke-dasharray="1.1 0.7" stroke-linejoin="round" opacity="0.9"/>
<polyline points="437.60,260.20 444.75,258.91 450.47,249.91 457.62,234.48 467.06,214.55 477.07,204.26" fill="none" stroke="#2a5590" stroke-width="0.9" stroke-linejoin="round"/>
<polyline points="437.60,260.20 444.75,260.20 451.90,247.34 459.05,231.91 467.63,217.76 477.64,206.19" fill="none" stroke="#2a5590" stroke-width="0.7" stroke-dasharray="1.1 0.7" stroke-linejoin="round" opacity="0.9"/>
<polyline points="437.60,258.91 446.18,260.20 451.90,252.48 460.48,231.91 469.06,216.48 477.64,203.62" fill="none" stroke="#2a5590" stroke-width="0.7" stroke-dasharray="1.1 0.7" stroke-linejoin="round" opacity="0.9"/>
<polyline points="437.60,260.20 446.18,258.91 453.33,247.34 461.91,229.34 469.06,219.05 476.21,208.76" fill="none" stroke="#2a5590" stroke-width="0.7" stroke-dasharray="1.1 0.7" stroke-linejoin="round" opacity="0.9"/>
<polyline points="437.60,260.20 447.61,260.20 454.76,246.05 463.34,228.05 470.49,215.19 477.64,207.47" fill="none" stroke="#2a5590" stroke-width="0.7" stroke-dasharray="1.1 0.7" stroke-linejoin="round" opacity="0.9"/>
<polyline points="437.60,257.63 443.32,255.06 450.47,243.48 459.05,226.76 467.63,212.62 476.21,202.33" fill="none" stroke="#2a5590" stroke-width="0.7" stroke-dasharray="1.1 0.7" stroke-linejoin="round" opacity="0.9"/>
<polyline points="437.60,260.20 447.61,260.20 454.76,244.77 463.34,226.76 468.92,220.33 478.07,227.41" fill="none" stroke="#2a5590" stroke-width="0.7" stroke-dasharray="1.1 0.7" stroke-linejoin="round" opacity="0.9"/>
<polyline points="437.60,260.20 446.18,257.63 453.33,242.20 461.91,222.91 469.06,211.33 477.64,204.90" fill="none" stroke="#2a5590" stroke-width="0.7" stroke-dasharray="1.1 0.7" stroke-linejoin="round" opacity="0.9"/>
<text x="443" y="210.3" font-size="7" fill="#2f5f9a" textLength="14" lengthAdjust="spacingAndGlyphs" stroke="#2f5f9a" stroke-width="0.12">4D5</text>
<text transform="translate(310.3,209.5) rotate(-90)" font-size="7.6" fill="#231f20" textLength="52" lengthAdjust="spacingAndGlyphs" stroke="#231f20" stroke-width="0.12">Flux (photons/s)</text>
<text x="408.2" y="285.5" font-size="8.3" fill="#231f20" textLength="31.4" lengthAdjust="spacingAndGlyphs" stroke="#231f20" stroke-width="0.12">Time (days)</text>
<text x="292.3" y="301.3" font-size="10.2" fill="#111" font-weight="bold" stroke="#111" stroke-width="0.5">D</text>
<line x1="336.3" y1="304.3" x2="336.3" y2="360.8" stroke="#222" stroke-width="1"/>
<line x1="335.8" y1="360.3" x2="421" y2="360.3" stroke="#222" stroke-width="1"/>
<line x1="332.3" y1="360.3" x2="336.3" y2="360.3" stroke="#222" stroke-width="0.9"/>
<text x="328.4" y="362.70" font-size="6.6" fill="#231f20" text-anchor="end" stroke="#231f20" stroke-width="0.12">0</text>
<line x1="332.3" y1="349.5" x2="336.3" y2="349.5" stroke="#222" stroke-width="0.9"/>
<text x="328.4" y="351.90" font-size="6.6" fill="#231f20" text-anchor="end" stroke="#231f20" stroke-width="0.12">20</text>
<line x1="332.3" y1="338.7" x2="336.3" y2="338.7" stroke="#222" stroke-width="0.9"/>
<text x="328.4" y="341.10" font-size="6.6" fill="#231f20" text-anchor="end" stroke="#231f20" stroke-width="0.12">40</text>
<line x1="332.3" y1="327.9" x2="336.3" y2="327.9" stroke="#222" stroke-width="0.9"/>
<text x="328.4" y="330.30" font-size="6.6" fill="#231f20" text-anchor="end" stroke="#231f20" stroke-width="0.12">60</text>
<line x1="332.3" y1="317.1" x2="336.3" y2="317.1" stroke="#222" stroke-width="0.9"/>
<text x="328.4" y="319.50" font-size="6.6" fill="#231f20" text-anchor="end" stroke="#231f20" stroke-width="0.12">80</text>
<line x1="332.3" y1="306.3" x2="336.3" y2="306.3" stroke="#222" stroke-width="0.9"/>
<text x="328.4" y="308.70" font-size="6.6" fill="#231f20" text-anchor="end" stroke="#231f20" stroke-width="0.12">100</text>
<line x1="336.3" y1="360.3" x2="336.3" y2="363.3" stroke="#222" stroke-width="0.9"/>
<text x="336.30" y="372.6" font-size="6.6" fill="#231f20" text-anchor="middle" stroke="#231f20" stroke-width="0.12">0</text>
<line x1="349.83" y1="360.3" x2="349.83" y2="363.3" stroke="#222" stroke-width="0.9"/>
<text x="349.83" y="372.6" font-size="6.6" fill="#231f20" text-anchor="middle" stroke="#231f20" stroke-width="0.12">10</text>
<line x1="363.36" y1="360.3" x2="363.36" y2="363.3" stroke="#222" stroke-width="0.9"/>
<text x="363.36" y="372.6" font-size="6.6" fill="#231f20" text-anchor="middle" stroke="#231f20" stroke-width="0.12">20</text>
<line x1="376.89" y1="360.3" x2="376.89" y2="363.3" stroke="#222" stroke-width="0.9"/>
<text x="376.89" y="372.6" font-size="6.6" fill="#231f20" text-anchor="middle" stroke="#231f20" stroke-width="0.12">30</text>
<line x1="390.42" y1="360.3" x2="390.42" y2="363.3" stroke="#222" stroke-width="0.9"/>
<text x="390.42" y="372.6" font-size="6.6" fill="#231f20" text-anchor="middle" stroke="#231f20" stroke-width="0.12">40</text>
<line x1="403.95000000000005" y1="360.3" x2="403.95000000000005" y2="363.3" stroke="#222" stroke-width="0.9"/>
<text x="403.95" y="372.6" font-size="6.6" fill="#231f20" text-anchor="middle" stroke="#231f20" stroke-width="0.12">50</text>
<line x1="417.48" y1="360.3" x2="417.48" y2="363.3" stroke="#222" stroke-width="0.9"/>
<text x="417.48" y="372.6" font-size="6.6" fill="#231f20" text-anchor="middle" stroke="#231f20" stroke-width="0.12">60</text>
<polyline points="336.30,306.30 371.75,306.30 371.75,317.10 374.18,317.10 374.18,338.70 380.68,338.70 380.68,354.90 383.25,354.90 383.25,360.30" fill="none" stroke="#2f5f9a" stroke-width="0.9"/>
<polyline points="336.30,306.30 375.27,306.30 375.27,311.70 383.79,311.70 383.79,322.50 385.96,322.50 385.96,327.90 391.64,327.90 391.64,333.30 393.40,333.30 393.40,338.70 395.97,338.70 395.97,349.50 407.74,349.50 407.74,354.90 412.61,354.90 412.61,360.30" fill="none" stroke="#c0163c" stroke-width="0.9"/>
<polyline points="336.30,306.30 364.04,306.30 364.04,311.70 383.38,311.70 383.38,333.30 386.23,333.30 386.23,338.70 391.64,338.70 391.64,344.10 392.86,344.10 392.86,349.50 401.92,349.50 401.92,360.30" fill="none" stroke="#3cae3c" stroke-width="0.9"/>
<polyline points="336.30,306.30 357.41,306.30 357.41,333.30 361.33,333.30 361.33,354.90 371.48,354.90 371.48,360.30" fill="none" stroke="#c8c8c8" stroke-width="0.9"/>
<line x1="356.40680000000003" y1="333.3" x2="358.40680000000003" y2="333.3" stroke="#aaa" stroke-width="0.8"/>
<line x1="360.33050000000003" y1="354.90000000000003" x2="362.33050000000003" y2="354.90000000000003" stroke="#aaa" stroke-width="0.8"/>
<text transform="translate(311.3,353.7) rotate(-90)" font-size="7.2" fill="#231f20" textLength="43.8" lengthAdjust="spacingAndGlyphs" stroke="#231f20" stroke-width="0.12">Percent survival</text>
<text x="362.5" y="384.5" font-size="8.3" fill="#231f20" textLength="31.6" lengthAdjust="spacingAndGlyphs" stroke="#231f20" stroke-width="0.12">Time (days)</text>
<line x1="424.4" y1="307" x2="428.4" y2="307" stroke="#b8b8b8" stroke-width="0.9"/>
<line x1="426.4" y1="306" x2="426.4" y2="308" stroke="#b8b8b8" stroke-width="0.7"/>
<text x="432.1" y="309.4" font-size="7" fill="#231f20" textLength="16.3" lengthAdjust="spacingAndGlyphs" stroke="#231f20" stroke-width="0.12">Mock</text>
<line x1="424.4" y1="317.5" x2="428.4" y2="317.5" stroke="#3cae3c" stroke-width="0.9"/>
<line x1="426.4" y1="316.5" x2="426.4" y2="318.5" stroke="#3cae3c" stroke-width="0.7"/>
<text x="432.1" y="319.9" font-size="7" fill="#231f20" textLength="23.2" lengthAdjust="spacingAndGlyphs" stroke="#231f20" stroke-width="0.12">FMC63</text>
<line x1="424.4" y1="328" x2="428.4" y2="328" stroke="#c0163c" stroke-width="0.9"/>
<line x1="426.4" y1="327" x2="426.4" y2="329" stroke="#c0163c" stroke-width="0.7"/>
<text x="432.1" y="330.4" font-size="7" fill="#231f20" textLength="24.5" lengthAdjust="spacingAndGlyphs" stroke="#231f20" stroke-width="0.12">VH4vκ1</text>
<line x1="424.4" y1="339" x2="428.4" y2="339" stroke="#2f5f9a" stroke-width="0.9"/>
<line x1="426.4" y1="338" x2="426.4" y2="340" stroke="#2f5f9a" stroke-width="0.7"/>
<text x="432.1" y="341.4" font-size="7" fill="#231f20" textLength="14.4" lengthAdjust="spacingAndGlyphs" stroke="#231f20" stroke-width="0.12">4D5</text>
<path d="M459.2,318.4 H462 V338.3 H459.2 M462,328.5 H459.8" fill="none" stroke="#222" stroke-width="0.9"/>
<text x="463.8" y="324.8" font-size="6.8" fill="#231f20" textLength="5.8" lengthAdjust="spacingAndGlyphs" stroke="#231f20" stroke-width="0.12">ns</text>
<text x="463.8" y="338.3" font-size="7.6" fill="#231f20" textLength="5" lengthAdjust="spacingAndGlyphs" stroke="#231f20" stroke-width="0.12">**</text>
<path d="M473.4,318.4 H476.4 V339.5 H473.4 M476.4,328.9 H477.6" fill="none" stroke="#222" stroke-width="0.9"/>
<text x="478.3" y="332.8" font-size="7.6" fill="#231f20" textLength="5" lengthAdjust="spacingAndGlyphs" stroke="#231f20" stroke-width="0.12">**</text></svg></body></html>
